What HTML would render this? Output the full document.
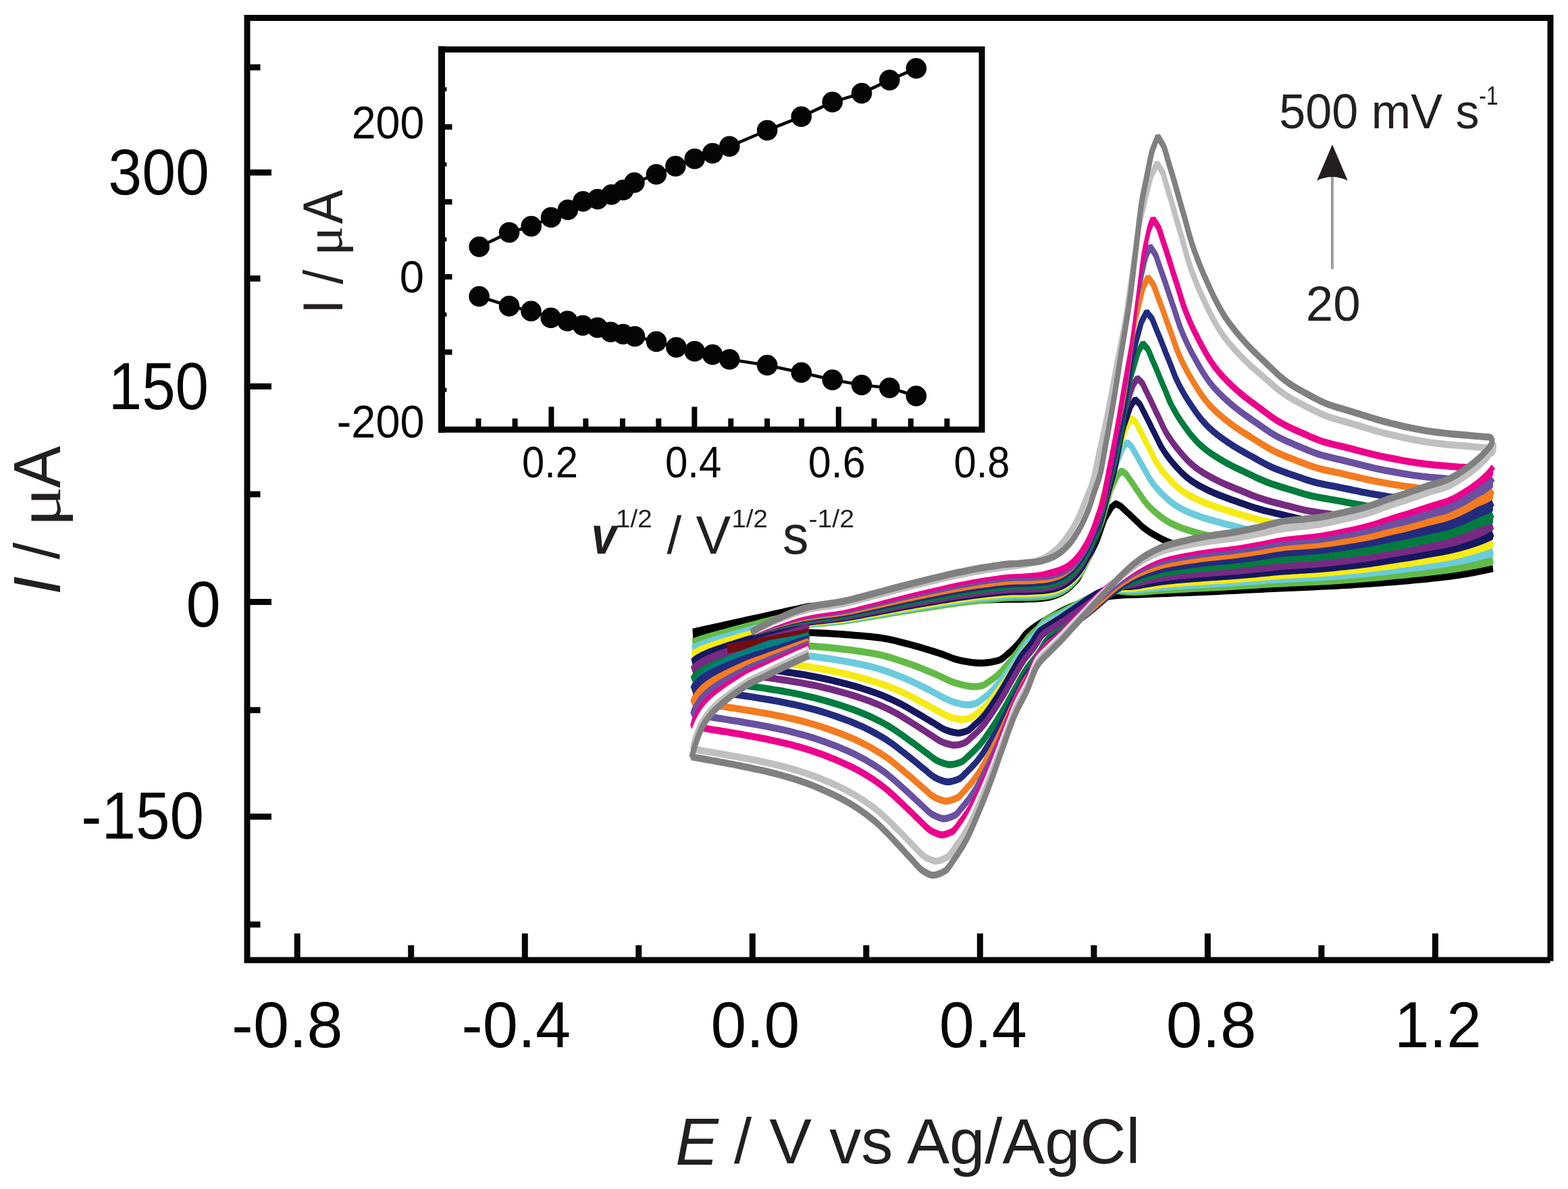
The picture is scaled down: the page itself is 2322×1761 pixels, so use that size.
<!DOCTYPE html>
<html lang="en"><head><meta charset="utf-8"><title>Cyclic voltammograms at different scan rates</title>
<style>html,body{margin:0;padding:0;background:#fff}body{width:2322px;height:1761px;overflow:hidden}svg{display:block}text{font-family:"Liberation Sans", Arial, Helvetica, sans-serif}</style>
</head><body>
<svg xmlns="http://www.w3.org/2000/svg" width="2322" height="1761" viewBox="0 0 2322 1761">
<rect width="2322" height="1761" fill="#fff"/>
<g id="curves" fill="none" stroke-linejoin="bevel">
<g transform="scale(1,1.3)">
<path d="M1026.0 720.0L1032.0 719.0L1038.0 718.0L1044.0 716.9L1050.0 715.9L1056.0 714.9L1062.0 713.9L1068.0 712.9L1074.0 711.8L1080.0 710.8L1086.0 709.8L1092.0 708.8L1098.0 707.8L1104.0 706.7L1110.0 705.7L1116.0 704.7L1122.0 703.7L1128.0 702.7L1134.0 701.6L1140.0 700.6L1146.0 699.6L1152.0 698.6L1158.0 697.6L1164.0 696.5L1170.0 695.5L1176.0 694.5L1182.0 693.5L1188.0 692.5L1198.0 690.8L1198.0 691.8L1188.0 693.7L1182.0 694.9L1176.0 696.1L1170.0 697.3L1164.0 698.5L1158.0 699.7L1152.0 700.9L1146.0 702.0L1140.0 703.2L1134.0 704.4L1128.0 705.6L1122.0 706.8L1116.0 708.0L1110.0 709.2L1104.0 710.4L1098.0 711.6L1092.0 712.8L1086.0 714.1L1080.0 715.3L1074.0 716.6L1068.0 717.8L1062.0 719.1L1056.0 720.4L1050.0 721.7L1044.0 723.0L1038.0 724.5L1032.0 726.1L1026.0 727.8Z" fill="#000000" stroke="none"/>
<path d="M1116.0 718.6L1122.0 715.9L1128.0 713.4L1134.0 710.9L1140.0 708.6L1146.0 706.4L1152.0 704.3L1158.0 702.2L1164.0 700.2L1170.0 698.2L1176.0 696.3L1182.0 694.5L1188.0 692.9L1194.0 691.6L1200.0 690.7L1206.0 690.6L1212.0 690.4L1218.0 690.3L1224.0 690.2L1230.0 690.1L1236.0 690.0L1242.0 689.9L1248.0 689.7L1254.0 689.6L1260.0 689.4L1266.0 689.2L1272.0 689.0L1278.0 688.8L1284.0 688.6L1290.0 688.4L1296.0 688.2L1302.0 688.0L1308.0 687.8L1314.0 687.6L1320.0 687.4L1326.0 687.2L1332.0 687.0L1338.0 686.8L1344.0 686.6L1350.0 686.4L1356.0 686.2L1362.0 686.0L1368.0 685.8L1374.0 685.6L1380.0 685.5L1386.0 685.3L1392.0 685.1L1398.0 684.9L1404.0 684.7L1410.0 684.6L1416.0 684.4L1422.0 684.2L1428.0 684.1L1434.0 683.9L1440.0 683.8L1446.0 683.6L1452.0 683.5L1458.0 683.4L1464.0 683.3L1470.0 683.1L1476.0 683.0L1482.0 682.9L1488.0 682.8L1494.0 682.7L1500.0 682.7L1506.0 682.7L1512.0 682.7L1518.0 682.6L1524.0 682.4L1530.0 682.3L1536.0 682.1L1540.0 681.8L1542.0 681.7L1544.0 681.5L1546.0 681.3L1548.0 681.1L1550.0 680.9L1552.0 680.6L1554.0 680.3L1556.0 680.0L1558.0 679.6L1560.0 679.1L1562.0 678.6L1564.0 678.1L1566.0 677.5L1568.0 676.8L1570.0 676.1L1572.0 675.3L1574.0 674.4L1576.0 673.5L1578.0 672.5L1580.0 671.5L1582.0 670.3L1584.0 669.0L1586.0 667.6L1588.0 666.0L1590.0 664.4L1592.0 662.9L1594.0 661.4L1596.0 659.6L1598.0 657.0L1600.0 654.0L1602.0 651.1L1604.0 648.3L1606.0 645.5L1608.0 642.5L1610.0 639.4L1612.0 636.2L1614.0 632.8L1616.0 629.5L1618.0 626.3L1620.0 623.2L1622.0 620.1L1624.0 616.8L1626.0 612.9L1628.0 608.5L1630.0 604.1L1632.0 599.6L1634.0 595.1L1636.0 591.1L1638.0 588.2L1640.0 585.7L1642.0 583.1L1644.0 580.5L1646.0 577.9L1652.0 573.8L1658.0 576.0L1660.0 577.0L1662.0 578.4L1664.0 579.9L1666.0 581.3L1668.0 582.8L1670.0 584.2L1672.0 585.6L1674.0 587.1L1676.0 588.6L1678.0 590.1L1680.0 591.5L1682.0 593.0L1684.0 594.4L1686.0 595.9L1688.0 597.4L1690.0 598.9L1692.0 600.3L1694.0 601.6L1696.0 602.7L1698.0 603.9L1700.0 604.9L1702.0 606.0L1704.0 607.0L1706.0 607.9L1708.0 608.8L1710.0 609.7L1712.0 610.6L1714.0 611.4L1716.0 612.2L1718.0 613.1L1720.0 613.9L1722.0 614.6L1724.0 615.4L1726.0 616.1L1728.0 616.8L1730.0 617.5L1732.0 618.1L1734.0 618.7L1736.0 619.3L1738.0 619.8L1740.0 620.3M2211.0 647.7L2209.0 648.0L2208.0 648.2L2206.0 648.5L2203.0 649.0L2202.0 649.2L2200.0 649.5L2197.0 650.0L2196.0 650.1L2194.0 650.4L2191.0 650.9L2190.0 651.1L2188.0 651.4L2185.0 651.8L2184.0 652.0L2182.0 652.3L2179.0 652.7L2178.0 652.8L2176.0 653.1L2173.0 653.5L2172.0 653.7L2170.0 653.9L2166.0 654.4L2160.0 655.2L2154.0 655.8L2148.0 656.5L2142.0 657.0L2136.0 657.6L2130.0 658.1L2124.0 658.6L2118.0 659.1L2112.0 659.6L2106.0 660.1L2100.0 660.5L2094.0 660.9L2088.0 661.3L2082.0 661.7L2076.0 662.1L2070.0 662.5L2064.0 662.9L2058.0 663.3L2052.0 663.6L2046.0 664.0L2040.0 664.3L2034.0 664.6L2028.0 665.0L2022.0 665.3L2016.0 665.6L2010.0 665.9L2004.0 666.2L1998.0 666.5L1992.0 666.7L1986.0 667.0L1980.0 667.3L1974.0 667.5L1968.0 667.8L1962.0 668.0L1956.0 668.2L1950.0 668.4L1944.0 668.7L1938.0 668.9L1932.0 669.1L1926.0 669.3L1920.0 669.4L1914.0 669.6L1908.0 669.8L1902.0 670.0L1896.0 670.2L1890.0 670.4L1884.0 670.6L1878.0 670.8L1872.0 671.1L1866.0 671.3L1860.0 671.5L1854.0 671.8L1848.0 672.0L1842.0 672.2L1836.0 672.5L1830.0 672.7L1824.0 673.0L1818.0 673.2L1812.0 673.4L1806.0 673.6L1800.0 673.8L1794.0 674.0L1788.0 674.2L1782.0 674.4L1776.0 674.6L1770.0 674.8L1764.0 675.0L1758.0 675.2L1752.0 675.4L1746.0 675.5L1740.0 675.7L1734.0 675.9L1728.0 676.1L1722.0 676.2L1716.0 676.4L1710.0 676.6L1704.0 676.8L1698.0 677.0L1692.0 677.2L1686.0 677.3L1680.0 677.5L1674.0 677.6L1668.0 677.8L1662.0 678.0L1656.0 678.3L1650.0 678.7L1644.0 679.3L1638.0 680.1L1632.0 681.0L1626.0 682.0L1620.0 683.1L1614.0 684.2L1608.0 685.4L1602.0 686.8L1596.0 688.3L1590.0 690.0L1584.0 691.8L1578.0 693.9L1572.0 696.2L1566.0 698.6L1560.0 701.2L1559.0 701.6L1556.0 703.0L1554.0 703.8L1553.0 704.3L1550.0 705.6L1548.0 706.5L1547.0 706.9L1544.0 708.3L1542.0 709.2L1541.0 709.7L1538.0 711.1L1536.0 712.1L1535.0 712.6L1532.0 714.2L1530.0 715.3L1529.0 715.8L1526.0 717.6L1524.0 718.9L1523.0 719.5L1520.0 721.6L1518.0 723.1L1517.0 723.9L1514.0 727.0L1512.0 729.3L1511.0 730.3L1508.0 733.1L1506.0 734.8L1505.0 735.6L1502.0 738.1L1500.0 739.6L1499.0 740.4L1496.0 742.5L1494.0 743.8L1493.0 744.5L1490.0 746.6L1488.0 747.9L1487.0 748.6L1484.0 750.4L1482.0 751.4L1481.0 751.7L1478.0 752.5L1476.0 752.9L1475.0 753.1L1472.0 753.6L1470.0 753.9L1469.0 754.1L1466.0 754.5L1464.0 754.7L1463.0 754.8L1460.0 755.1L1458.0 755.2L1457.0 755.3L1454.0 755.4L1452.0 755.4L1451.0 755.4L1448.0 755.3L1446.0 755.2L1445.0 755.2L1442.0 754.9L1440.0 754.8L1439.0 754.7L1436.0 754.3L1434.0 754.1L1433.0 753.9L1430.0 753.5L1428.0 753.3L1427.0 753.1L1424.0 752.7L1422.0 752.4L1421.0 752.2L1418.0 751.7L1416.0 751.3L1415.0 751.0L1412.0 750.3L1410.0 749.7L1409.0 749.4L1406.0 748.5L1404.0 747.9L1403.0 747.6L1400.0 746.7L1398.0 746.1L1397.0 745.8L1394.0 745.0L1392.0 744.5L1391.0 744.2L1388.0 743.5L1386.0 743.0L1385.0 742.8L1382.0 742.0L1380.0 741.6L1379.0 741.3L1376.0 740.6L1374.0 740.1L1373.0 739.9L1370.0 739.2L1368.0 738.7L1367.0 738.5L1364.0 737.8L1362.0 737.4L1361.0 737.1L1358.0 736.5L1356.0 736.1L1355.0 735.9L1352.0 735.2L1350.0 734.8L1349.0 734.6L1346.0 734.0L1344.0 733.6L1343.0 733.4L1340.0 732.8L1338.0 732.4L1332.0 731.2L1326.0 730.0L1320.0 728.9L1314.0 728.0L1308.0 727.2L1302.0 726.5L1296.0 726.0L1290.0 725.4L1284.0 725.0L1278.0 724.5L1272.0 724.1L1266.0 723.8L1260.0 723.4L1254.0 723.1L1248.0 722.7L1242.0 722.4L1236.0 722.1L1230.0 721.8L1224.0 721.5L1218.0 721.3L1212.0 721.1L1206.0 720.9L1200.0 720.8L1194.0 720.7L1188.0 720.6L1182.0 720.5L1176.0 720.5L1170.0 720.4L1164.0 720.3L1158.0 720.3L1152.0 720.2L1146.0 720.2L1140.0 720.1L1134.0 720.1L1128.0 720.1L1122.0 720.0L1116.0 720.0L1110.0 720.0L1104.0 720.0L1098.0 720.0L1092.0 720.0L1086.0 720.0L1080.0 720.0L1074.0 720.0L1068.0 720.0L1062.0 720.0L1056.0 720.0L1050.0 720.0L1044.0 720.0L1038.0 720.0L1032.0 720.0L1026.0 720.0L1028.0 719.7L1030.0 719.3L1032.0 719.0L1034.0 718.6L1036.0 718.3L1038.0 718.0L1040.0 717.6L1042.0 717.3L1044.0 716.9L1046.0 716.6L1048.0 716.3L1050.0 715.9L1052.0 715.6L1054.0 715.2L1056.0 714.9L1058.0 714.6L1060.0 714.2L1062.0 713.9L1064.0 713.5L1066.0 713.2L1068.0 712.9L1074.0 711.8L1080.0 710.8L1086.0 709.8L1092.0 708.8L1098.0 707.8L1104.0 706.7L1110.0 705.7L1116.0 704.7L1122.0 703.7L1128.0 702.7L1134.0 701.6L1140.0 700.6L1146.0 699.6L1152.0 698.6L1158.0 697.6L1164.0 696.5L1170.0 695.5L1176.0 694.5L1182.0 693.5L1188.0 692.5L1194.0 691.4L1198.0 690.8" stroke="#000000" stroke-width="8.0"/>
<path d="M1700.0 673.7L1707.0 673.3L1714.0 672.9L1721.0 672.5L1728.0 672.2L1735.0 671.9L1742.0 671.6L1749.0 671.3L1756.0 671.0L1763.0 670.8L1770.0 670.5L1777.0 670.2L1784.0 669.9L1791.0 669.6L1798.0 669.4L1805.0 669.1L1812.0 668.8L1819.0 668.5L1826.0 668.2L1833.0 667.8L1840.0 667.5L1847.0 667.2L1854.0 666.8L1861.0 666.5L1868.0 666.1L1875.0 665.8L1882.0 665.4L1889.0 665.1L1896.0 664.8L1903.0 664.5L1910.0 664.3L1917.0 664.0L1924.0 663.8L1931.0 663.6L1938.0 663.3L1945.0 663.0L1952.0 662.8L1959.0 662.5L1966.0 662.2L1973.0 661.8L1980.0 661.5L1987.0 661.1L1994.0 660.7L2001.0 660.4L2008.0 660.0L2015.0 659.5L2022.0 659.1L2029.0 658.7L2036.0 658.2L2043.0 657.7L2050.0 657.2L2057.0 656.7L2064.0 656.1L2071.0 655.6L2078.0 655.1L2085.0 654.5L2092.0 654.0L2099.0 653.4L2106.0 652.8L2113.0 652.2L2120.0 651.6L2127.0 650.9L2134.0 650.3L2141.0 649.6L2148.0 648.8L2155.0 647.9L2162.0 647.0L2169.0 645.9L2176.0 644.8L2183.0 643.6L2190.0 642.3L2197.0 641.0L2204.0 639.6L2211.0 638.1L2211.0 644.1L2204.0 645.2L2197.0 646.4L2190.0 647.5L2183.0 648.5L2176.0 649.5L2169.0 650.4L2162.0 651.3L2155.0 652.1L2148.0 652.8L2141.0 653.5L2134.0 654.2L2127.0 654.8L2120.0 655.4L2113.0 655.9L2106.0 656.5L2099.0 657.0L2092.0 657.5L2085.0 657.9L2078.0 658.4L2071.0 658.8L2064.0 659.3L2057.0 659.7L2050.0 660.1L2043.0 660.5L2036.0 660.9L2029.0 661.3L2022.0 661.7L2015.0 662.0L2008.0 662.4L2001.0 662.7L1994.0 663.0L1987.0 663.4L1980.0 663.7L1973.0 664.0L1966.0 664.2L1959.0 664.5L1952.0 664.8L1945.0 665.0L1938.0 665.2L1931.0 665.5L1924.0 665.7L1917.0 665.9L1910.0 666.1L1903.0 666.4L1896.0 666.6L1889.0 666.8L1882.0 667.1L1875.0 667.3L1868.0 667.6L1861.0 667.9L1854.0 668.2L1847.0 668.4L1840.0 668.7L1833.0 669.0L1826.0 669.3L1819.0 669.5L1812.0 669.8L1805.0 670.1L1798.0 670.3L1791.0 670.5L1784.0 670.8L1777.0 671.0L1770.0 671.2L1763.0 671.4L1756.0 671.6L1749.0 671.8L1742.0 672.0L1735.0 672.2L1728.0 672.5L1721.0 672.7L1714.0 672.9L1707.0 673.3L1700.0 673.7Z" fill="#62bb46" stroke="none"/>
<path d="M1026.0 731.4L1032.0 729.7L1038.0 728.1L1044.0 726.7L1050.0 725.3L1056.0 724.0L1062.0 722.7L1068.0 721.4L1074.0 720.2L1080.0 718.9L1086.0 717.7L1092.0 716.5L1098.0 715.2L1104.0 714.0L1110.0 712.8L1116.0 711.6L1122.0 710.4L1128.0 709.2L1134.0 708.0L1140.0 706.9L1146.0 705.7L1152.0 704.5L1158.0 703.3L1164.0 702.1L1170.0 700.9L1176.0 699.7L1182.0 698.5L1188.0 697.4L1198.0 695.4L1198.0 696.4L1188.0 698.4L1182.0 699.6L1176.0 700.8L1170.0 702.0L1164.0 703.2L1158.0 704.4L1152.0 705.6L1146.0 706.8L1140.0 708.0L1134.0 709.2L1128.0 710.4L1122.0 711.6L1116.0 712.8L1110.0 714.0L1104.0 715.3L1098.0 716.6L1092.0 717.8L1086.0 719.1L1080.0 720.4L1074.0 721.8L1068.0 723.1L1062.0 724.4L1056.0 725.8L1050.0 727.3L1044.0 728.8L1038.0 730.4L1032.0 732.4L1026.0 734.5Z" fill="#62bb46" stroke="none"/>
<path d="M1116.0 720.1L1122.0 719.9L1128.0 719.3L1134.0 718.5L1140.0 717.7L1146.0 716.9L1152.0 716.2L1158.0 715.4L1164.0 714.6L1170.0 713.8L1176.0 713.1L1182.0 712.4L1188.0 712.0L1194.0 711.6L1200.0 711.3L1206.0 710.7L1212.0 710.2L1218.0 709.8L1224.0 709.4L1230.0 709.0L1236.0 708.5L1242.0 708.1L1248.0 707.5L1254.0 706.9L1260.0 706.2L1266.0 705.5L1272.0 704.8L1278.0 704.0L1284.0 703.2L1290.0 702.5L1296.0 701.7L1302.0 700.9L1308.0 700.2L1314.0 699.4L1320.0 698.6L1326.0 697.8L1332.0 697.1L1338.0 696.3L1344.0 695.6L1350.0 694.9L1356.0 694.1L1362.0 693.4L1368.0 692.7L1374.0 692.0L1380.0 691.3L1386.0 690.6L1392.0 689.9L1398.0 689.2L1404.0 688.5L1410.0 687.9L1416.0 687.2L1422.0 686.6L1428.0 686.0L1434.0 685.5L1440.0 684.9L1446.0 684.4L1452.0 683.8L1458.0 683.3L1464.0 682.9L1470.0 682.5L1476.0 682.1L1482.0 681.6L1488.0 681.2L1494.0 681.0L1500.0 680.8L1506.0 680.7L1512.0 680.7L1518.0 680.7L1524.0 680.6L1530.0 680.4L1536.0 680.2L1540.0 680.1L1542.0 679.9L1544.0 679.8L1546.0 679.6L1548.0 679.4L1550.0 679.2L1552.0 679.0L1554.0 678.7L1556.0 678.4L1558.0 678.0L1560.0 677.6L1562.0 677.2L1564.0 676.7L1566.0 676.1L1568.0 675.5L1570.0 674.8L1572.0 674.1L1574.0 673.2L1576.0 672.3L1578.0 671.2L1580.0 670.2L1582.0 669.0L1584.0 667.8L1586.0 666.4L1588.0 665.0L1590.0 663.4L1592.0 661.6L1594.0 659.7L1596.0 657.6L1598.0 655.5L1600.0 653.7L1602.0 651.7L1604.0 649.0L1606.0 645.4L1608.0 641.5L1610.0 637.8L1612.0 634.3L1614.0 630.6L1616.0 626.8L1618.0 622.7L1620.0 618.5L1622.0 614.2L1624.0 609.9L1626.0 605.8L1628.0 601.8L1630.0 597.8L1632.0 593.6L1634.0 588.6L1636.0 583.0L1638.0 577.3L1640.0 571.6L1642.0 565.6L1644.0 560.3L1646.0 556.2L1648.0 552.9L1650.0 549.6L1652.0 546.2L1654.0 542.9L1661.0 536.2L1668.0 540.5L1670.0 542.8L1672.0 545.1L1674.0 547.3L1676.0 549.5L1678.0 551.7L1680.0 554.1L1682.0 556.4L1684.0 558.7L1686.0 560.9L1688.0 563.1L1690.0 565.4L1692.0 567.7L1694.0 570.0L1696.0 572.0L1698.0 573.9L1700.0 575.6L1702.0 577.2L1704.0 578.8L1706.0 580.3L1708.0 581.7L1710.0 583.0L1712.0 584.3L1714.0 585.6L1716.0 586.9L1718.0 588.1L1720.0 589.2L1722.0 590.4L1724.0 591.5L1726.0 592.5L1728.0 593.5L1730.0 594.4L1732.0 595.3L1734.0 596.2L1736.0 596.9L1738.0 597.7L1740.0 598.4L1742.0 599.1L1744.0 599.7L1746.0 600.3L1748.0 600.9L1750.0 601.5L1752.0 602.1L1754.0 602.6L1756.0 603.1L1758.0 603.6L1760.0 604.1L1762.0 604.6L1764.0 605.1L1766.0 605.6L1768.0 606.0L1770.0 606.5L1772.0 606.9L1774.0 607.3L1776.0 607.7L1778.0 608.1L1780.0 608.5L1782.0 608.9L1784.0 609.2L1786.0 609.6L1788.0 610.0L1790.0 610.3L1792.0 610.7L1794.0 611.0L1796.0 611.4M2211.0 638.1L2209.0 638.6L2208.0 638.8L2206.0 639.2L2203.0 639.8L2202.0 640.1L2200.0 640.5L2197.0 641.0L2196.0 641.2L2194.0 641.6L2191.0 642.1L2190.0 642.3L2188.0 642.7L2185.0 643.2L2184.0 643.4L2182.0 643.8L2179.0 644.3L2178.0 644.5L2176.0 644.8L2173.0 645.3L2172.0 645.4L2170.0 645.8L2166.0 646.4L2160.0 647.2L2154.0 648.1L2148.0 648.8L2142.0 649.5L2136.0 650.1L2130.0 650.7L2124.0 651.2L2118.0 651.8L2112.0 652.3L2106.0 652.8L2100.0 653.3L2094.0 653.8L2088.0 654.3L2082.0 654.8L2076.0 655.2L2070.0 655.7L2064.0 656.1L2058.0 656.6L2052.0 657.0L2046.0 657.5L2040.0 657.9L2034.0 658.3L2028.0 658.7L2022.0 659.1L2016.0 659.5L2010.0 659.8L2004.0 660.2L1998.0 660.5L1992.0 660.8L1986.0 661.2L1980.0 661.5L1974.0 661.8L1968.0 662.1L1962.0 662.3L1956.0 662.6L1950.0 662.9L1944.0 663.1L1938.0 663.3L1932.0 663.5L1926.0 663.7L1920.0 663.9L1914.0 664.1L1908.0 664.3L1902.0 664.6L1896.0 664.8L1890.0 665.1L1884.0 665.3L1878.0 665.6L1872.0 665.9L1866.0 666.2L1860.0 666.5L1854.0 666.8L1848.0 667.1L1842.0 667.4L1836.0 667.7L1830.0 668.0L1824.0 668.3L1818.0 668.5L1812.0 668.8L1806.0 669.0L1800.0 669.3L1794.0 669.5L1788.0 669.8L1782.0 670.0L1776.0 670.2L1770.0 670.5L1764.0 670.7L1758.0 671.0L1752.0 671.2L1746.0 671.4L1740.0 671.7L1734.0 671.9L1728.0 672.2L1722.0 672.5L1716.0 672.8L1710.0 673.1L1704.0 673.5L1698.0 673.8L1692.0 674.2L1686.0 674.5L1680.0 674.6L1674.0 674.5L1668.0 674.2L1662.0 673.7L1656.0 673.1L1650.0 673.0L1644.0 673.3L1638.0 674.0L1632.0 675.2L1626.0 676.7L1620.0 678.5L1614.0 680.7L1608.0 683.0L1602.0 685.4L1596.0 687.8L1590.0 690.2L1584.0 692.6L1578.0 695.0L1572.0 697.4L1566.0 699.6L1560.0 701.7L1559.0 702.1L1556.0 703.2L1554.0 703.9L1553.0 704.3L1550.0 705.5L1548.0 706.4L1547.0 707.0L1544.0 709.2L1542.0 711.1L1541.0 712.1L1538.0 714.9L1536.0 716.5L1535.0 717.3L1532.0 719.4L1530.0 720.7L1529.0 721.4L1526.0 723.7L1524.0 725.3L1523.0 726.2L1520.0 729.1L1518.0 731.1L1517.0 732.2L1514.0 735.2L1512.0 737.3L1511.0 738.3L1508.0 741.4L1506.0 743.5L1505.0 744.5L1502.0 747.5L1500.0 749.5L1499.0 750.4L1496.0 753.3L1494.0 755.1L1493.0 756.0L1490.0 758.7L1488.0 760.4L1487.0 761.3L1484.0 763.8L1482.0 765.5L1481.0 766.3L1478.0 768.6L1476.0 770.0L1475.0 770.7L1472.0 772.5L1470.0 773.7L1469.0 774.2L1466.0 775.8L1464.0 776.9L1463.0 777.4L1460.0 779.0L1458.0 780.0L1457.0 780.4L1454.0 781.1L1452.0 781.5L1451.0 781.6L1448.0 782.0L1446.0 782.2L1445.0 782.3L1442.0 782.2L1440.0 782.1L1439.0 782.1L1436.0 781.8L1434.0 781.6L1433.0 781.4L1430.0 781.0L1428.0 780.7L1427.0 780.6L1424.0 780.0L1422.0 779.6L1421.0 779.4L1418.0 778.8L1416.0 778.3L1415.0 778.1L1412.0 777.3L1410.0 776.8L1409.0 776.5L1406.0 775.5L1404.0 774.9L1403.0 774.5L1400.0 773.4L1398.0 772.7L1397.0 772.3L1394.0 771.2L1392.0 770.4L1391.0 770.1L1388.0 769.0L1386.0 768.3L1385.0 768.0L1382.0 767.0L1380.0 766.4L1379.0 766.0L1376.0 765.1L1374.0 764.5L1373.0 764.1L1370.0 763.2L1368.0 762.6L1367.0 762.2L1364.0 761.3L1362.0 760.7L1361.0 760.4L1358.0 759.5L1356.0 758.9L1355.0 758.6L1352.0 757.8L1350.0 757.2L1349.0 756.9L1346.0 756.1L1344.0 755.6L1343.0 755.3L1340.0 754.5L1338.0 754.0L1332.0 752.5L1326.0 751.0L1320.0 749.5L1314.0 748.2L1308.0 746.9L1302.0 745.9L1296.0 744.9L1290.0 744.1L1284.0 743.3L1278.0 742.6L1272.0 741.9L1266.0 741.3L1260.0 740.7L1254.0 740.1L1248.0 739.6L1242.0 739.0L1236.0 738.5L1230.0 738.0L1224.0 737.5L1218.0 737.1L1212.0 736.7L1206.0 736.3L1200.0 736.0L1194.0 735.7L1188.0 735.5L1182.0 735.2L1176.0 735.0L1170.0 734.8L1164.0 734.6L1158.0 734.4L1152.0 734.2L1146.0 734.0L1140.0 733.8L1134.0 733.7L1128.0 733.5L1122.0 733.4L1116.0 733.2L1110.0 733.1L1104.0 733.0L1098.0 732.8L1092.0 732.7L1086.0 732.6L1080.0 732.5L1074.0 732.4L1068.0 732.3L1062.0 732.2L1056.0 732.1L1050.0 732.0L1044.0 731.9L1038.0 731.8L1032.0 731.6L1026.0 731.5L1028.0 730.8L1030.0 730.2L1032.0 729.7L1034.0 729.1L1036.0 728.6L1038.0 728.1L1040.0 727.6L1042.0 727.1L1044.0 726.7L1046.0 726.2L1048.0 725.7L1050.0 725.3L1052.0 724.9L1054.0 724.4L1056.0 724.0L1058.0 723.5L1060.0 723.1L1062.0 722.7L1064.0 722.3L1066.0 721.8L1068.0 721.4L1074.0 720.2L1080.0 718.9L1086.0 717.7L1092.0 716.5L1098.0 715.2L1104.0 714.0L1110.0 712.8L1116.0 711.6L1122.0 710.4L1128.0 709.2L1134.0 708.0L1140.0 706.9L1146.0 705.7L1152.0 704.5L1158.0 703.3L1164.0 702.1L1170.0 700.9L1176.0 699.7L1182.0 698.5L1188.0 697.4L1194.0 696.2L1198.0 695.4" stroke="#62bb46" stroke-width="8.0"/>
<path d="M1700.0 670.8L1707.0 670.2L1714.0 669.7L1721.0 669.2L1728.0 668.7L1735.0 668.3L1742.0 668.0L1749.0 667.6L1756.0 667.3L1763.0 666.9L1770.0 666.6L1777.0 666.3L1784.0 665.9L1791.0 665.6L1798.0 665.3L1805.0 665.0L1812.0 664.7L1819.0 664.4L1826.0 664.0L1833.0 663.7L1840.0 663.3L1847.0 662.9L1854.0 662.5L1861.0 662.1L1868.0 661.7L1875.0 661.3L1882.0 660.9L1889.0 660.5L1896.0 660.2L1903.0 659.8L1910.0 659.5L1917.0 659.3L1924.0 659.0L1931.0 658.7L1938.0 658.5L1945.0 658.2L1952.0 657.9L1959.0 657.5L1966.0 657.1L1973.0 656.7L1980.0 656.3L1987.0 655.9L1994.0 655.4L2001.0 655.0L2008.0 654.5L2015.0 654.0L2022.0 653.5L2029.0 653.0L2036.0 652.4L2043.0 651.8L2050.0 651.2L2057.0 650.5L2064.0 649.9L2071.0 649.3L2078.0 648.7L2085.0 648.0L2092.0 647.3L2099.0 646.7L2106.0 646.0L2113.0 645.2L2120.0 644.5L2127.0 643.8L2134.0 643.0L2141.0 642.2L2148.0 641.3L2155.0 640.3L2162.0 639.1L2169.0 637.9L2176.0 636.5L2183.0 635.1L2190.0 633.5L2197.0 631.8L2204.0 630.0L2211.0 627.8L2211.0 634.5L2204.0 636.0L2197.0 637.4L2190.0 638.7L2183.0 640.0L2176.0 641.2L2169.0 642.3L2162.0 643.3L2155.0 644.3L2148.0 645.2L2141.0 645.9L2134.0 646.7L2127.0 647.3L2120.0 648.0L2113.0 648.6L2106.0 649.2L2099.0 649.8L2092.0 650.4L2085.0 650.9L2078.0 651.5L2071.0 652.0L2064.0 652.5L2057.0 653.0L2050.0 653.6L2043.0 654.1L2036.0 654.6L2029.0 655.0L2022.0 655.5L2015.0 655.9L2008.0 656.3L2001.0 656.7L1994.0 657.1L1987.0 657.5L1980.0 657.9L1973.0 658.2L1966.0 658.5L1959.0 658.9L1952.0 659.2L1945.0 659.4L1938.0 659.7L1931.0 659.9L1924.0 660.2L1917.0 660.4L1910.0 660.7L1903.0 660.9L1896.0 661.2L1889.0 661.5L1882.0 661.8L1875.0 662.2L1868.0 662.5L1861.0 662.9L1854.0 663.2L1847.0 663.5L1840.0 663.9L1833.0 664.2L1826.0 664.5L1819.0 664.9L1812.0 665.2L1805.0 665.5L1798.0 665.7L1791.0 666.0L1784.0 666.3L1777.0 666.6L1770.0 666.9L1763.0 667.1L1756.0 667.4L1749.0 667.7L1742.0 668.0L1735.0 668.3L1728.0 668.7L1721.0 669.2L1714.0 669.7L1707.0 670.2L1700.0 670.8Z" fill="#6acbdc" stroke="none"/>
<path d="M1026.0 738.1L1032.0 736.0L1038.0 734.1L1044.0 732.4L1050.0 730.9L1056.0 729.4L1062.0 728.0L1068.0 726.7L1074.0 725.4L1080.0 724.1L1086.0 722.8L1092.0 721.5L1098.0 720.2L1104.0 718.9L1110.0 717.7L1116.0 716.4L1122.0 715.2L1128.0 714.0L1134.0 712.8L1140.0 711.6L1146.0 710.4L1152.0 709.2L1158.0 708.0L1164.0 706.8L1170.0 705.6L1176.0 704.4L1182.0 703.2L1188.0 702.0L1198.0 700.0L1198.0 701.0L1188.0 703.0L1182.0 704.2L1176.0 705.4L1170.0 706.7L1164.0 707.9L1158.0 709.1L1152.0 710.3L1146.0 711.5L1140.0 712.8L1134.0 714.0L1128.0 715.2L1122.0 716.4L1116.0 717.7L1110.0 718.9L1104.0 720.2L1098.0 721.5L1092.0 722.8L1086.0 724.2L1080.0 725.5L1074.0 726.9L1068.0 728.3L1062.0 729.8L1056.0 731.3L1050.0 732.8L1044.0 734.5L1038.0 736.4L1032.0 738.7L1026.0 741.3Z" fill="#6acbdc" stroke="none"/>
<path d="M1116.0 720.0L1122.0 719.8L1128.0 719.1L1134.0 718.2L1140.0 717.4L1146.0 716.5L1152.0 715.7L1158.0 714.9L1164.0 714.1L1170.0 713.2L1176.0 712.5L1182.0 711.8L1188.0 711.2L1194.0 710.9L1200.0 710.5L1206.0 709.9L1212.0 709.4L1218.0 708.9L1224.0 708.5L1230.0 708.1L1236.0 707.6L1242.0 707.1L1248.0 706.6L1254.0 705.9L1260.0 705.2L1266.0 704.5L1272.0 703.7L1278.0 702.9L1284.0 702.0L1290.0 701.2L1296.0 700.5L1302.0 699.6L1308.0 698.8L1314.0 698.0L1320.0 697.2L1326.0 696.4L1332.0 695.6L1338.0 694.8L1344.0 694.0L1350.0 693.3L1356.0 692.5L1362.0 691.7L1368.0 691.0L1374.0 690.3L1380.0 689.5L1386.0 688.8L1392.0 688.1L1398.0 687.3L1404.0 686.6L1410.0 685.9L1416.0 685.3L1422.0 684.6L1428.0 684.0L1434.0 683.4L1440.0 682.8L1446.0 682.2L1452.0 681.7L1458.0 681.2L1464.0 680.7L1470.0 680.3L1476.0 679.8L1482.0 679.4L1488.0 679.0L1494.0 678.7L1500.0 678.5L1506.0 678.4L1512.0 678.4L1518.0 678.4L1524.0 678.3L1530.0 678.1L1536.0 677.9L1540.0 677.7L1542.0 677.6L1544.0 677.5L1546.0 677.4L1548.0 677.2L1550.0 676.9L1552.0 676.7L1554.0 676.4L1556.0 676.1L1558.0 675.8L1560.0 675.4L1562.0 675.0L1564.0 674.6L1566.0 674.0L1568.0 673.4L1570.0 672.7L1572.0 672.0L1574.0 671.2L1576.0 670.4L1578.0 669.4L1580.0 668.3L1582.0 667.2L1584.0 665.9L1586.0 664.6L1588.0 663.2L1590.0 661.7L1592.0 660.1L1594.0 658.3L1596.0 656.4L1598.0 654.2L1600.0 651.8L1602.0 649.4L1604.0 647.2L1606.0 645.0L1608.0 642.5L1610.0 639.1L1612.0 634.8L1614.0 630.3L1616.0 626.1L1618.0 622.0L1620.0 617.8L1622.0 613.3L1624.0 608.6L1626.0 603.8L1628.0 598.8L1630.0 593.8L1632.0 589.0L1634.0 584.4L1636.0 579.7L1638.0 575.0L1640.0 569.6L1642.0 563.3L1644.0 556.7L1646.0 550.2L1648.0 543.4L1650.0 536.7L1652.0 531.0L1654.0 526.8L1656.0 523.0L1658.0 519.1L1660.0 515.3L1662.0 511.4L1669.0 503.8L1676.0 509.1L1678.0 511.9L1680.0 514.7L1682.0 517.3L1684.0 520.0L1686.0 522.7L1688.0 525.5L1690.0 528.3L1692.0 531.0L1694.0 533.7L1696.0 536.4L1698.0 539.1L1700.0 542.0L1702.0 544.7L1704.0 547.2L1706.0 549.4L1708.0 551.5L1710.0 553.4L1712.0 555.3L1714.0 557.1L1716.0 558.8L1718.0 560.5L1720.0 562.0L1722.0 563.6L1724.0 565.1L1726.0 566.5L1728.0 567.9L1730.0 569.3L1732.0 570.6L1734.0 571.9L1736.0 573.1L1738.0 574.2L1740.0 575.3L1742.0 576.3L1744.0 577.2L1746.0 578.1L1748.0 579.0L1750.0 579.8L1752.0 580.6L1754.0 581.4L1756.0 582.1L1758.0 582.8L1760.0 583.5L1762.0 584.1L1764.0 584.7L1766.0 585.4L1768.0 586.0L1770.0 586.5L1772.0 587.1L1774.0 587.7L1776.0 588.2L1778.0 588.8L1780.0 589.3L1782.0 589.8L1784.0 590.3L1786.0 590.8L1788.0 591.2L1790.0 591.7L1792.0 592.2L1794.0 592.6L1796.0 593.0L1798.0 593.5L1800.0 593.9L1806.0 595.1L1812.0 596.4L1818.0 597.6L1824.0 598.8L1830.0 600.0L1836.0 601.2L1842.0 602.3L1848.0 603.4M2211.0 627.8L2209.0 628.4L2208.0 628.7L2206.0 629.4L2203.0 630.2L2202.0 630.5L2200.0 631.1L2197.0 631.8L2196.0 632.1L2194.0 632.6L2191.0 633.3L2190.0 633.5L2188.0 634.0L2185.0 634.6L2184.0 634.9L2182.0 635.3L2179.0 635.9L2178.0 636.1L2176.0 636.5L2173.0 637.1L2172.0 637.3L2170.0 637.7L2166.0 638.4L2160.0 639.5L2154.0 640.4L2148.0 641.3L2142.0 642.1L2136.0 642.8L2130.0 643.5L2124.0 644.1L2118.0 644.7L2112.0 645.3L2106.0 646.0L2100.0 646.6L2094.0 647.2L2088.0 647.7L2082.0 648.3L2076.0 648.8L2070.0 649.4L2064.0 649.9L2058.0 650.4L2052.0 651.0L2046.0 651.5L2040.0 652.0L2034.0 652.6L2028.0 653.1L2022.0 653.5L2016.0 654.0L2010.0 654.4L2004.0 654.8L1998.0 655.2L1992.0 655.6L1986.0 655.9L1980.0 656.3L1974.0 656.7L1968.0 657.0L1962.0 657.4L1956.0 657.7L1950.0 657.9L1944.0 658.2L1938.0 658.5L1932.0 658.7L1926.0 658.9L1920.0 659.2L1914.0 659.4L1908.0 659.6L1902.0 659.9L1896.0 660.2L1890.0 660.5L1884.0 660.8L1878.0 661.1L1872.0 661.5L1866.0 661.8L1860.0 662.2L1854.0 662.5L1848.0 662.8L1842.0 663.2L1836.0 663.5L1830.0 663.8L1824.0 664.1L1818.0 664.4L1812.0 664.7L1806.0 665.0L1800.0 665.2L1794.0 665.5L1788.0 665.8L1782.0 666.0L1776.0 666.3L1770.0 666.6L1764.0 666.9L1758.0 667.2L1752.0 667.5L1746.0 667.8L1740.0 668.1L1734.0 668.4L1728.0 668.7L1722.0 669.1L1716.0 669.5L1710.0 670.0L1704.0 670.4L1698.0 670.9L1692.0 671.5L1686.0 672.0L1680.0 672.3L1674.0 672.3L1668.0 672.1L1662.0 671.7L1656.0 671.6L1650.0 671.8L1644.0 672.3L1638.0 673.4L1632.0 674.8L1626.0 676.6L1620.0 678.7L1614.0 681.2L1608.0 683.9L1602.0 686.6L1596.0 689.3L1590.0 691.9L1584.0 694.6L1578.0 697.3L1572.0 700.0L1566.0 702.5L1560.0 704.9L1559.0 705.3L1556.0 706.6L1554.0 707.4L1553.0 707.8L1550.0 709.0L1548.0 709.9L1547.0 710.4L1544.0 712.0L1542.0 713.5L1541.0 714.4L1538.0 717.6L1536.0 719.8L1535.0 720.9L1532.0 723.7L1530.0 725.3L1529.0 726.1L1526.0 728.4L1524.0 730.0L1523.0 730.8L1520.0 733.5L1518.0 735.4L1517.0 736.5L1514.0 739.8L1512.0 742.1L1511.0 743.2L1508.0 746.7L1506.0 749.0L1505.0 750.1L1502.0 753.6L1500.0 755.9L1499.0 757.1L1496.0 760.5L1494.0 762.7L1493.0 763.8L1490.0 767.0L1488.0 769.1L1487.0 770.1L1484.0 773.2L1482.0 775.1L1481.0 776.1L1478.0 779.0L1476.0 780.9L1475.0 781.8L1472.0 784.6L1470.0 786.3L1469.0 787.1L1466.0 789.3L1464.0 790.7L1463.0 791.4L1460.0 793.3L1458.0 794.5L1457.0 795.1L1454.0 796.9L1452.0 798.1L1451.0 798.7L1448.0 800.4L1446.0 801.1L1445.0 801.4L1442.0 802.0L1440.0 802.4L1439.0 802.5L1436.0 802.9L1434.0 803.0L1433.0 803.1L1430.0 802.9L1428.0 802.7L1427.0 802.6L1424.0 802.2L1422.0 801.9L1421.0 801.7L1418.0 801.1L1416.0 800.7L1415.0 800.5L1412.0 799.8L1410.0 799.2L1409.0 798.9L1406.0 797.9L1404.0 797.3L1403.0 796.9L1400.0 795.8L1398.0 795.1L1397.0 794.7L1394.0 793.5L1392.0 792.7L1391.0 792.3L1388.0 791.1L1386.0 790.2L1385.0 789.8L1382.0 788.5L1380.0 787.7L1379.0 787.3L1376.0 786.1L1374.0 785.3L1373.0 784.9L1370.0 783.8L1368.0 783.0L1367.0 782.6L1364.0 781.5L1362.0 780.7L1361.0 780.4L1358.0 779.2L1356.0 778.5L1355.0 778.1L1352.0 777.0L1350.0 776.3L1349.0 775.9L1346.0 774.9L1344.0 774.2L1343.0 773.9L1340.0 772.9L1338.0 772.2L1332.0 770.4L1326.0 768.6L1320.0 766.8L1314.0 765.2L1308.0 763.6L1302.0 762.1L1296.0 760.8L1290.0 759.6L1284.0 758.5L1278.0 757.4L1272.0 756.5L1266.0 755.5L1260.0 754.7L1254.0 753.8L1248.0 753.0L1242.0 752.2L1236.0 751.5L1230.0 750.7L1224.0 750.0L1218.0 749.3L1212.0 748.7L1206.0 748.1L1200.0 747.6L1194.0 747.1L1188.0 746.6L1182.0 746.2L1176.0 745.7L1170.0 745.3L1164.0 744.9L1158.0 744.6L1152.0 744.2L1146.0 743.9L1140.0 743.5L1134.0 743.2L1128.0 742.9L1122.0 742.6L1116.0 742.3L1110.0 742.0L1104.0 741.7L1098.0 741.4L1092.0 741.2L1086.0 740.9L1080.0 740.7L1074.0 740.4L1068.0 740.2L1062.0 739.9L1056.0 739.7L1050.0 739.4L1044.0 739.2L1038.0 738.9L1032.0 738.7L1026.0 738.5L1028.0 737.4L1030.0 736.7L1032.0 736.0L1034.0 735.3L1036.0 734.7L1038.0 734.1L1040.0 733.5L1042.0 732.9L1044.0 732.4L1046.0 731.9L1048.0 731.4L1050.0 730.9L1052.0 730.4L1054.0 729.9L1056.0 729.4L1058.0 729.0L1060.0 728.5L1062.0 728.0L1064.0 727.6L1066.0 727.1L1068.0 726.7L1074.0 725.4L1080.0 724.1L1086.0 722.8L1092.0 721.5L1098.0 720.2L1104.0 718.9L1110.0 717.7L1116.0 716.4L1122.0 715.2L1128.0 714.0L1134.0 712.8L1140.0 711.6L1146.0 710.4L1152.0 709.2L1158.0 708.0L1164.0 706.8L1170.0 705.6L1176.0 704.4L1182.0 703.2L1188.0 702.0L1194.0 700.8L1198.0 700.0" stroke="#6acbdc" stroke-width="8.0"/>
<path d="M1700.0 668.1L1707.0 667.3L1714.0 666.7L1721.0 666.0L1728.0 665.5L1735.0 665.0L1742.0 664.6L1749.0 664.2L1756.0 663.8L1763.0 663.4L1770.0 663.0L1777.0 662.7L1784.0 662.3L1791.0 662.0L1798.0 661.6L1805.0 661.3L1812.0 661.0L1819.0 660.6L1826.0 660.2L1833.0 659.8L1840.0 659.4L1847.0 659.0L1854.0 658.6L1861.0 658.1L1868.0 657.7L1875.0 657.2L1882.0 656.8L1889.0 656.3L1896.0 655.9L1903.0 655.6L1910.0 655.2L1917.0 654.9L1924.0 654.6L1931.0 654.3L1938.0 654.0L1945.0 653.7L1952.0 653.4L1959.0 653.0L1966.0 652.5L1973.0 652.1L1980.0 651.6L1987.0 651.1L1994.0 650.6L2001.0 650.1L2008.0 649.5L2015.0 649.0L2022.0 648.4L2029.0 647.8L2036.0 647.1L2043.0 646.4L2050.0 645.6L2057.0 644.9L2064.0 644.2L2071.0 643.4L2078.0 642.7L2085.0 642.0L2092.0 641.2L2099.0 640.4L2106.0 639.6L2113.0 638.8L2120.0 637.9L2127.0 637.1L2134.0 636.3L2141.0 635.4L2148.0 634.3L2155.0 633.1L2162.0 631.8L2169.0 630.3L2176.0 628.8L2183.0 627.1L2190.0 625.2L2197.0 623.2L2204.0 620.9L2211.0 618.2L2211.0 624.2L2204.0 626.3L2197.0 628.2L2190.0 629.9L2183.0 631.5L2176.0 632.9L2169.0 634.3L2162.0 635.5L2155.0 636.7L2148.0 637.7L2141.0 638.6L2134.0 639.4L2127.0 640.2L2120.0 640.9L2113.0 641.6L2106.0 642.3L2099.0 643.0L2092.0 643.7L2085.0 644.4L2078.0 645.0L2071.0 645.7L2064.0 646.3L2057.0 646.9L2050.0 647.5L2043.0 648.2L2036.0 648.8L2029.0 649.4L2022.0 649.9L2015.0 650.4L2008.0 650.9L2001.0 651.4L1994.0 651.8L1987.0 652.3L1980.0 652.7L1973.0 653.1L1966.0 653.5L1959.0 653.9L1952.0 654.2L1945.0 654.6L1938.0 654.8L1931.0 655.1L1924.0 655.4L1917.0 655.7L1910.0 655.9L1903.0 656.2L1896.0 656.5L1889.0 656.9L1882.0 657.3L1875.0 657.7L1868.0 658.1L1861.0 658.5L1854.0 658.9L1847.0 659.3L1840.0 659.7L1833.0 660.0L1826.0 660.4L1819.0 660.8L1812.0 661.1L1805.0 661.4L1798.0 661.7L1791.0 662.0L1784.0 662.3L1777.0 662.7L1770.0 663.0L1763.0 663.4L1756.0 663.8L1749.0 664.2L1742.0 664.6L1735.0 665.0L1728.0 665.5L1721.0 666.0L1714.0 666.7L1707.0 667.3L1700.0 668.1Z" fill="#f6eb14" stroke="none"/>
<path d="M1026.0 744.9L1032.0 742.3L1038.0 740.0L1044.0 738.1L1050.0 736.4L1056.0 734.9L1062.0 733.4L1068.0 731.9L1074.0 730.5L1080.0 729.2L1086.0 727.8L1092.0 726.5L1098.0 725.1L1104.0 723.8L1110.0 722.5L1116.0 721.3L1122.0 720.1L1128.0 718.8L1134.0 717.6L1140.0 716.4L1146.0 715.2L1152.0 713.9L1158.0 712.7L1164.0 711.5L1170.0 710.3L1176.0 709.1L1182.0 707.8L1188.0 706.6L1198.0 704.6L1198.0 705.6L1188.0 707.7L1182.0 709.0L1176.0 710.3L1170.0 711.5L1164.0 712.8L1158.0 714.1L1152.0 715.4L1146.0 716.7L1140.0 717.9L1134.0 719.2L1128.0 720.5L1122.0 721.8L1116.0 723.1L1110.0 724.4L1104.0 725.7L1098.0 727.2L1092.0 728.6L1086.0 730.0L1080.0 731.5L1074.0 733.0L1068.0 734.5L1062.0 736.1L1056.0 737.8L1050.0 739.5L1044.0 741.5L1038.0 743.7L1032.0 746.4L1026.0 749.6Z" fill="#f6eb14" stroke="none"/>
<path d="M1116.0 720.0L1122.0 719.6L1128.0 718.9L1134.0 718.0L1140.0 717.0L1146.0 716.2L1152.0 715.3L1158.0 714.4L1164.0 713.5L1170.0 712.7L1176.0 711.8L1182.0 711.1L1188.0 710.5L1194.0 710.1L1200.0 709.8L1206.0 709.1L1212.0 708.6L1218.0 708.1L1224.0 707.6L1230.0 707.2L1236.0 706.7L1242.0 706.2L1248.0 705.6L1254.0 704.9L1260.0 704.2L1266.0 703.4L1272.0 702.6L1278.0 701.7L1284.0 700.9L1290.0 700.0L1296.0 699.2L1302.0 698.4L1308.0 697.5L1314.0 696.6L1320.0 695.8L1326.0 694.9L1332.0 694.1L1338.0 693.3L1344.0 692.5L1350.0 691.6L1356.0 690.9L1362.0 690.1L1368.0 689.3L1374.0 688.5L1380.0 687.7L1386.0 687.0L1392.0 686.2L1398.0 685.4L1404.0 684.7L1410.0 684.0L1416.0 683.3L1422.0 682.6L1428.0 682.0L1434.0 681.3L1440.0 680.7L1446.0 680.1L1452.0 679.5L1458.0 679.0L1464.0 678.5L1470.0 678.0L1476.0 677.6L1482.0 677.1L1488.0 676.7L1494.0 676.4L1500.0 676.2L1506.0 676.1L1512.0 676.1L1518.0 676.1L1524.0 676.0L1530.0 675.8L1536.0 675.5L1540.0 675.4L1542.0 675.3L1544.0 675.2L1546.0 675.1L1548.0 674.9L1550.0 674.7L1552.0 674.4L1554.0 674.1L1556.0 673.9L1558.0 673.5L1560.0 673.2L1562.0 672.8L1564.0 672.3L1566.0 671.8L1568.0 671.3L1570.0 670.6L1572.0 669.9L1574.0 669.2L1576.0 668.3L1578.0 667.4L1580.0 666.4L1582.0 665.3L1584.0 664.1L1586.0 662.8L1588.0 661.4L1590.0 659.9L1592.0 658.4L1594.0 656.7L1596.0 654.9L1598.0 652.9L1600.0 650.8L1602.0 648.5L1604.0 645.8L1606.0 643.2L1608.0 640.7L1610.0 638.3L1612.0 635.7L1614.0 632.2L1616.0 627.7L1618.0 622.8L1620.0 618.1L1622.0 613.6L1624.0 609.0L1626.0 604.2L1628.0 599.2L1630.0 593.9L1632.0 588.6L1634.0 583.1L1636.0 577.6L1638.0 572.5L1640.0 567.4L1642.0 562.3L1644.0 557.1L1646.0 551.0L1648.0 544.1L1650.0 536.9L1652.0 529.7L1654.0 522.3L1656.0 514.9L1658.0 508.4L1660.0 503.6L1662.0 499.5L1664.0 495.2L1666.0 491.0L1668.0 486.8L1670.0 483.2L1676.0 476.6L1682.0 481.2L1684.0 483.8L1686.0 487.0L1688.0 490.0L1690.0 492.9L1692.0 495.9L1694.0 498.9L1696.0 502.0L1698.0 505.1L1700.0 508.2L1702.0 511.1L1704.0 514.1L1706.0 517.2L1708.0 520.3L1710.0 523.4L1712.0 526.1L1714.0 528.6L1716.0 530.9L1718.0 533.1L1720.0 535.3L1722.0 537.3L1724.0 539.2L1726.0 541.0L1728.0 542.8L1730.0 544.5L1732.0 546.2L1734.0 547.8L1736.0 549.4L1738.0 551.0L1740.0 552.5L1742.0 553.9L1744.0 555.3L1746.0 556.6L1748.0 557.8L1750.0 559.0L1752.0 560.1L1754.0 561.1L1756.0 562.1L1758.0 563.0L1760.0 563.9L1762.0 564.8L1764.0 565.7L1766.0 566.5L1768.0 567.2L1770.0 568.0L1772.0 568.7L1774.0 569.4L1776.0 570.1L1778.0 570.8L1780.0 571.5L1782.0 572.1L1784.0 572.8L1786.0 573.4L1788.0 574.0L1790.0 574.6L1792.0 575.2L1794.0 575.7L1796.0 576.3L1798.0 576.8L1800.0 577.3L1806.0 578.9L1812.0 580.4L1818.0 581.8L1824.0 583.2L1830.0 584.6L1836.0 586.1L1842.0 587.5L1848.0 588.8L1854.0 590.1L1860.0 591.2L1866.0 592.3L1872.0 593.4L1878.0 594.3L1884.0 595.3L1890.0 596.3M2211.0 618.2L2209.0 619.0L2208.0 619.4L2206.0 620.2L2203.0 621.3L2202.0 621.6L2200.0 622.3L2197.0 623.2L2196.0 623.5L2194.0 624.1L2191.0 625.0L2190.0 625.2L2188.0 625.8L2185.0 626.6L2184.0 626.8L2182.0 627.3L2179.0 628.1L2178.0 628.3L2176.0 628.8L2173.0 629.5L2172.0 629.7L2170.0 630.1L2166.0 631.0L2160.0 632.2L2154.0 633.3L2148.0 634.3L2142.0 635.2L2136.0 636.0L2130.0 636.8L2124.0 637.5L2118.0 638.2L2112.0 638.9L2106.0 639.6L2100.0 640.3L2094.0 641.0L2088.0 641.7L2082.0 642.3L2076.0 642.9L2070.0 643.6L2064.0 644.2L2058.0 644.8L2052.0 645.4L2046.0 646.0L2040.0 646.7L2034.0 647.3L2028.0 647.8L2022.0 648.4L2016.0 648.9L2010.0 649.4L2004.0 649.8L1998.0 650.3L1992.0 650.7L1986.0 651.2L1980.0 651.6L1974.0 652.0L1968.0 652.4L1962.0 652.8L1956.0 653.1L1950.0 653.5L1944.0 653.8L1938.0 654.0L1932.0 654.3L1926.0 654.5L1920.0 654.8L1914.0 655.1L1908.0 655.3L1902.0 655.6L1896.0 655.9L1890.0 656.3L1884.0 656.6L1878.0 657.0L1872.0 657.4L1866.0 657.8L1860.0 658.2L1854.0 658.6L1848.0 658.9L1842.0 659.3L1836.0 659.7L1830.0 660.0L1824.0 660.3L1818.0 660.7L1812.0 661.0L1806.0 661.2L1800.0 661.5L1794.0 661.8L1788.0 662.1L1782.0 662.4L1776.0 662.7L1770.0 663.0L1764.0 663.4L1758.0 663.7L1752.0 664.0L1746.0 664.4L1740.0 664.7L1734.0 665.1L1728.0 665.5L1722.0 666.0L1716.0 666.5L1710.0 667.0L1704.0 667.7L1698.0 668.3L1692.0 669.0L1686.0 669.7L1680.0 670.1L1674.0 670.4L1668.0 670.5L1662.0 670.7L1656.0 671.1L1650.0 671.9L1644.0 673.0L1638.0 674.5L1632.0 676.4L1626.0 678.6L1620.0 681.2L1614.0 683.9L1608.0 686.7L1602.0 689.5L1596.0 692.4L1590.0 695.2L1584.0 698.0L1578.0 700.8L1572.0 703.6L1566.0 706.2L1560.0 708.7L1559.0 709.2L1556.0 710.5L1554.0 711.3L1553.0 711.7L1550.0 713.0L1548.0 714.0L1547.0 714.5L1544.0 716.3L1542.0 717.9L1541.0 718.9L1538.0 722.2L1536.0 724.5L1535.0 725.6L1532.0 728.7L1530.0 730.5L1529.0 731.3L1526.0 733.8L1524.0 735.4L1523.0 736.2L1520.0 738.9L1518.0 740.8L1517.0 741.8L1514.0 745.1L1512.0 747.4L1511.0 748.6L1508.0 752.3L1506.0 754.7L1505.0 755.9L1502.0 759.5L1500.0 761.9L1499.0 763.2L1496.0 766.8L1494.0 769.3L1493.0 770.5L1490.0 774.0L1488.0 776.2L1487.0 777.3L1484.0 780.7L1482.0 782.8L1481.0 783.9L1478.0 787.1L1476.0 789.1L1475.0 790.1L1472.0 793.1L1470.0 795.1L1469.0 796.1L1466.0 799.0L1464.0 800.7L1463.0 801.6L1460.0 804.0L1458.0 805.4L1457.0 806.1L1454.0 808.2L1452.0 809.5L1451.0 810.1L1448.0 812.0L1446.0 813.2L1445.0 813.8L1442.0 815.7L1440.0 816.8L1439.0 817.2L1436.0 818.1L1434.0 818.5L1433.0 818.7L1430.0 819.2L1428.0 819.5L1427.0 819.6L1424.0 819.8L1422.0 819.6L1421.0 819.5L1418.0 819.2L1416.0 818.8L1415.0 818.7L1412.0 818.1L1410.0 817.7L1409.0 817.4L1406.0 816.7L1404.0 816.1L1403.0 815.8L1400.0 814.7L1398.0 813.9L1397.0 813.5L1394.0 812.2L1392.0 811.3L1391.0 810.9L1388.0 809.6L1386.0 808.8L1385.0 808.4L1382.0 807.2L1380.0 806.3L1379.0 805.9L1376.0 804.6L1374.0 803.8L1373.0 803.4L1370.0 802.1L1368.0 801.3L1367.0 800.9L1364.0 799.7L1362.0 798.9L1361.0 798.5L1358.0 797.3L1356.0 796.5L1355.0 796.0L1352.0 794.8L1350.0 794.0L1349.0 793.6L1346.0 792.4L1344.0 791.7L1343.0 791.3L1340.0 790.1L1338.0 789.4L1332.0 787.3L1326.0 785.3L1320.0 783.5L1314.0 781.7L1308.0 780.0L1302.0 778.4L1296.0 776.9L1290.0 775.5L1284.0 774.1L1278.0 772.8L1272.0 771.6L1266.0 770.4L1260.0 769.3L1254.0 768.2L1248.0 767.1L1242.0 766.1L1236.0 765.1L1230.0 764.1L1224.0 763.2L1218.0 762.3L1212.0 761.5L1206.0 760.7L1200.0 759.9L1194.0 759.2L1188.0 758.5L1182.0 757.8L1176.0 757.2L1170.0 756.5L1164.0 755.9L1158.0 755.4L1152.0 754.8L1146.0 754.3L1140.0 753.7L1134.0 753.2L1128.0 752.7L1122.0 752.3L1116.0 751.8L1110.0 751.3L1104.0 750.9L1098.0 750.4L1092.0 750.0L1086.0 749.5L1080.0 749.1L1074.0 748.7L1068.0 748.3L1062.0 747.9L1056.0 747.4L1050.0 747.0L1044.0 746.6L1038.0 746.2L1032.0 745.8L1026.0 745.4L1028.0 744.0L1030.0 743.1L1032.0 742.3L1034.0 741.5L1036.0 740.7L1038.0 740.0L1040.0 739.4L1042.0 738.7L1044.0 738.1L1046.0 737.6L1048.0 737.0L1050.0 736.4L1052.0 735.9L1054.0 735.4L1056.0 734.9L1058.0 734.4L1060.0 733.9L1062.0 733.4L1064.0 732.9L1066.0 732.4L1068.0 731.9L1074.0 730.5L1080.0 729.2L1086.0 727.8L1092.0 726.5L1098.0 725.1L1104.0 723.8L1110.0 722.5L1116.0 721.3L1122.0 720.1L1128.0 718.8L1134.0 717.6L1140.0 716.4L1146.0 715.2L1152.0 713.9L1158.0 712.7L1164.0 711.5L1170.0 710.3L1176.0 709.1L1182.0 707.8L1188.0 706.6L1194.0 705.4L1198.0 704.6" stroke="#f6eb14" stroke-width="8.0"/>
<path d="M1700.0 665.1L1707.0 664.2L1714.0 663.4L1721.0 662.7L1728.0 662.0L1735.0 661.5L1742.0 661.0L1749.0 660.5L1756.0 660.0L1763.0 659.6L1770.0 659.1L1777.0 658.7L1784.0 658.3L1791.0 657.9L1798.0 657.6L1805.0 657.2L1812.0 656.8L1819.0 656.5L1826.0 656.1L1833.0 655.6L1840.0 655.2L1847.0 654.7L1854.0 654.2L1861.0 653.7L1868.0 653.2L1875.0 652.7L1882.0 652.2L1889.0 651.7L1896.0 651.2L1903.0 650.8L1910.0 650.5L1917.0 650.1L1924.0 649.8L1931.0 649.5L1938.0 649.1L1945.0 648.8L1952.0 648.4L1959.0 648.0L1966.0 647.5L1973.0 647.0L1980.0 646.4L1987.0 645.8L1994.0 645.3L2001.0 644.7L2008.0 644.1L2015.0 643.4L2022.0 642.8L2029.0 642.1L2036.0 641.3L2043.0 640.4L2050.0 639.6L2057.0 638.7L2064.0 637.9L2071.0 637.1L2078.0 636.3L2085.0 635.4L2092.0 634.5L2099.0 633.6L2106.0 632.7L2113.0 631.7L2120.0 630.8L2127.0 629.9L2134.0 629.0L2141.0 627.9L2148.0 626.7L2155.0 625.3L2162.0 623.8L2169.0 622.1L2176.0 620.3L2183.0 618.3L2190.0 616.2L2197.0 613.8L2204.0 611.0L2211.0 607.7L2211.0 614.6L2204.0 617.3L2197.0 619.6L2190.0 621.6L2183.0 623.5L2176.0 625.2L2169.0 626.7L2162.0 628.2L2155.0 629.5L2148.0 630.7L2141.0 631.8L2134.0 632.7L2127.0 633.5L2120.0 634.3L2113.0 635.1L2106.0 636.0L2099.0 636.8L2092.0 637.6L2085.0 638.4L2078.0 639.1L2071.0 639.8L2064.0 640.5L2057.0 641.3L2050.0 642.0L2043.0 642.7L2036.0 643.5L2029.0 644.1L2022.0 644.8L2015.0 645.4L2008.0 645.9L2001.0 646.5L1994.0 647.0L1987.0 647.5L1980.0 648.0L1973.0 648.5L1966.0 648.9L1959.0 649.3L1952.0 649.7L1945.0 650.1L1938.0 650.4L1931.0 650.7L1924.0 651.0L1917.0 651.3L1910.0 651.6L1903.0 652.0L1896.0 652.3L1889.0 652.7L1882.0 653.1L1875.0 653.6L1868.0 654.1L1861.0 654.5L1854.0 655.0L1847.0 655.4L1840.0 655.8L1833.0 656.2L1826.0 656.6L1819.0 657.0L1812.0 657.3L1805.0 657.7L1798.0 658.0L1791.0 658.3L1784.0 658.7L1777.0 659.1L1770.0 659.4L1763.0 659.8L1756.0 660.2L1749.0 660.6L1742.0 661.0L1735.0 661.5L1728.0 662.0L1721.0 662.7L1714.0 663.4L1707.0 664.2L1700.0 665.1Z" fill="#15175f" stroke="none"/>
<path d="M1026.0 753.2L1032.0 750.0L1038.0 747.3L1044.0 745.1L1050.0 743.1L1056.0 741.4L1062.0 739.7L1068.0 738.2L1074.0 736.6L1080.0 735.1L1086.0 733.7L1092.0 732.2L1098.0 730.8L1104.0 729.3L1110.0 728.0L1116.0 726.7L1122.0 725.4L1128.0 724.1L1134.0 722.9L1140.0 721.6L1146.0 720.3L1152.0 719.0L1158.0 717.7L1164.0 716.4L1170.0 715.1L1176.0 713.9L1182.0 712.6L1188.0 711.3L1198.0 709.2L1198.0 711.0L1188.0 713.1L1182.0 714.4L1176.0 715.7L1170.0 717.0L1164.0 718.3L1158.0 719.7L1152.0 721.0L1146.0 722.3L1140.0 723.6L1134.0 724.9L1128.0 726.3L1122.0 727.5L1116.0 728.8L1110.0 730.2L1104.0 731.6L1098.0 733.1L1092.0 734.6L1086.0 736.1L1080.0 737.7L1074.0 739.3L1068.0 740.9L1062.0 742.6L1056.0 744.4L1050.0 746.3L1044.0 748.4L1038.0 750.9L1032.0 754.1L1026.0 757.9Z" fill="#15175f" stroke="none"/>
<path d="M1116.0 719.9L1122.0 719.4L1128.0 718.5L1134.0 717.5L1140.0 716.5L1146.0 715.6L1152.0 714.6L1158.0 713.7L1164.0 712.7L1170.0 711.8L1176.0 710.9L1182.0 710.1L1188.0 709.5L1194.0 709.0L1200.0 708.6L1206.0 707.9L1212.0 707.4L1218.0 706.9L1224.0 706.4L1230.0 705.9L1236.0 705.4L1242.0 704.9L1248.0 704.3L1254.0 703.6L1260.0 702.8L1266.0 702.0L1272.0 701.2L1278.0 700.3L1284.0 699.4L1290.0 698.5L1296.0 697.7L1302.0 696.8L1308.0 695.9L1314.0 695.0L1320.0 694.1L1326.0 693.3L1332.0 692.4L1338.0 691.5L1344.0 690.7L1350.0 689.9L1356.0 689.0L1362.0 688.2L1368.0 687.4L1374.0 686.6L1380.0 685.8L1386.0 685.0L1392.0 684.2L1398.0 683.5L1404.0 682.7L1410.0 681.9L1416.0 681.2L1422.0 680.5L1428.0 679.8L1434.0 679.2L1440.0 678.5L1446.0 677.9L1452.0 677.3L1458.0 676.8L1464.0 676.3L1470.0 675.8L1476.0 675.3L1482.0 674.8L1488.0 674.4L1494.0 674.1L1500.0 673.8L1506.0 673.8L1512.0 673.7L1518.0 673.8L1524.0 673.7L1530.0 673.5L1536.0 673.2L1540.0 673.1L1542.0 673.0L1544.0 672.9L1546.0 672.8L1548.0 672.6L1550.0 672.4L1552.0 672.1L1554.0 671.9L1556.0 671.6L1558.0 671.3L1560.0 671.0L1562.0 670.6L1564.0 670.1L1566.0 669.7L1568.0 669.1L1570.0 668.5L1572.0 667.8L1574.0 667.1L1576.0 666.3L1578.0 665.4L1580.0 664.5L1582.0 663.4L1584.0 662.3L1586.0 661.0L1588.0 659.6L1590.0 658.1L1592.0 656.6L1594.0 655.0L1596.0 653.3L1598.0 651.4L1600.0 649.3L1602.0 647.1L1604.0 644.8L1606.0 642.1L1608.0 639.3L1610.0 636.4L1612.0 633.9L1614.0 631.3L1616.0 628.3L1618.0 624.1L1620.0 619.1L1622.0 613.8L1624.0 608.9L1626.0 604.1L1628.0 599.2L1630.0 594.0L1632.0 588.6L1634.0 583.0L1636.0 577.3L1638.0 571.3L1640.0 565.6L1642.0 560.1L1644.0 554.7L1646.0 549.2L1648.0 543.6L1650.0 537.2L1652.0 529.9L1654.0 522.2L1656.0 514.6L1658.0 506.7L1660.0 498.7L1662.0 491.5L1664.0 485.9L1666.0 481.4L1668.0 477.0L1670.0 472.4L1672.0 467.9L1674.0 463.4L1681.0 455.0L1688.0 460.5L1690.0 463.4L1692.0 466.6L1694.0 469.6L1696.0 472.6L1698.0 475.6L1700.0 478.6L1702.0 481.8L1704.0 484.9L1706.0 488.1L1708.0 491.1L1710.0 494.1L1712.0 497.2L1714.0 500.3L1716.0 503.6L1718.0 506.6L1720.0 509.4L1722.0 511.9L1724.0 514.3L1726.0 516.6L1728.0 518.8L1730.0 520.9L1732.0 522.9L1734.0 524.8L1736.0 526.7L1738.0 528.5L1740.0 530.2L1742.0 532.0L1744.0 533.7L1746.0 535.3L1748.0 536.9L1750.0 538.5L1752.0 540.0L1754.0 541.4L1756.0 542.8L1758.0 544.1L1760.0 545.3L1762.0 546.5L1764.0 547.6L1766.0 548.7L1768.0 549.7L1770.0 550.6L1772.0 551.6L1774.0 552.5L1776.0 553.4L1778.0 554.2L1780.0 555.0L1782.0 555.8L1784.0 556.6L1786.0 557.4L1788.0 558.1L1790.0 558.9L1792.0 559.6L1794.0 560.3L1796.0 561.0L1798.0 561.7L1800.0 562.3L1806.0 564.2L1812.0 566.0L1818.0 567.7L1824.0 569.4L1830.0 571.0L1836.0 572.7L1842.0 574.3L1848.0 575.9L1854.0 577.5L1860.0 579.0L1866.0 580.3L1872.0 581.6L1878.0 582.7L1884.0 583.8L1890.0 584.9L1896.0 585.9L1902.0 587.0L1908.0 588.1L1914.0 589.2L1920.0 590.3L1926.0 591.3L1932.0 592.1M2211.0 607.7L2209.0 608.7L2208.0 609.2L2206.0 610.2L2203.0 611.5L2202.0 611.9L2200.0 612.7L2197.0 613.8L2196.0 614.2L2194.0 614.9L2191.0 615.9L2190.0 616.2L2188.0 616.8L2185.0 617.7L2184.0 618.0L2182.0 618.6L2179.0 619.5L2178.0 619.7L2176.0 620.3L2173.0 621.1L2172.0 621.3L2170.0 621.8L2166.0 622.8L2160.0 624.2L2154.0 625.6L2148.0 626.7L2142.0 627.8L2136.0 628.7L2130.0 629.5L2124.0 630.3L2118.0 631.1L2112.0 631.9L2106.0 632.7L2100.0 633.5L2094.0 634.3L2088.0 635.1L2082.0 635.8L2076.0 636.5L2070.0 637.2L2064.0 637.9L2058.0 638.6L2052.0 639.3L2046.0 640.1L2040.0 640.8L2034.0 641.5L2028.0 642.2L2022.0 642.8L2016.0 643.4L2010.0 643.9L2004.0 644.4L1998.0 644.9L1992.0 645.4L1986.0 645.9L1980.0 646.4L1974.0 646.9L1968.0 647.3L1962.0 647.8L1956.0 648.2L1950.0 648.5L1944.0 648.8L1938.0 649.1L1932.0 649.4L1926.0 649.7L1920.0 650.0L1914.0 650.3L1908.0 650.6L1902.0 650.9L1896.0 651.2L1890.0 651.6L1884.0 652.0L1878.0 652.5L1872.0 652.9L1866.0 653.4L1860.0 653.8L1854.0 654.2L1848.0 654.6L1842.0 655.0L1836.0 655.4L1830.0 655.8L1824.0 656.2L1818.0 656.5L1812.0 656.8L1806.0 657.2L1800.0 657.5L1794.0 657.8L1788.0 658.1L1782.0 658.4L1776.0 658.8L1770.0 659.1L1764.0 659.5L1758.0 659.9L1752.0 660.3L1746.0 660.7L1740.0 661.1L1734.0 661.5L1728.0 662.0L1722.0 662.6L1716.0 663.2L1710.0 663.9L1704.0 664.6L1698.0 665.4L1692.0 666.3L1686.0 667.2L1680.0 667.8L1674.0 668.3L1668.0 668.4L1662.0 668.5L1656.0 668.8L1650.0 669.4L1644.0 670.4L1638.0 671.7L1632.0 673.5L1626.0 675.7L1620.0 678.2L1614.0 681.1L1608.0 684.2L1602.0 687.4L1596.0 690.5L1590.0 693.7L1584.0 696.8L1578.0 699.9L1572.0 703.1L1566.0 706.2L1560.0 709.0L1559.0 709.5L1556.0 710.9L1554.0 711.8L1553.0 712.3L1550.0 713.8L1548.0 714.7L1547.0 715.1L1544.0 716.6L1542.0 717.7L1541.0 718.3L1538.0 720.5L1536.0 722.4L1535.0 723.6L1532.0 727.3L1530.0 729.9L1529.0 731.1L1526.0 734.4L1524.0 736.3L1523.0 737.3L1520.0 740.0L1518.0 741.8L1517.0 742.7L1514.0 745.7L1512.0 747.9L1511.0 749.1L1508.0 752.8L1506.0 755.4L1505.0 756.8L1502.0 760.8L1500.0 763.5L1499.0 764.8L1496.0 768.8L1494.0 771.6L1493.0 772.9L1490.0 777.0L1488.0 779.7L1487.0 781.0L1484.0 784.9L1482.0 787.4L1481.0 788.6L1478.0 792.3L1476.0 794.7L1475.0 795.9L1472.0 799.4L1470.0 801.6L1469.0 802.8L1466.0 806.1L1464.0 808.3L1463.0 809.4L1460.0 812.5L1458.0 814.5L1457.0 815.4L1454.0 818.0L1452.0 819.6L1451.0 820.4L1448.0 822.6L1446.0 824.0L1445.0 824.7L1442.0 826.8L1440.0 828.2L1439.0 828.9L1436.0 831.0L1434.0 832.1L1433.0 832.5L1430.0 833.3L1428.0 833.8L1427.0 834.0L1424.0 834.6L1422.0 834.9L1421.0 835.0L1418.0 835.1L1416.0 834.9L1415.0 834.7L1412.0 834.3L1410.0 833.9L1409.0 833.7L1406.0 833.1L1404.0 832.6L1403.0 832.3L1400.0 831.5L1398.0 830.8L1397.0 830.4L1394.0 829.2L1392.0 828.3L1391.0 827.8L1388.0 826.3L1386.0 825.4L1385.0 824.9L1382.0 823.5L1380.0 822.6L1379.0 822.2L1376.0 820.8L1374.0 819.9L1373.0 819.4L1370.0 818.0L1368.0 817.0L1367.0 816.6L1364.0 815.2L1362.0 814.3L1361.0 813.9L1358.0 812.5L1356.0 811.6L1355.0 811.2L1352.0 809.8L1350.0 808.9L1349.0 808.5L1346.0 807.1L1344.0 806.3L1343.0 805.8L1340.0 804.5L1338.0 803.7L1332.0 801.2L1326.0 798.9L1320.0 796.8L1314.0 794.8L1308.0 792.8L1302.0 791.0L1296.0 789.3L1290.0 787.6L1284.0 786.1L1278.0 784.6L1272.0 783.2L1266.0 781.8L1260.0 780.6L1254.0 779.3L1248.0 778.2L1242.0 777.0L1236.0 775.9L1230.0 774.8L1224.0 773.8L1218.0 772.8L1212.0 771.8L1206.0 770.9L1200.0 770.1L1194.0 769.2L1188.0 768.4L1182.0 767.7L1176.0 767.0L1170.0 766.3L1164.0 765.6L1158.0 764.9L1152.0 764.3L1146.0 763.7L1140.0 763.1L1134.0 762.6L1128.0 762.0L1122.0 761.5L1116.0 760.9L1110.0 760.4L1104.0 759.9L1098.0 759.4L1092.0 758.9L1086.0 758.5L1080.0 758.0L1074.0 757.5L1068.0 757.1L1062.0 756.6L1056.0 756.1L1050.0 755.7L1044.0 755.2L1038.0 754.7L1032.0 754.3L1026.0 753.8L1028.0 752.1L1030.0 751.0L1032.0 750.0L1034.0 749.0L1036.0 748.1L1038.0 747.3L1040.0 746.5L1042.0 745.8L1044.0 745.1L1046.0 744.4L1048.0 743.8L1050.0 743.1L1052.0 742.5L1054.0 741.9L1056.0 741.4L1058.0 740.8L1060.0 740.3L1062.0 739.7L1064.0 739.2L1066.0 738.7L1068.0 738.2L1074.0 736.6L1080.0 735.1L1086.0 733.7L1092.0 732.2L1098.0 730.8L1104.0 729.3L1110.0 728.0L1116.0 726.7L1122.0 725.4L1128.0 724.1L1134.0 722.9L1140.0 721.6L1146.0 720.3L1152.0 719.0L1158.0 717.7L1164.0 716.4L1170.0 715.1L1176.0 713.9L1182.0 712.6L1188.0 711.3L1194.0 710.1L1198.0 709.2" stroke="#15175f" stroke-width="8.0"/>
<path d="M1700.0 661.5L1707.0 660.4L1714.0 659.4L1721.0 658.5L1728.0 657.7L1735.0 657.0L1742.0 656.5L1749.0 655.9L1756.0 655.4L1763.0 654.9L1770.0 654.4L1777.0 653.9L1784.0 653.4L1791.0 653.0L1798.0 652.6L1805.0 652.2L1812.0 651.8L1819.0 651.4L1826.0 650.9L1833.0 650.4L1840.0 649.9L1847.0 649.4L1854.0 648.9L1861.0 648.3L1868.0 647.8L1875.0 647.2L1882.0 646.5L1889.0 646.0L1896.0 645.4L1903.0 645.0L1910.0 644.6L1917.0 644.2L1924.0 643.9L1931.0 643.6L1938.0 643.2L1945.0 642.8L1952.0 642.4L1959.0 641.9L1966.0 641.4L1973.0 640.8L1980.0 640.2L1987.0 639.6L1994.0 638.9L2001.0 638.3L2008.0 637.6L2015.0 636.9L2022.0 636.2L2029.0 635.4L2036.0 634.5L2043.0 633.5L2050.0 632.6L2057.0 631.6L2064.0 630.7L2071.0 629.8L2078.0 628.9L2085.0 627.8L2092.0 626.7L2099.0 625.5L2106.0 624.3L2113.0 623.2L2120.0 622.0L2127.0 620.9L2134.0 619.7L2141.0 618.4L2148.0 617.0L2155.0 615.2L2162.0 613.3L2169.0 611.2L2176.0 609.0L2183.0 606.5L2190.0 604.3L2197.0 603.1L2204.0 601.5L2211.0 599.4L2211.0 604.1L2204.0 607.4L2197.0 610.2L2190.0 612.6L2183.0 614.7L2176.0 616.7L2169.0 618.5L2162.0 620.2L2155.0 621.7L2148.0 623.1L2141.0 624.3L2134.0 625.3L2127.0 626.3L2120.0 627.2L2113.0 628.1L2106.0 629.1L2099.0 630.0L2092.0 630.9L2085.0 631.8L2078.0 632.7L2071.0 633.5L2064.0 634.3L2057.0 635.1L2050.0 636.0L2043.0 636.8L2036.0 637.7L2029.0 638.4L2022.0 639.2L2015.0 639.8L2008.0 640.5L2001.0 641.1L1994.0 641.7L1987.0 642.2L1980.0 642.8L1973.0 643.3L1966.0 643.9L1959.0 644.3L1952.0 644.8L1945.0 645.2L1938.0 645.5L1931.0 645.9L1924.0 646.2L1917.0 646.5L1910.0 646.9L1903.0 647.2L1896.0 647.6L1889.0 648.1L1882.0 648.6L1875.0 649.1L1868.0 649.6L1861.0 650.1L1854.0 650.6L1847.0 651.1L1840.0 651.6L1833.0 652.0L1826.0 652.4L1819.0 652.8L1812.0 653.2L1805.0 653.6L1798.0 653.9L1791.0 654.3L1784.0 654.7L1777.0 655.1L1770.0 655.5L1763.0 656.0L1756.0 656.4L1749.0 656.9L1742.0 657.3L1735.0 657.8L1728.0 658.4L1721.0 659.0L1714.0 659.8L1707.0 660.6L1700.0 661.5Z" fill="#762a82" stroke="none"/>
<path d="M1026.0 761.5L1032.0 757.7L1038.0 754.6L1044.0 752.1L1050.0 749.9L1056.0 748.0L1062.0 746.2L1068.0 744.5L1074.0 742.9L1080.0 741.3L1086.0 739.8L1092.0 738.2L1098.0 736.7L1104.0 735.2L1110.0 733.8L1116.0 732.5L1122.0 731.2L1128.0 729.9L1134.0 728.6L1140.0 727.2L1146.0 725.9L1152.0 724.6L1158.0 723.3L1164.0 722.0L1170.0 720.7L1176.0 719.4L1182.0 718.1L1188.0 716.8L1198.0 714.6L1198.0 720.2L1188.0 722.4L1182.0 723.6L1176.0 724.9L1170.0 726.2L1164.0 727.5L1158.0 728.8L1152.0 730.1L1146.0 731.5L1140.0 732.8L1134.0 734.1L1128.0 735.4L1122.0 736.7L1116.0 738.0L1110.0 739.3L1104.0 740.8L1098.0 742.3L1092.0 743.9L1086.0 745.4L1080.0 747.0L1074.0 748.7L1068.0 750.4L1062.0 752.1L1056.0 754.0L1050.0 756.0L1044.0 758.3L1038.0 761.1L1032.0 764.6L1026.0 768.9Z" fill="#762a82" stroke="none"/>
<path d="M1116.0 719.8L1122.0 719.2L1128.0 718.2L1134.0 717.1L1140.0 716.0L1146.0 715.0L1152.0 714.0L1158.0 713.0L1164.0 711.9L1170.0 710.9L1176.0 710.0L1182.0 709.1L1188.0 708.4L1194.0 707.9L1200.0 707.4L1206.0 706.8L1212.0 706.2L1218.0 705.6L1224.0 705.2L1230.0 704.7L1236.0 704.2L1242.0 703.6L1248.0 703.0L1254.0 702.3L1260.0 701.5L1266.0 700.6L1272.0 699.7L1278.0 698.8L1284.0 697.9L1290.0 697.0L1296.0 696.2L1302.0 695.2L1308.0 694.3L1314.0 693.4L1320.0 692.5L1326.0 691.6L1332.0 690.7L1338.0 689.8L1344.0 688.9L1350.0 688.1L1356.0 687.2L1362.0 686.4L1368.0 685.6L1374.0 684.7L1380.0 683.9L1386.0 683.1L1392.0 682.3L1398.0 681.5L1404.0 680.7L1410.0 679.9L1416.0 679.1L1422.0 678.4L1428.0 677.7L1434.0 677.1L1440.0 676.4L1446.0 675.8L1452.0 675.1L1458.0 674.6L1464.0 674.0L1470.0 673.6L1476.0 673.0L1482.0 672.5L1488.0 672.1L1494.0 671.8L1500.0 671.5L1506.0 671.4L1512.0 671.4L1518.0 671.4L1524.0 671.3L1530.0 671.0L1536.0 670.8L1540.0 670.6L1542.0 670.5L1544.0 670.4L1546.0 670.2L1548.0 670.0L1550.0 669.7L1552.0 669.4L1554.0 669.1L1556.0 668.8L1558.0 668.5L1560.0 668.1L1562.0 667.6L1564.0 667.2L1566.0 666.6L1568.0 666.0L1570.0 665.3L1572.0 664.6L1574.0 663.8L1576.0 662.9L1578.0 661.9L1580.0 660.9L1582.0 659.8L1584.0 658.5L1586.0 657.1L1588.0 655.7L1590.0 654.1L1592.0 652.5L1594.0 650.8L1596.0 648.9L1598.0 646.9L1600.0 644.8L1602.0 642.5L1604.0 640.0L1606.0 637.3L1608.0 634.3L1610.0 631.3L1612.0 628.5L1614.0 625.8L1616.0 622.8L1618.0 619.0L1620.0 614.0L1622.0 608.4L1624.0 603.0L1626.0 597.9L1628.0 592.8L1630.0 587.5L1632.0 582.0L1634.0 576.2L1636.0 570.2L1638.0 564.1L1640.0 557.8L1642.0 551.8L1644.0 546.0L1646.0 540.3L1648.0 534.4L1650.0 528.6L1652.0 521.9L1654.0 514.2L1656.0 506.1L1658.0 498.0L1660.0 489.8L1662.0 481.2L1664.0 473.3L1666.0 466.7L1668.0 461.7L1670.0 457.1L1672.0 452.2L1674.0 447.4L1676.0 442.7L1678.0 438.8L1684.4 430.8L1690.0 435.3L1692.0 437.1L1694.0 440.2L1696.0 443.6L1698.0 446.7L1700.0 449.8L1702.0 453.0L1704.0 456.1L1706.0 459.4L1708.0 462.7L1710.0 466.0L1712.0 469.3L1714.0 472.4L1716.0 475.6L1718.0 478.9L1720.0 482.2L1722.0 485.6L1724.0 488.7L1726.0 491.6L1728.0 494.2L1730.0 496.7L1732.0 499.0L1734.0 501.3L1736.0 503.6L1738.0 505.7L1740.0 507.7L1742.0 509.7L1744.0 511.6L1746.0 513.5L1748.0 515.3L1750.0 517.2L1752.0 518.9L1754.0 520.7L1756.0 522.3L1758.0 524.0L1760.0 525.5L1762.0 527.0L1764.0 528.4L1766.0 529.8L1768.0 531.1L1770.0 532.3L1772.0 533.5L1774.0 534.6L1776.0 535.7L1778.0 536.7L1780.0 537.7L1782.0 538.7L1784.0 539.6L1786.0 540.5L1788.0 541.4L1790.0 542.3L1792.0 543.1L1794.0 544.0L1796.0 544.8L1798.0 545.6L1800.0 546.4L1806.0 548.7L1812.0 550.8L1818.0 552.9L1824.0 554.8L1830.0 556.7L1836.0 558.5L1842.0 560.4L1848.0 562.3L1854.0 564.2L1860.0 565.9L1866.0 567.6L1872.0 569.1L1878.0 570.5L1884.0 571.8L1890.0 573.0L1896.0 574.2L1902.0 575.4L1908.0 576.5L1914.0 577.8L1920.0 579.0L1926.0 580.1L1932.0 581.2L1938.0 582.1L1944.0 582.9L1950.0 583.6L1956.0 584.3L1962.0 584.9L1968.0 585.6L1974.0 586.3M2211.0 599.4L2209.0 600.1L2208.0 600.4L2206.0 601.0L2203.0 601.8L2202.0 602.0L2200.0 602.5L2197.0 603.1L2196.0 603.3L2194.0 603.6L2191.0 604.1L2190.0 604.3L2188.0 604.7L2185.0 605.8L2184.0 606.2L2182.0 606.9L2179.0 608.0L2178.0 608.3L2176.0 609.0L2173.0 609.9L2172.0 610.3L2170.0 610.9L2166.0 612.1L2160.0 613.9L2154.0 615.5L2148.0 617.0L2142.0 618.3L2136.0 619.4L2130.0 620.4L2124.0 621.4L2118.0 622.3L2112.0 623.3L2106.0 624.3L2100.0 625.4L2094.0 626.4L2088.0 627.4L2082.0 628.3L2076.0 629.1L2070.0 629.9L2064.0 630.7L2058.0 631.5L2052.0 632.3L2046.0 633.1L2040.0 633.9L2034.0 634.7L2028.0 635.5L2022.0 636.2L2016.0 636.8L2010.0 637.4L2004.0 638.0L1998.0 638.6L1992.0 639.1L1986.0 639.7L1980.0 640.2L1974.0 640.7L1968.0 641.2L1962.0 641.7L1956.0 642.1L1950.0 642.5L1944.0 642.9L1938.0 643.2L1932.0 643.5L1926.0 643.8L1920.0 644.1L1914.0 644.4L1908.0 644.7L1902.0 645.1L1896.0 645.4L1890.0 645.9L1884.0 646.4L1878.0 646.9L1872.0 647.4L1866.0 647.9L1860.0 648.4L1854.0 648.9L1848.0 649.3L1842.0 649.8L1836.0 650.2L1830.0 650.6L1824.0 651.0L1818.0 651.4L1812.0 651.8L1806.0 652.1L1800.0 652.4L1794.0 652.8L1788.0 653.2L1782.0 653.5L1776.0 653.9L1770.0 654.4L1764.0 654.8L1758.0 655.2L1752.0 655.7L1746.0 656.1L1740.0 656.6L1734.0 657.1L1728.0 657.7L1722.0 658.4L1716.0 659.1L1710.0 660.0L1704.0 660.9L1698.0 661.9L1692.0 662.9L1686.0 664.1L1680.0 665.1L1674.0 666.0L1668.0 667.0L1662.0 668.1L1656.0 669.5L1650.0 671.1L1644.0 673.1L1638.0 675.4L1632.0 678.0L1626.0 680.8L1620.0 683.9L1614.0 687.0L1608.0 690.1L1602.0 693.3L1596.0 696.4L1590.0 699.6L1584.0 702.7L1578.0 705.9L1572.0 708.9L1566.0 711.7L1560.0 714.6L1559.0 715.1L1556.0 716.5L1554.0 717.4L1553.0 717.9L1550.0 719.4L1548.0 720.5L1547.0 721.1L1544.0 723.1L1542.0 724.8L1541.0 725.9L1538.0 729.5L1536.0 732.1L1535.0 733.4L1532.0 737.0L1530.0 739.1L1529.0 740.1L1526.0 742.9L1524.0 744.7L1523.0 745.6L1520.0 748.4L1518.0 750.3L1517.0 751.4L1514.0 754.8L1512.0 757.2L1511.0 758.5L1508.0 762.4L1506.0 765.1L1505.0 766.5L1502.0 770.5L1500.0 773.2L1499.0 774.5L1496.0 778.6L1494.0 781.3L1493.0 782.7L1490.0 786.8L1488.0 789.5L1487.0 790.8L1484.0 794.6L1482.0 797.1L1481.0 798.4L1478.0 802.1L1476.0 804.5L1475.0 805.7L1472.0 809.2L1470.0 811.5L1469.0 812.6L1466.0 816.0L1464.0 818.2L1463.0 819.3L1460.0 822.6L1458.0 824.6L1457.0 825.6L1454.0 828.4L1452.0 830.1L1451.0 830.9L1448.0 833.3L1446.0 834.8L1445.0 835.5L1442.0 837.6L1440.0 839.0L1439.0 839.7L1436.0 841.8L1434.0 843.3L1433.0 843.9L1430.0 845.7L1428.0 846.4L1427.0 846.7L1424.0 847.5L1422.0 847.9L1421.0 848.1L1418.0 848.6L1416.0 848.8L1415.0 848.9L1412.0 848.9L1410.0 848.7L1409.0 848.6L1406.0 848.0L1404.0 847.6L1403.0 847.4L1400.0 846.7L1398.0 846.2L1397.0 845.9L1394.0 844.9L1392.0 844.1L1391.0 843.7L1388.0 842.3L1386.0 841.3L1385.0 840.8L1382.0 839.2L1380.0 838.2L1379.0 837.7L1376.0 836.2L1374.0 835.2L1373.0 834.7L1370.0 833.2L1368.0 832.2L1367.0 831.7L1364.0 830.2L1362.0 829.2L1361.0 828.7L1358.0 827.2L1356.0 826.2L1355.0 825.7L1352.0 824.3L1350.0 823.3L1349.0 822.8L1346.0 821.4L1344.0 820.4L1343.0 819.9L1340.0 818.5L1338.0 817.5L1332.0 814.7L1326.0 812.1L1320.0 809.7L1314.0 807.4L1308.0 805.3L1302.0 803.2L1296.0 801.3L1290.0 799.5L1284.0 797.7L1278.0 796.1L1272.0 794.5L1266.0 793.0L1260.0 791.6L1254.0 790.2L1248.0 788.9L1242.0 787.7L1236.0 786.4L1230.0 785.2L1224.0 784.1L1218.0 783.0L1212.0 781.9L1206.0 780.9L1200.0 780.0L1194.0 779.1L1188.0 778.2L1182.0 777.4L1176.0 776.6L1170.0 775.8L1164.0 775.1L1158.0 774.4L1152.0 773.7L1146.0 773.0L1140.0 772.4L1134.0 771.8L1128.0 771.2L1122.0 770.6L1116.0 770.0L1110.0 769.4L1104.0 768.9L1098.0 768.3L1092.0 767.8L1086.0 767.3L1080.0 766.8L1074.0 766.3L1068.0 765.8L1062.0 765.3L1056.0 764.8L1050.0 764.3L1044.0 763.8L1038.0 763.3L1032.0 762.8L1026.0 762.3L1028.0 760.1L1030.0 758.9L1032.0 757.7L1034.0 756.6L1036.0 755.5L1038.0 754.6L1040.0 753.7L1042.0 752.8L1044.0 752.1L1046.0 751.3L1048.0 750.6L1050.0 749.9L1052.0 749.3L1054.0 748.6L1056.0 748.0L1058.0 747.4L1060.0 746.8L1062.0 746.2L1064.0 745.6L1066.0 745.1L1068.0 744.5L1074.0 742.9L1080.0 741.3L1086.0 739.8L1092.0 738.2L1098.0 736.7L1104.0 735.2L1110.0 733.8L1116.0 732.5L1122.0 731.2L1128.0 729.9L1134.0 728.6L1140.0 727.2L1146.0 725.9L1152.0 724.6L1158.0 723.3L1164.0 722.0L1170.0 720.7L1176.0 719.4L1182.0 718.1L1188.0 716.8L1194.0 715.5L1198.0 714.6" stroke="#762a82" stroke-width="8.0"/>
<path d="M1077.0 739.2L1198.0 721.2" stroke="#730d10" stroke-width="10.5"/>
<path d="M1700.0 657.1L1707.0 655.7L1714.0 654.5L1721.0 653.3L1728.0 652.4L1735.0 651.6L1742.0 650.9L1749.0 650.2L1756.0 649.5L1763.0 648.9L1770.0 648.3L1777.0 647.7L1784.0 647.2L1791.0 646.6L1798.0 646.2L1805.0 645.7L1812.0 645.3L1819.0 644.8L1826.0 644.3L1833.0 643.7L1840.0 643.1L1847.0 642.5L1854.0 641.9L1861.0 641.2L1868.0 640.5L1875.0 639.8L1882.0 639.0L1889.0 638.3L1896.0 637.7L1903.0 637.2L1910.0 636.8L1917.0 636.4L1924.0 636.0L1931.0 635.6L1938.0 635.3L1945.0 634.9L1952.0 634.4L1959.0 633.9L1966.0 633.3L1973.0 632.6L1980.0 631.9L1987.0 631.2L1994.0 630.5L2001.0 629.8L2008.0 629.0L2015.0 628.2L2022.0 627.3L2029.0 626.4L2036.0 625.4L2043.0 624.3L2050.0 623.2L2057.0 622.1L2064.0 621.0L2071.0 620.0L2078.0 619.0L2085.0 617.9L2092.0 616.7L2099.0 615.5L2106.0 614.3L2113.0 613.1L2120.0 611.9L2127.0 610.8L2134.0 609.7L2141.0 608.4L2148.0 606.9L2155.0 605.0L2162.0 603.0L2169.0 600.7L2176.0 598.4L2183.0 595.8L2190.0 593.2L2197.0 591.4L2204.0 589.0L2211.0 585.9L2211.0 595.8L2204.0 597.9L2197.0 599.5L2190.0 600.7L2183.0 602.9L2176.0 605.4L2169.0 607.6L2162.0 609.7L2155.0 611.6L2148.0 613.4L2141.0 614.8L2134.0 616.1L2127.0 617.3L2120.0 618.4L2113.0 619.5L2106.0 620.7L2099.0 621.9L2092.0 623.1L2085.0 624.2L2078.0 625.3L2071.0 626.2L2064.0 627.1L2057.0 628.0L2050.0 628.9L2043.0 629.9L2036.0 630.9L2029.0 631.7L2022.0 632.6L2015.0 633.3L2008.0 634.0L2001.0 634.7L1994.0 635.3L1987.0 636.0L1980.0 636.6L1973.0 637.2L1966.0 637.8L1959.0 638.3L1952.0 638.8L1945.0 639.2L1938.0 639.6L1931.0 639.9L1924.0 640.3L1917.0 640.6L1910.0 641.0L1903.0 641.4L1896.0 641.8L1889.0 642.3L1882.0 642.9L1875.0 643.5L1868.0 644.1L1861.0 644.7L1854.0 645.3L1847.0 645.8L1840.0 646.3L1833.0 646.8L1826.0 647.3L1819.0 647.7L1812.0 648.2L1805.0 648.5L1798.0 648.9L1791.0 649.4L1784.0 649.8L1777.0 650.3L1770.0 650.7L1763.0 651.2L1756.0 651.8L1749.0 652.3L1742.0 652.8L1735.0 653.4L1728.0 654.1L1721.0 654.9L1714.0 655.8L1707.0 656.8L1700.0 657.9Z" fill="#007c3e" stroke="none"/>
<path d="M1026.0 772.5L1032.0 768.2L1038.0 764.7L1044.0 761.9L1050.0 759.6L1056.0 757.6L1062.0 755.7L1068.0 754.0L1074.0 752.3L1080.0 750.6L1086.0 749.0L1092.0 747.5L1098.0 745.9L1104.0 744.4L1110.0 743.0L1116.0 741.6L1122.0 740.3L1128.0 739.0L1134.0 737.7L1140.0 736.4L1146.0 735.1L1152.0 733.8L1158.0 732.4L1164.0 731.1L1170.0 729.8L1176.0 728.5L1182.0 727.3L1188.0 726.0L1198.0 723.8L1198.0 724.1L1188.0 726.4L1182.0 727.8L1176.0 729.2L1170.0 730.6L1164.0 732.1L1158.0 733.5L1152.0 734.9L1146.0 736.4L1140.0 737.9L1134.0 739.3L1128.0 740.8L1122.0 742.2L1116.0 743.6L1110.0 745.0L1104.0 746.7L1098.0 748.4L1092.0 750.1L1086.0 751.9L1080.0 753.7L1074.0 755.6L1068.0 757.5L1062.0 759.5L1056.0 761.7L1050.0 764.1L1044.0 766.8L1038.0 770.1L1032.0 774.5L1026.0 779.7Z" fill="#007c3e" stroke="none"/>
<path d="M1116.0 719.7L1122.0 718.9L1128.0 717.8L1134.0 716.6L1140.0 715.3L1146.0 714.2L1152.0 713.1L1158.0 712.0L1164.0 710.9L1170.0 709.8L1176.0 708.7L1182.0 707.8L1188.0 707.0L1194.0 706.4L1200.0 705.9L1206.0 705.2L1212.0 704.5L1218.0 704.0L1224.0 703.5L1230.0 703.0L1236.0 702.5L1242.0 701.9L1248.0 701.2L1254.0 700.4L1260.0 699.6L1266.0 698.7L1272.0 697.8L1278.0 696.8L1284.0 695.9L1290.0 694.9L1296.0 694.0L1302.0 693.0L1308.0 692.1L1314.0 691.1L1320.0 690.1L1326.0 689.2L1332.0 688.2L1338.0 687.3L1344.0 686.4L1350.0 685.5L1356.0 684.6L1362.0 683.7L1368.0 682.8L1374.0 682.0L1380.0 681.1L1386.0 680.3L1392.0 679.4L1398.0 678.5L1404.0 677.7L1410.0 676.9L1416.0 676.1L1422.0 675.3L1428.0 674.6L1434.0 673.9L1440.0 673.2L1446.0 672.5L1452.0 671.9L1458.0 671.3L1464.0 670.7L1470.0 670.2L1476.0 669.7L1482.0 669.1L1488.0 668.7L1494.0 668.3L1500.0 668.1L1506.0 668.0L1512.0 668.0L1518.0 668.0L1524.0 667.9L1530.0 667.6L1536.0 667.3L1540.0 667.1L1542.0 667.0L1544.0 666.9L1546.0 666.8L1548.0 666.6L1550.0 666.4L1552.0 666.1L1554.0 665.8L1556.0 665.5L1558.0 665.2L1560.0 664.8L1562.0 664.4L1564.0 664.0L1566.0 663.5L1568.0 662.9L1570.0 662.3L1572.0 661.6L1574.0 660.8L1576.0 660.0L1578.0 659.1L1580.0 658.1L1582.0 657.1L1584.0 655.9L1586.0 654.7L1588.0 653.3L1590.0 651.8L1592.0 650.2L1594.0 648.5L1596.0 646.7L1598.0 644.8L1600.0 642.9L1602.0 640.7L1604.0 638.4L1606.0 635.9L1608.0 633.3L1610.0 630.4L1612.0 627.2L1614.0 623.9L1616.0 620.6L1618.0 617.6L1620.0 614.6L1622.0 611.1L1624.0 606.6L1626.0 600.9L1628.0 594.7L1630.0 588.7L1632.0 583.1L1634.0 577.4L1636.0 571.6L1638.0 565.4L1640.0 559.0L1642.0 552.4L1644.0 545.7L1646.0 538.7L1648.0 531.9L1650.0 525.5L1652.0 519.1L1654.0 512.7L1656.0 506.3L1658.0 499.3L1660.0 491.3L1662.0 482.4L1664.0 473.4L1666.0 464.4L1668.0 455.1L1670.0 445.7L1672.0 437.4L1674.0 430.7L1676.0 425.3L1678.0 420.2L1680.0 414.9L1682.0 409.5L1684.0 404.3L1686.0 400.2L1692.5 391.2L1698.0 396.2L1700.0 398.1L1702.0 401.6L1704.0 405.4L1706.0 409.1L1708.0 412.6L1710.0 416.1L1712.0 419.7L1714.0 423.4L1716.0 427.2L1718.0 431.0L1720.0 434.7L1722.0 438.3L1724.0 441.8L1726.0 445.5L1728.0 449.3L1730.0 453.2L1732.0 456.9L1734.0 460.2L1736.0 463.2L1738.0 466.1L1740.0 468.8L1742.0 471.5L1744.0 474.1L1746.0 476.5L1748.0 478.9L1750.0 481.1L1752.0 483.3L1754.0 485.5L1756.0 487.6L1758.0 489.7L1760.0 491.8L1762.0 493.8L1764.0 495.7L1766.0 497.6L1768.0 499.4L1770.0 501.1L1772.0 502.8L1774.0 504.4L1776.0 505.9L1778.0 507.3L1780.0 508.7L1782.0 510.0L1784.0 511.3L1786.0 512.5L1788.0 513.7L1790.0 514.8L1792.0 515.9L1794.0 517.0L1796.0 518.0L1798.0 519.0L1800.0 520.0L1806.0 522.9L1812.0 525.6L1818.0 528.2L1824.0 530.6L1830.0 532.9L1836.0 535.1L1842.0 537.3L1848.0 539.5L1854.0 541.7L1860.0 543.9L1866.0 546.0L1872.0 548.0L1878.0 549.8L1884.0 551.5L1890.0 553.0L1896.0 554.5L1902.0 555.9L1908.0 557.3L1914.0 558.7L1920.0 560.1L1926.0 561.5L1932.0 562.9L1938.0 564.1L1944.0 565.3L1950.0 566.2L1956.0 567.1L1962.0 567.9L1968.0 568.7L1974.0 569.5L1980.0 570.3L1986.0 571.1L1992.0 572.0L1998.0 572.9L2004.0 573.7L2010.0 574.6L2016.0 575.4L2022.0 576.2L2028.0 577.0M2211.0 585.9L2209.0 586.9L2208.0 587.3L2206.0 588.2L2203.0 589.4L2202.0 589.8L2200.0 590.4L2197.0 591.4L2196.0 591.6L2194.0 592.2L2191.0 593.0L2190.0 593.2L2188.0 593.8L2185.0 595.0L2184.0 595.4L2182.0 596.2L2179.0 597.3L2178.0 597.7L2176.0 598.4L2173.0 599.4L2172.0 599.7L2170.0 600.4L2166.0 601.7L2160.0 603.6L2154.0 605.3L2148.0 606.9L2142.0 608.2L2136.0 609.3L2130.0 610.3L2124.0 611.3L2118.0 612.2L2112.0 613.2L2106.0 614.3L2100.0 615.3L2094.0 616.4L2088.0 617.4L2082.0 618.4L2076.0 619.3L2070.0 620.2L2064.0 621.0L2058.0 621.9L2052.0 622.9L2046.0 623.8L2040.0 624.8L2034.0 625.7L2028.0 626.6L2022.0 627.3L2016.0 628.1L2010.0 628.8L2004.0 629.4L1998.0 630.1L1992.0 630.7L1986.0 631.3L1980.0 631.9L1974.0 632.5L1968.0 633.1L1962.0 633.6L1956.0 634.1L1950.0 634.5L1944.0 634.9L1938.0 635.3L1932.0 635.6L1926.0 635.9L1920.0 636.2L1914.0 636.5L1908.0 636.9L1902.0 637.3L1896.0 637.7L1890.0 638.2L1884.0 638.8L1878.0 639.5L1872.0 640.1L1866.0 640.7L1860.0 641.3L1854.0 641.9L1848.0 642.4L1842.0 642.9L1836.0 643.5L1830.0 643.9L1824.0 644.4L1818.0 644.8L1812.0 645.3L1806.0 645.6L1800.0 646.0L1794.0 646.4L1788.0 646.9L1782.0 647.3L1776.0 647.8L1770.0 648.3L1764.0 648.8L1758.0 649.4L1752.0 649.9L1746.0 650.5L1740.0 651.0L1734.0 651.7L1728.0 652.4L1722.0 653.2L1716.0 654.1L1710.0 655.2L1704.0 656.3L1698.0 657.5L1692.0 658.9L1686.0 660.4L1680.0 662.0L1674.0 663.8L1668.0 665.9L1662.0 668.3L1656.0 671.0L1650.0 674.0L1644.0 677.3L1638.0 680.9L1632.0 684.6L1626.0 688.2L1620.0 691.8L1614.0 695.3L1608.0 698.5L1602.0 701.8L1596.0 705.0L1590.0 708.3L1584.0 711.4L1578.0 714.3L1572.0 717.2L1566.0 720.2L1560.0 723.1L1559.0 723.6L1556.0 725.2L1554.0 726.4L1553.0 727.1L1550.0 729.4L1548.0 731.5L1547.0 732.6L1544.0 736.4L1542.0 739.1L1541.0 740.4L1538.0 744.1L1536.0 746.3L1535.0 747.3L1532.0 750.2L1530.0 752.0L1529.0 753.0L1526.0 755.8L1524.0 757.7L1523.0 758.7L1520.0 762.0L1518.0 764.3L1517.0 765.6L1514.0 769.4L1512.0 772.1L1511.0 773.5L1508.0 777.7L1506.0 780.5L1505.0 781.9L1502.0 785.9L1500.0 788.7L1499.0 790.1L1496.0 794.3L1494.0 797.1L1493.0 798.5L1490.0 802.7L1488.0 805.4L1487.0 806.7L1484.0 810.6L1482.0 813.2L1481.0 814.4L1478.0 818.2L1476.0 820.7L1475.0 821.9L1472.0 825.5L1470.0 827.9L1469.0 829.0L1466.0 832.5L1464.0 834.8L1463.0 836.0L1460.0 839.3L1458.0 841.5L1457.0 842.6L1454.0 845.6L1452.0 847.5L1451.0 848.4L1448.0 850.9L1446.0 852.6L1445.0 853.4L1442.0 855.6L1440.0 857.1L1439.0 857.8L1436.0 860.0L1434.0 861.4L1433.0 862.1L1430.0 864.3L1428.0 865.7L1427.0 866.4L1424.0 867.9L1422.0 868.5L1421.0 868.8L1418.0 869.5L1416.0 870.0L1415.0 870.2L1412.0 870.7L1410.0 870.9L1409.0 871.0L1406.0 871.2L1404.0 870.9L1403.0 870.8L1400.0 870.2L1398.0 869.8L1397.0 869.5L1394.0 868.7L1392.0 868.1L1391.0 867.8L1388.0 866.7L1386.0 865.8L1385.0 865.3L1382.0 863.7L1380.0 862.6L1379.0 862.0L1376.0 860.2L1374.0 859.0L1373.0 858.4L1370.0 856.8L1368.0 855.6L1367.0 855.1L1364.0 853.3L1362.0 852.2L1361.0 851.6L1358.0 849.8L1356.0 848.7L1355.0 848.1L1352.0 846.4L1350.0 845.3L1349.0 844.8L1346.0 843.1L1344.0 842.0L1343.0 841.4L1340.0 839.8L1338.0 838.6L1332.0 835.4L1326.0 832.2L1320.0 829.2L1314.0 826.4L1308.0 823.9L1302.0 821.4L1296.0 819.1L1290.0 816.9L1284.0 814.8L1278.0 812.9L1272.0 811.0L1266.0 809.2L1260.0 807.5L1254.0 805.9L1248.0 804.4L1242.0 802.9L1236.0 801.5L1230.0 800.1L1224.0 798.8L1218.0 797.5L1212.0 796.2L1206.0 795.0L1200.0 793.9L1194.0 792.9L1188.0 791.8L1182.0 790.9L1176.0 789.9L1170.0 789.0L1164.0 788.2L1158.0 787.3L1152.0 786.5L1146.0 785.8L1140.0 785.0L1134.0 784.3L1128.0 783.6L1122.0 783.0L1116.0 782.3L1110.0 781.7L1104.0 781.0L1098.0 780.4L1092.0 779.8L1086.0 779.2L1080.0 778.6L1074.0 778.0L1068.0 777.4L1062.0 776.9L1056.0 776.3L1050.0 775.7L1044.0 775.1L1038.0 774.6L1032.0 774.0L1026.0 773.5L1028.0 770.9L1030.0 769.5L1032.0 768.2L1034.0 767.0L1036.0 765.8L1038.0 764.7L1040.0 763.7L1042.0 762.8L1044.0 761.9L1046.0 761.1L1048.0 760.4L1050.0 759.6L1052.0 758.9L1054.0 758.3L1056.0 757.6L1058.0 756.9L1060.0 756.3L1062.0 755.7L1064.0 755.1L1066.0 754.5L1068.0 754.0L1074.0 752.3L1080.0 750.6L1086.0 749.0L1092.0 747.5L1098.0 745.9L1104.0 744.4L1110.0 743.0L1116.0 741.6L1122.0 740.3L1128.0 739.0L1134.0 737.7L1140.0 736.4L1146.0 735.1L1152.0 733.8L1158.0 732.4L1164.0 731.1L1170.0 729.8L1176.0 728.5L1182.0 727.3L1188.0 726.0L1194.0 724.7L1198.0 723.8" stroke="#007c3e" stroke-width="8.0"/>
<path d="M1030.0 776.9L1050.0 763.1L1090.0 747.7L1140.0 733.1L1198.0 725.4" stroke="#008080" stroke-width="8.0"/>
<path d="M1700.0 653.0L1707.0 651.3L1714.0 649.9L1721.0 648.5L1728.0 647.4L1735.0 646.5L1742.0 645.7L1749.0 644.9L1756.0 644.1L1763.0 643.4L1770.0 642.7L1777.0 642.1L1784.0 641.4L1791.0 640.8L1798.0 640.3L1805.0 639.8L1812.0 639.3L1819.0 638.8L1826.0 638.2L1833.0 637.6L1840.0 636.9L1847.0 636.2L1854.0 635.5L1861.0 634.8L1868.0 634.0L1875.0 633.1L1882.0 632.3L1889.0 631.5L1896.0 630.7L1903.0 630.2L1910.0 629.7L1917.0 629.3L1924.0 628.9L1931.0 628.5L1938.0 628.1L1945.0 627.7L1952.0 627.2L1959.0 626.6L1966.0 625.9L1973.0 625.2L1980.0 624.5L1987.0 623.7L1994.0 622.9L2001.0 622.1L2008.0 621.2L2015.0 620.3L2022.0 619.4L2029.0 618.4L2036.0 617.2L2043.0 616.0L2050.0 614.7L2057.0 613.5L2064.0 612.3L2071.0 611.2L2078.0 610.1L2085.0 608.8L2092.0 607.4L2099.0 606.0L2106.0 604.6L2113.0 603.2L2120.0 601.9L2127.0 600.6L2134.0 599.3L2141.0 597.9L2148.0 596.1L2155.0 594.0L2162.0 591.6L2169.0 589.0L2176.0 586.3L2183.0 583.3L2190.0 580.4L2197.0 578.5L2204.0 576.0L2211.0 572.6L2211.0 582.3L2204.0 585.4L2197.0 587.7L2190.0 589.6L2183.0 592.2L2176.0 594.8L2169.0 597.1L2162.0 599.3L2155.0 601.4L2148.0 603.2L2141.0 604.8L2134.0 606.0L2127.0 607.2L2120.0 608.3L2113.0 609.5L2106.0 610.7L2099.0 611.9L2092.0 613.1L2085.0 614.3L2078.0 615.4L2071.0 616.4L2064.0 617.4L2057.0 618.5L2050.0 619.6L2043.0 620.7L2036.0 621.8L2029.0 622.8L2022.0 623.7L2015.0 624.6L2008.0 625.4L2001.0 626.1L1994.0 626.9L1987.0 627.6L1980.0 628.3L1973.0 629.0L1966.0 629.6L1959.0 630.2L1952.0 630.8L1945.0 631.2L1938.0 631.6L1931.0 632.0L1924.0 632.4L1917.0 632.7L1910.0 633.1L1903.0 633.6L1896.0 634.1L1889.0 634.7L1882.0 635.4L1875.0 636.2L1868.0 636.9L1861.0 637.6L1854.0 638.2L1847.0 638.9L1840.0 639.5L1833.0 640.1L1826.0 640.6L1819.0 641.2L1812.0 641.6L1805.0 642.1L1798.0 642.6L1791.0 643.0L1784.0 643.6L1777.0 644.1L1770.0 644.7L1763.0 645.3L1756.0 645.9L1749.0 646.6L1742.0 647.2L1735.0 648.0L1728.0 648.8L1721.0 649.7L1714.0 650.8L1707.0 652.1L1700.0 653.5Z" fill="#222b7e" stroke="none"/>
<path d="M1026.0 783.3L1032.0 778.1L1038.0 773.7L1044.0 770.5L1050.0 767.7L1056.0 765.3L1062.0 763.2L1068.0 761.1L1074.0 759.2L1080.0 757.3L1086.0 755.5L1092.0 753.7L1098.0 752.0L1104.0 750.3L1110.0 748.7L1116.0 747.2L1122.0 745.8L1128.0 744.4L1134.0 742.9L1140.0 741.5L1146.0 740.0L1152.0 738.6L1158.0 737.1L1164.0 735.7L1170.0 734.3L1176.0 732.8L1182.0 731.4L1188.0 730.0L1198.0 727.7L1198.0 727.7L1188.0 730.0L1182.0 731.5L1176.0 733.1L1170.0 734.8L1164.0 736.4L1158.0 738.1L1152.0 739.8L1146.0 741.5L1140.0 743.2L1134.0 744.9L1128.0 746.5L1122.0 748.2L1116.0 749.8L1110.0 751.5L1104.0 753.5L1098.0 755.5L1092.0 757.6L1086.0 759.7L1080.0 761.9L1074.0 764.2L1068.0 766.5L1062.0 769.0L1056.0 771.6L1050.0 774.6L1044.0 778.0L1038.0 782.2L1032.0 787.8L1026.0 794.6Z" fill="#222b7e" stroke="none"/>
<path d="M1116.0 719.6L1122.0 718.6L1128.0 717.3L1134.0 716.0L1140.0 714.7L1146.0 713.4L1152.0 712.2L1158.0 711.0L1164.0 709.8L1170.0 708.6L1176.0 707.5L1182.0 706.5L1188.0 705.6L1194.0 704.9L1200.0 704.3L1206.0 703.6L1212.0 702.9L1218.0 702.4L1224.0 701.8L1230.0 701.3L1236.0 700.8L1242.0 700.2L1248.0 699.5L1254.0 698.7L1260.0 697.8L1266.0 696.9L1272.0 695.9L1278.0 694.9L1284.0 693.9L1290.0 692.9L1296.0 692.0L1302.0 691.0L1308.0 690.0L1314.0 689.0L1320.0 688.0L1326.0 687.0L1332.0 686.0L1338.0 685.0L1344.0 684.1L1350.0 683.1L1356.0 682.2L1362.0 681.3L1368.0 680.4L1374.0 679.5L1380.0 678.6L1386.0 677.7L1392.0 676.8L1398.0 675.9L1404.0 675.0L1410.0 674.2L1416.0 673.3L1422.0 672.5L1428.0 671.8L1434.0 671.0L1440.0 670.3L1446.0 669.6L1452.0 668.9L1458.0 668.3L1464.0 667.7L1470.0 667.2L1476.0 666.6L1482.0 666.1L1488.0 665.6L1494.0 665.2L1500.0 665.0L1506.0 664.9L1512.0 664.9L1518.0 664.8L1524.0 664.6L1530.0 664.3L1536.0 664.0L1540.0 663.8L1542.0 663.7L1544.0 663.6L1546.0 663.4L1548.0 663.2L1550.0 662.9L1552.0 662.6L1554.0 662.3L1556.0 661.9L1558.0 661.5L1560.0 661.1L1562.0 660.7L1564.0 660.2L1566.0 659.6L1568.0 659.0L1570.0 658.4L1572.0 657.6L1574.0 656.8L1576.0 655.9L1578.0 654.9L1580.0 653.8L1582.0 652.7L1584.0 651.6L1586.0 650.2L1588.0 648.8L1590.0 647.2L1592.0 645.5L1594.0 643.7L1596.0 641.9L1598.0 639.9L1600.0 637.9L1602.0 635.7L1604.0 633.3L1606.0 630.7L1608.0 628.0L1610.0 625.2L1612.0 622.0L1614.0 618.5L1616.0 615.0L1618.0 611.5L1620.0 608.3L1622.0 605.2L1624.0 601.5L1626.0 596.7L1628.0 590.7L1630.0 584.1L1632.0 577.6L1634.0 571.6L1636.0 565.6L1638.0 559.4L1640.0 553.0L1642.0 546.3L1644.0 539.3L1646.0 532.3L1648.0 524.9L1650.0 517.6L1652.0 510.4L1654.0 503.6L1656.0 496.9L1658.0 490.0L1660.0 483.1L1662.0 475.6L1664.0 466.9L1666.0 457.5L1668.0 447.8L1670.0 438.3L1672.0 428.4L1674.0 418.4L1676.0 409.1L1678.0 401.5L1680.0 395.5L1682.0 390.1L1684.0 384.4L1686.0 378.7L1688.0 373.1L1690.0 367.5L1692.0 364.2L1698.0 355.4L1704.0 361.1L1706.0 363.1L1708.0 366.7L1710.0 370.7L1712.0 374.5L1714.0 378.2L1716.0 381.9L1718.0 385.6L1720.0 389.4L1722.0 393.3L1724.0 397.3L1726.0 401.2L1728.0 405.0L1730.0 408.8L1732.0 412.6L1734.0 416.5L1736.0 420.5L1738.0 424.6L1740.0 428.4L1742.0 432.0L1744.0 435.2L1746.0 438.3L1748.0 441.3L1750.0 444.1L1752.0 446.9L1754.0 449.6L1756.0 452.2L1758.0 454.6L1760.0 457.0L1762.0 459.3L1764.0 461.7L1766.0 464.0L1768.0 466.2L1770.0 468.4L1772.0 470.6L1774.0 472.7L1776.0 474.7L1778.0 476.7L1780.0 478.6L1782.0 480.4L1784.0 482.1L1786.0 483.8L1788.0 485.3L1790.0 486.9L1792.0 488.3L1794.0 489.7L1796.0 491.1L1798.0 492.4L1800.0 493.6L1806.0 497.2L1812.0 500.6L1818.0 503.8L1824.0 506.9L1830.0 509.7L1836.0 512.5L1842.0 515.1L1848.0 517.7L1854.0 520.2L1860.0 522.8L1866.0 525.4L1872.0 527.9L1878.0 530.3L1884.0 532.5L1890.0 534.4L1896.0 536.2L1902.0 537.9L1908.0 539.6L1914.0 541.1L1920.0 542.7L1926.0 544.3L1932.0 545.9L1938.0 547.4L1944.0 548.8L1950.0 550.1L1956.0 551.1L1962.0 552.1L1968.0 553.0L1974.0 553.8L1980.0 554.7L1986.0 555.6L1992.0 556.6L1998.0 557.5L2004.0 558.5L2010.0 559.4L2016.0 560.4L2022.0 561.3L2028.0 562.2L2034.0 563.0L2040.0 563.8L2046.0 564.6L2052.0 565.3L2058.0 566.0L2064.0 566.7M2211.0 572.6L2209.0 573.7L2208.0 574.2L2206.0 575.1L2203.0 576.4L2202.0 576.8L2200.0 577.5L2197.0 578.5L2196.0 578.8L2194.0 579.4L2191.0 580.1L2190.0 580.4L2188.0 581.0L2185.0 582.4L2184.0 582.9L2182.0 583.8L2179.0 585.1L2178.0 585.5L2176.0 586.3L2173.0 587.5L2172.0 587.9L2170.0 588.6L2166.0 590.1L2160.0 592.3L2154.0 594.3L2148.0 596.1L2142.0 597.6L2136.0 598.9L2130.0 600.1L2124.0 601.2L2118.0 602.3L2112.0 603.4L2106.0 604.6L2100.0 605.8L2094.0 607.0L2088.0 608.2L2082.0 609.4L2076.0 610.4L2070.0 611.4L2064.0 612.3L2058.0 613.3L2052.0 614.4L2046.0 615.5L2040.0 616.5L2034.0 617.6L2028.0 618.5L2022.0 619.4L2016.0 620.2L2010.0 621.0L2004.0 621.7L1998.0 622.4L1992.0 623.1L1986.0 623.8L1980.0 624.5L1974.0 625.1L1968.0 625.7L1962.0 626.3L1956.0 626.9L1950.0 627.3L1944.0 627.8L1938.0 628.1L1932.0 628.5L1926.0 628.8L1920.0 629.1L1914.0 629.5L1908.0 629.8L1902.0 630.3L1896.0 630.7L1890.0 631.3L1884.0 632.0L1878.0 632.8L1872.0 633.5L1866.0 634.2L1860.0 634.9L1854.0 635.5L1848.0 636.1L1842.0 636.7L1836.0 637.3L1830.0 637.8L1824.0 638.4L1818.0 638.9L1812.0 639.3L1806.0 639.7L1800.0 640.2L1794.0 640.6L1788.0 641.1L1782.0 641.6L1776.0 642.2L1770.0 642.7L1764.0 643.3L1758.0 643.9L1752.0 644.6L1746.0 645.2L1740.0 645.9L1734.0 646.6L1728.0 647.4L1722.0 648.4L1716.0 649.5L1710.0 650.7L1704.0 652.0L1698.0 653.5L1692.0 655.1L1686.0 656.9L1680.0 658.8L1674.0 661.1L1668.0 663.8L1662.0 666.7L1656.0 669.9L1650.0 673.4L1644.0 677.2L1638.0 681.2L1632.0 685.3L1626.0 689.3L1620.0 693.2L1614.0 697.0L1608.0 700.5L1602.0 704.0L1596.0 707.5L1590.0 711.1L1584.0 714.4L1578.0 717.6L1572.0 720.7L1566.0 724.0L1560.0 727.0L1559.0 727.6L1556.0 729.3L1554.0 730.6L1553.0 731.3L1550.0 733.7L1548.0 735.9L1547.0 737.1L1544.0 741.1L1542.0 744.0L1541.0 745.4L1538.0 749.5L1536.0 751.9L1535.0 753.1L1532.0 756.3L1530.0 758.3L1529.0 759.3L1526.0 762.3L1524.0 764.4L1523.0 765.5L1520.0 768.8L1518.0 771.3L1517.0 772.6L1514.0 776.7L1512.0 779.6L1511.0 781.0L1508.0 785.5L1506.0 788.5L1505.0 790.0L1502.0 794.5L1500.0 797.4L1499.0 798.9L1496.0 803.5L1494.0 806.5L1493.0 808.0L1490.0 812.6L1488.0 815.5L1487.0 817.0L1484.0 821.3L1482.0 824.1L1481.0 825.5L1478.0 829.6L1476.0 832.3L1475.0 833.7L1472.0 837.6L1470.0 840.2L1469.0 841.5L1466.0 845.3L1464.0 847.8L1463.0 849.0L1460.0 852.8L1458.0 855.2L1457.0 856.4L1454.0 859.8L1452.0 862.0L1451.0 863.1L1448.0 866.0L1446.0 867.9L1445.0 868.8L1442.0 871.4L1440.0 873.0L1439.0 873.9L1436.0 876.2L1434.0 877.8L1433.0 878.5L1430.0 880.8L1428.0 882.4L1427.0 883.2L1424.0 885.4L1422.0 886.6L1421.0 887.1L1418.0 888.1L1416.0 888.7L1415.0 888.9L1412.0 889.6L1410.0 890.0L1409.0 890.2L1406.0 890.6L1404.0 890.7L1403.0 890.8L1400.0 890.4L1398.0 890.1L1397.0 889.8L1394.0 889.1L1392.0 888.5L1391.0 888.2L1388.0 887.2L1386.0 886.5L1385.0 886.1L1382.0 884.6L1380.0 883.5L1379.0 882.9L1376.0 881.0L1374.0 879.7L1373.0 879.0L1370.0 877.1L1368.0 875.8L1367.0 875.2L1364.0 873.4L1362.0 872.1L1361.0 871.5L1358.0 869.6L1356.0 868.3L1355.0 867.6L1352.0 865.8L1350.0 864.5L1349.0 863.9L1346.0 862.1L1344.0 860.9L1343.0 860.3L1340.0 858.4L1338.0 857.2L1332.0 853.6L1326.0 850.0L1320.0 846.6L1314.0 843.5L1308.0 840.6L1302.0 837.9L1296.0 835.3L1290.0 832.8L1284.0 830.5L1278.0 828.2L1272.0 826.2L1266.0 824.2L1260.0 822.3L1254.0 820.5L1248.0 818.8L1242.0 817.2L1236.0 815.6L1230.0 814.0L1224.0 812.5L1218.0 811.1L1212.0 809.7L1206.0 808.4L1200.0 807.2L1194.0 806.0L1188.0 804.9L1182.0 803.8L1176.0 802.7L1170.0 801.8L1164.0 800.8L1158.0 799.9L1152.0 799.0L1146.0 798.2L1140.0 797.3L1134.0 796.6L1128.0 795.8L1122.0 795.1L1116.0 794.3L1110.0 793.6L1104.0 792.9L1098.0 792.2L1092.0 791.6L1086.0 790.9L1080.0 790.3L1074.0 789.6L1068.0 789.0L1062.0 788.4L1056.0 787.7L1050.0 787.1L1044.0 786.5L1038.0 785.8L1032.0 785.2L1026.0 784.6L1028.0 781.4L1030.0 779.7L1032.0 778.1L1034.0 776.5L1036.0 775.1L1038.0 773.7L1040.0 772.5L1042.0 771.5L1044.0 770.5L1046.0 769.5L1048.0 768.6L1050.0 767.7L1052.0 766.9L1054.0 766.1L1056.0 765.3L1058.0 764.6L1060.0 763.9L1062.0 763.2L1064.0 762.5L1066.0 761.8L1068.0 761.1L1074.0 759.2L1080.0 757.3L1086.0 755.5L1092.0 753.7L1098.0 752.0L1104.0 750.3L1110.0 748.7L1116.0 747.2L1122.0 745.8L1128.0 744.4L1134.0 742.9L1140.0 741.5L1146.0 740.0L1152.0 738.6L1158.0 737.1L1164.0 735.7L1170.0 734.3L1176.0 732.8L1182.0 731.4L1188.0 730.0L1194.0 728.6L1198.0 727.7" stroke="#222b7e" stroke-width="8.0"/>
<path d="M1700.0 649.1L1707.0 647.2L1714.0 645.5L1721.0 644.0L1728.0 642.7L1735.0 641.7L1742.0 640.7L1749.0 639.9L1756.0 639.0L1763.0 638.2L1770.0 637.5L1777.0 636.7L1784.0 636.0L1791.0 635.4L1798.0 634.8L1805.0 634.2L1812.0 633.7L1819.0 633.1L1826.0 632.5L1833.0 631.8L1840.0 631.0L1847.0 630.3L1854.0 629.5L1861.0 628.7L1868.0 627.8L1875.0 626.9L1882.0 625.9L1889.0 625.0L1896.0 624.2L1903.0 623.6L1910.0 623.1L1917.0 622.7L1924.0 622.3L1931.0 621.9L1938.0 621.5L1945.0 621.1L1952.0 620.6L1959.0 620.0L1966.0 619.3L1973.0 618.6L1980.0 617.8L1987.0 617.0L1994.0 616.1L2001.0 615.3L2008.0 614.4L2015.0 613.5L2022.0 612.5L2029.0 611.4L2036.0 610.2L2043.0 608.9L2050.0 607.6L2057.0 606.2L2064.0 605.0L2071.0 603.8L2078.0 602.7L2085.0 601.3L2092.0 599.7L2099.0 598.2L2106.0 596.6L2113.0 595.1L2120.0 593.6L2127.0 592.2L2134.0 590.7L2141.0 589.1L2148.0 587.2L2155.0 584.8L2162.0 582.2L2169.0 579.3L2176.0 576.3L2183.0 573.0L2190.0 569.6L2197.0 566.8L2204.0 563.3L2211.0 558.7L2211.0 569.0L2204.0 572.4L2197.0 574.9L2190.0 576.8L2183.0 579.7L2176.0 582.7L2169.0 585.4L2162.0 588.0L2155.0 590.4L2148.0 592.5L2141.0 594.3L2134.0 595.7L2127.0 597.0L2120.0 598.3L2113.0 599.6L2106.0 601.0L2099.0 602.4L2092.0 603.8L2085.0 605.2L2078.0 606.5L2071.0 607.6L2064.0 608.7L2057.0 609.9L2050.0 611.1L2043.0 612.4L2036.0 613.6L2029.0 614.8L2022.0 615.8L2015.0 616.7L2008.0 617.6L2001.0 618.5L1994.0 619.3L1987.0 620.1L1980.0 620.8L1973.0 621.6L1966.0 622.3L1959.0 623.0L1952.0 623.6L1945.0 624.1L1938.0 624.5L1931.0 624.9L1924.0 625.3L1917.0 625.7L1910.0 626.1L1903.0 626.6L1896.0 627.1L1889.0 627.8L1882.0 628.7L1875.0 629.5L1868.0 630.4L1861.0 631.1L1854.0 631.9L1847.0 632.6L1840.0 633.3L1833.0 634.0L1826.0 634.6L1819.0 635.2L1812.0 635.7L1805.0 636.2L1798.0 636.7L1791.0 637.2L1784.0 637.8L1777.0 638.5L1770.0 639.1L1763.0 639.8L1756.0 640.5L1749.0 641.3L1742.0 642.0L1735.0 642.9L1728.0 643.8L1721.0 644.9L1714.0 646.2L1707.0 647.7L1700.0 649.4Z" fill="#f47b20" stroke="none"/>
<path d="M1026.0 798.3L1032.0 791.4L1038.0 785.8L1044.0 781.7L1050.0 778.2L1056.0 775.2L1062.0 772.6L1068.0 770.1L1074.0 767.8L1080.0 765.5L1086.0 763.3L1092.0 761.2L1098.0 759.1L1104.0 757.1L1110.0 755.2L1116.0 753.4L1122.0 751.8L1128.0 750.2L1134.0 748.5L1140.0 746.8L1146.0 745.1L1152.0 743.4L1158.0 741.7L1164.0 740.0L1170.0 738.4L1176.0 736.7L1182.0 735.1L1188.0 733.5L1198.0 730.8L1198.0 730.8L1188.0 733.5L1182.0 735.1L1176.0 736.8L1170.0 738.6L1164.0 740.4L1158.0 742.3L1152.0 744.1L1146.0 746.0L1140.0 747.9L1134.0 749.8L1128.0 751.6L1122.0 753.4L1116.0 755.2L1110.0 757.2L1104.0 759.3L1098.0 761.6L1092.0 764.0L1086.0 766.4L1080.0 768.9L1074.0 771.6L1068.0 774.3L1062.0 777.1L1056.0 780.2L1050.0 783.7L1044.0 787.8L1038.0 792.8L1032.0 799.6L1026.0 808.0Z" fill="#f47b20" stroke="none"/>
<path d="M1116.0 719.5L1122.0 718.3L1128.0 716.9L1134.0 715.4L1140.0 714.0L1146.0 712.6L1152.0 711.3L1158.0 710.0L1164.0 708.7L1170.0 707.4L1176.0 706.2L1182.0 705.2L1188.0 704.2L1194.0 703.5L1200.0 702.8L1206.0 702.0L1212.0 701.3L1218.0 700.7L1224.0 700.2L1230.0 699.6L1236.0 699.1L1242.0 698.4L1248.0 697.7L1254.0 696.9L1260.0 696.0L1266.0 695.0L1272.0 694.0L1278.0 693.0L1284.0 692.0L1290.0 690.9L1296.0 689.9L1302.0 688.9L1308.0 687.9L1314.0 686.8L1320.0 685.8L1326.0 684.7L1332.0 683.7L1338.0 682.7L1344.0 681.7L1350.0 680.8L1356.0 679.8L1362.0 678.8L1368.0 677.9L1374.0 676.9L1380.0 676.0L1386.0 675.1L1392.0 674.1L1398.0 673.2L1404.0 672.3L1410.0 671.4L1416.0 670.6L1422.0 669.8L1428.0 669.0L1434.0 668.2L1440.0 667.4L1446.0 666.7L1452.0 666.0L1458.0 665.4L1464.0 664.8L1470.0 664.2L1476.0 663.6L1482.0 663.1L1488.0 662.5L1494.0 662.2L1500.0 661.9L1506.0 661.8L1512.0 661.8L1518.0 661.8L1524.0 661.6L1530.0 661.3L1536.0 660.9L1540.0 660.7L1542.0 660.6L1544.0 660.5L1546.0 660.3L1548.0 660.1L1550.0 659.9L1552.0 659.6L1554.0 659.2L1556.0 658.9L1558.0 658.5L1560.0 658.1L1562.0 657.6L1564.0 657.1L1566.0 656.5L1568.0 655.9L1570.0 655.3L1572.0 654.5L1574.0 653.7L1576.0 652.7L1578.0 651.7L1580.0 650.6L1582.0 649.5L1584.0 648.2L1586.0 646.9L1588.0 645.4L1590.0 643.8L1592.0 642.0L1594.0 640.1L1596.0 638.1L1598.0 636.0L1600.0 633.9L1602.0 631.6L1604.0 629.1L1606.0 626.5L1608.0 623.6L1610.0 620.6L1612.0 617.4L1614.0 613.9L1616.0 610.0L1618.0 606.0L1620.0 602.1L1622.0 598.6L1624.0 595.0L1626.0 590.9L1628.0 585.5L1630.0 578.8L1632.0 571.5L1634.0 564.3L1636.0 557.5L1638.0 550.8L1640.0 543.9L1642.0 536.7L1644.0 529.2L1646.0 521.4L1648.0 513.5L1650.0 505.3L1652.0 497.1L1654.0 489.1L1656.0 481.5L1658.0 473.9L1660.0 466.3L1662.0 458.6L1664.0 450.2L1666.0 440.5L1668.0 429.9L1670.0 419.1L1672.0 408.5L1674.0 397.4L1676.0 386.2L1678.0 375.8L1680.0 367.4L1682.0 360.6L1684.0 354.6L1686.0 348.3L1688.0 341.9L1690.0 335.6L1692.0 329.3L1694.0 325.7L1700.0 315.8L1706.0 322.1L1708.0 324.3L1710.0 328.1L1712.0 332.6L1714.0 336.8L1716.0 340.9L1718.0 344.9L1720.0 349.1L1722.0 353.3L1724.0 357.6L1726.0 362.0L1728.0 366.3L1730.0 370.6L1732.0 374.8L1734.0 378.9L1736.0 383.2L1738.0 387.7L1740.0 392.2L1742.0 396.5L1744.0 400.5L1746.0 404.2L1748.0 407.7L1750.0 411.0L1752.0 414.2L1754.0 417.3L1756.0 420.3L1758.0 423.2L1760.0 425.9L1762.0 428.6L1764.0 431.2L1766.0 433.8L1768.0 436.4L1770.0 438.9L1772.0 441.4L1774.0 443.8L1776.0 446.1L1778.0 448.4L1780.0 450.6L1782.0 452.8L1784.0 454.8L1786.0 456.8L1788.0 458.7L1790.0 460.5L1792.0 462.2L1794.0 463.8L1796.0 465.4L1798.0 466.9L1800.0 468.4L1806.0 472.6L1812.0 476.5L1818.0 480.1L1824.0 483.7L1830.0 487.0L1836.0 490.1L1842.0 493.1L1848.0 496.0L1854.0 498.9L1860.0 501.8L1866.0 504.7L1872.0 507.6L1878.0 510.4L1884.0 512.9L1890.0 515.2L1896.0 517.3L1902.0 519.3L1908.0 521.1L1914.0 522.9L1920.0 524.7L1926.0 526.5L1932.0 528.3L1938.0 530.0L1944.0 531.6L1950.0 533.1L1956.0 534.3L1962.0 535.5L1968.0 536.5L1974.0 537.4L1980.0 538.4L1986.0 539.4L1992.0 540.5L1998.0 541.6L2004.0 542.6L2010.0 543.7L2016.0 544.8L2022.0 545.8L2028.0 546.8L2034.0 547.8L2040.0 548.7L2046.0 549.5L2052.0 550.4L2058.0 551.2L2064.0 552.0L2070.0 552.7L2076.0 553.5L2082.0 554.2L2088.0 554.8L2094.0 555.4L2100.0 556.0L2106.0 556.5M2211.0 558.7L2209.0 560.2L2208.0 560.9L2206.0 562.2L2203.0 563.9L2202.0 564.4L2200.0 565.5L2197.0 566.8L2196.0 567.2L2194.0 568.1L2191.0 569.2L2190.0 569.6L2188.0 570.4L2185.0 571.9L2184.0 572.5L2182.0 573.5L2179.0 574.9L2178.0 575.4L2176.0 576.3L2173.0 577.6L2172.0 578.0L2170.0 578.9L2166.0 580.5L2160.0 583.0L2154.0 585.2L2148.0 587.2L2142.0 588.9L2136.0 590.3L2130.0 591.6L2124.0 592.8L2118.0 594.0L2112.0 595.3L2106.0 596.6L2100.0 598.0L2094.0 599.3L2088.0 600.6L2082.0 601.9L2076.0 603.0L2070.0 604.0L2064.0 605.0L2058.0 606.1L2052.0 607.2L2046.0 608.3L2040.0 609.5L2034.0 610.6L2028.0 611.6L2022.0 612.5L2016.0 613.4L2010.0 614.2L2004.0 614.9L1998.0 615.7L1992.0 616.4L1986.0 617.1L1980.0 617.8L1974.0 618.5L1968.0 619.1L1962.0 619.7L1956.0 620.3L1950.0 620.8L1944.0 621.2L1938.0 621.5L1932.0 621.9L1926.0 622.2L1920.0 622.5L1914.0 622.8L1908.0 623.2L1902.0 623.6L1896.0 624.2L1890.0 624.8L1884.0 625.6L1878.0 626.4L1872.0 627.3L1866.0 628.1L1860.0 628.8L1854.0 629.5L1848.0 630.2L1842.0 630.8L1836.0 631.5L1830.0 632.1L1824.0 632.7L1818.0 633.2L1812.0 633.7L1806.0 634.1L1800.0 634.6L1794.0 635.1L1788.0 635.6L1782.0 636.2L1776.0 636.8L1770.0 637.5L1764.0 638.1L1758.0 638.8L1752.0 639.5L1746.0 640.2L1740.0 641.0L1734.0 641.8L1728.0 642.7L1722.0 643.8L1716.0 645.1L1710.0 646.5L1704.0 648.0L1698.0 649.6L1692.0 651.5L1686.0 653.5L1680.0 655.7L1674.0 658.2L1668.0 660.9L1662.0 663.9L1656.0 667.2L1650.0 670.8L1644.0 674.7L1638.0 678.8L1632.0 683.0L1626.0 687.2L1620.0 691.4L1614.0 695.5L1608.0 699.4L1602.0 703.3L1596.0 707.2L1590.0 711.2L1584.0 715.1L1578.0 718.8L1572.0 722.3L1566.0 725.8L1560.0 729.4L1559.0 729.9L1556.0 731.7L1554.0 732.9L1553.0 733.5L1550.0 735.6L1548.0 737.2L1547.0 738.1L1544.0 741.5L1542.0 744.3L1541.0 745.8L1538.0 750.5L1536.0 753.7L1535.0 755.2L1532.0 759.4L1530.0 761.9L1529.0 763.1L1526.0 766.5L1524.0 768.7L1523.0 769.9L1520.0 773.3L1518.0 775.7L1517.0 777.0L1514.0 781.1L1512.0 784.0L1511.0 785.6L1508.0 790.4L1506.0 793.7L1505.0 795.3L1502.0 800.4L1500.0 803.7L1499.0 805.4L1496.0 810.4L1494.0 813.7L1493.0 815.4L1490.0 820.5L1488.0 823.9L1487.0 825.6L1484.0 830.5L1482.0 833.8L1481.0 835.4L1478.0 840.1L1476.0 843.1L1475.0 844.7L1472.0 849.2L1470.0 852.2L1469.0 853.6L1466.0 858.0L1464.0 860.8L1463.0 862.2L1460.0 866.4L1458.0 869.2L1457.0 870.6L1454.0 874.6L1452.0 877.2L1451.0 878.5L1448.0 882.1L1446.0 884.3L1445.0 885.4L1442.0 888.4L1440.0 890.4L1439.0 891.4L1436.0 894.1L1434.0 895.9L1433.0 896.7L1430.0 899.3L1428.0 901.0L1427.0 901.9L1424.0 904.6L1422.0 906.2L1421.0 907.0L1418.0 908.8L1416.0 909.5L1415.0 909.8L1412.0 910.8L1410.0 911.3L1409.0 911.5L1406.0 912.2L1404.0 912.4L1403.0 912.5L1400.0 912.7L1398.0 912.4L1397.0 912.2L1394.0 911.6L1392.0 911.0L1391.0 910.7L1388.0 909.8L1386.0 909.1L1385.0 908.7L1382.0 907.4L1380.0 906.4L1379.0 905.8L1376.0 903.9L1374.0 902.5L1373.0 901.8L1370.0 899.7L1368.0 898.4L1367.0 897.7L1364.0 895.7L1362.0 894.4L1361.0 893.7L1358.0 891.7L1356.0 890.3L1355.0 889.6L1352.0 887.6L1350.0 886.2L1349.0 885.6L1346.0 883.6L1344.0 882.3L1343.0 881.7L1340.0 879.7L1338.0 878.4L1332.0 874.5L1326.0 870.7L1320.0 867.0L1314.0 863.5L1308.0 860.4L1302.0 857.4L1296.0 854.6L1290.0 851.9L1284.0 849.4L1278.0 847.0L1272.0 844.7L1266.0 842.5L1260.0 840.5L1254.0 838.6L1248.0 836.7L1242.0 835.0L1236.0 833.3L1230.0 831.6L1224.0 830.0L1218.0 828.4L1212.0 827.0L1206.0 825.5L1200.0 824.2L1194.0 822.9L1188.0 821.7L1182.0 820.5L1176.0 819.4L1170.0 818.4L1164.0 817.3L1158.0 816.3L1152.0 815.4L1146.0 814.5L1140.0 813.6L1134.0 812.8L1128.0 812.0L1122.0 811.2L1116.0 810.4L1110.0 809.6L1104.0 808.9L1098.0 808.1L1092.0 807.4L1086.0 806.7L1080.0 806.0L1074.0 805.3L1068.0 804.7L1062.0 804.0L1056.0 803.3L1050.0 802.6L1044.0 802.0L1038.0 801.3L1032.0 800.7L1026.0 800.0L1028.0 795.8L1030.0 793.5L1032.0 791.4L1034.0 789.4L1036.0 787.5L1038.0 785.8L1040.0 784.3L1042.0 782.9L1044.0 781.7L1046.0 780.4L1048.0 779.3L1050.0 778.2L1052.0 777.2L1054.0 776.2L1056.0 775.2L1058.0 774.3L1060.0 773.4L1062.0 772.6L1064.0 771.8L1066.0 770.9L1068.0 770.1L1074.0 767.8L1080.0 765.5L1086.0 763.3L1092.0 761.2L1098.0 759.1L1104.0 757.1L1110.0 755.2L1116.0 753.4L1122.0 751.8L1128.0 750.2L1134.0 748.5L1140.0 746.8L1146.0 745.1L1152.0 743.4L1158.0 741.7L1164.0 740.0L1170.0 738.4L1176.0 736.7L1182.0 735.1L1188.0 733.5L1194.0 731.8L1198.0 730.8" stroke="#f47b20" stroke-width="8.0"/>
<path d="M1700.0 645.1L1707.0 643.1L1714.0 641.2L1721.0 639.5L1728.0 638.1L1735.0 637.0L1742.0 636.0L1749.0 635.1L1756.0 634.2L1763.0 633.3L1770.0 632.5L1777.0 631.7L1784.0 631.0L1791.0 630.3L1798.0 629.7L1805.0 629.1L1812.0 628.6L1819.0 628.0L1826.0 627.3L1833.0 626.6L1840.0 625.9L1847.0 625.1L1854.0 624.3L1861.0 623.4L1868.0 622.5L1875.0 621.5L1882.0 620.5L1889.0 619.5L1896.0 618.7L1903.0 618.1L1910.0 617.5L1917.0 617.0L1924.0 616.6L1931.0 616.1L1938.0 615.7L1945.0 615.2L1952.0 614.6L1959.0 613.9L1966.0 613.1L1973.0 612.2L1980.0 611.3L1987.0 610.4L1994.0 609.5L2001.0 608.5L2008.0 607.5L2015.0 606.4L2022.0 605.3L2029.0 604.1L2036.0 602.7L2043.0 601.2L2050.0 599.7L2057.0 598.2L2064.0 596.8L2071.0 595.4L2078.0 594.1L2085.0 592.5L2092.0 590.8L2099.0 589.1L2106.0 587.4L2113.0 585.7L2120.0 584.1L2127.0 582.5L2134.0 581.0L2141.0 579.3L2148.0 577.1L2155.0 574.5L2162.0 571.6L2169.0 568.4L2176.0 565.1L2183.0 561.5L2190.0 557.7L2197.0 554.4L2204.0 550.3L2211.0 544.9L2211.0 555.1L2204.0 559.7L2197.0 563.2L2190.0 566.0L2183.0 569.3L2176.0 572.7L2169.0 575.7L2162.0 578.6L2155.0 581.2L2148.0 583.6L2141.0 585.5L2134.0 587.1L2127.0 588.5L2120.0 589.9L2113.0 591.4L2106.0 593.0L2099.0 594.6L2092.0 596.1L2085.0 597.6L2078.0 599.1L2071.0 600.2L2064.0 601.4L2057.0 602.6L2050.0 603.9L2043.0 605.3L2036.0 606.6L2029.0 607.8L2022.0 608.9L2015.0 609.9L2008.0 610.8L2001.0 611.7L1994.0 612.5L1987.0 613.3L1980.0 614.2L1973.0 615.0L1966.0 615.7L1959.0 616.4L1952.0 617.0L1945.0 617.5L1938.0 617.9L1931.0 618.3L1924.0 618.7L1917.0 619.0L1910.0 619.5L1903.0 619.9L1896.0 620.6L1889.0 621.4L1882.0 622.3L1875.0 623.2L1868.0 624.2L1861.0 625.1L1854.0 625.9L1847.0 626.7L1840.0 627.4L1833.0 628.2L1826.0 628.9L1819.0 629.5L1812.0 630.1L1805.0 630.6L1798.0 631.2L1791.0 631.8L1784.0 632.4L1777.0 633.1L1770.0 633.8L1763.0 634.6L1756.0 635.4L1749.0 636.3L1742.0 637.1L1735.0 638.1L1728.0 639.1L1721.0 640.4L1714.0 641.9L1707.0 643.6L1700.0 645.5Z" fill="#6950a1" stroke="none"/>
<path d="M1026.0 811.6L1032.0 803.2L1038.0 796.4L1044.0 791.4L1050.0 787.3L1056.0 783.8L1062.0 780.7L1068.0 777.9L1074.0 775.2L1080.0 772.6L1086.0 770.1L1092.0 767.6L1098.0 765.3L1104.0 762.9L1110.0 760.8L1116.0 758.8L1122.0 757.0L1128.0 755.2L1134.0 753.4L1140.0 751.5L1146.0 749.6L1152.0 747.8L1158.0 745.9L1164.0 744.1L1170.0 742.2L1176.0 740.4L1182.0 738.6L1188.0 736.8L1198.0 733.8L1198.0 733.8L1188.0 736.8L1182.0 738.6L1176.0 740.4L1170.0 742.2L1164.0 744.1L1158.0 746.0L1152.0 748.0L1146.0 750.1L1140.0 752.1L1134.0 754.2L1128.0 756.2L1122.0 758.1L1116.0 760.1L1110.0 762.2L1104.0 764.6L1098.0 767.2L1092.0 769.9L1086.0 772.6L1080.0 775.4L1074.0 778.4L1068.0 781.4L1062.0 784.7L1056.0 788.2L1050.0 792.3L1044.0 797.1L1038.0 803.0L1032.0 811.2L1026.0 821.3Z" fill="#6950a1" stroke="none"/>
<path d="M1116.0 719.4L1122.0 718.0L1128.0 716.4L1134.0 714.9L1140.0 713.3L1146.0 711.8L1152.0 710.5L1158.0 709.1L1164.0 707.7L1170.0 706.3L1176.0 705.0L1182.0 703.8L1188.0 702.8L1194.0 702.0L1200.0 701.2L1206.0 700.4L1212.0 699.7L1218.0 699.1L1224.0 698.5L1230.0 697.9L1236.0 697.3L1242.0 696.6L1248.0 695.9L1254.0 695.0L1260.0 694.1L1266.0 693.0L1272.0 692.0L1278.0 690.9L1284.0 689.8L1290.0 688.7L1296.0 687.7L1302.0 686.6L1308.0 685.5L1314.0 684.4L1320.0 683.3L1326.0 682.2L1332.0 681.1L1338.0 680.0L1344.0 679.0L1350.0 678.0L1356.0 677.0L1362.0 675.9L1368.0 674.9L1374.0 673.9L1380.0 673.0L1386.0 672.0L1392.0 671.0L1398.0 670.0L1404.0 669.1L1410.0 668.1L1416.0 667.2L1422.0 666.4L1428.0 665.5L1434.0 664.7L1440.0 663.9L1446.0 663.1L1452.0 662.4L1458.0 661.7L1464.0 661.1L1470.0 660.5L1476.0 659.9L1482.0 659.3L1488.0 658.7L1494.0 658.3L1500.0 658.1L1506.0 658.0L1512.0 657.9L1518.0 658.0L1524.0 658.0L1530.0 657.8L1536.0 657.4L1540.0 657.2L1542.0 657.0L1544.0 656.9L1546.0 656.8L1548.0 656.7L1550.0 656.6L1552.0 656.4L1554.0 656.2L1556.0 655.9L1558.0 655.6L1560.0 655.2L1562.0 654.8L1564.0 654.4L1566.0 653.9L1568.0 653.4L1570.0 652.9L1572.0 652.3L1574.0 651.6L1576.0 650.8L1578.0 650.0L1580.0 649.0L1582.0 648.0L1584.0 646.9L1586.0 645.6L1588.0 644.3L1590.0 642.9L1592.0 641.4L1594.0 639.7L1596.0 637.9L1598.0 635.9L1600.0 633.8L1602.0 631.5L1604.0 629.1L1606.0 626.6L1608.0 624.0L1610.0 621.2L1612.0 618.2L1614.0 614.9L1616.0 611.4L1618.0 607.7L1620.0 603.6L1622.0 599.1L1624.0 594.7L1626.0 590.6L1628.0 586.7L1630.0 582.4L1632.0 577.0L1634.0 570.0L1636.0 561.9L1638.0 553.7L1640.0 546.1L1642.0 538.6L1644.0 531.0L1646.0 523.0L1648.0 514.7L1650.0 506.1L1652.0 497.3L1654.0 488.2L1656.0 479.0L1658.0 470.0L1660.0 461.5L1662.0 453.1L1664.0 444.5L1666.0 435.9L1668.0 426.4L1670.0 415.5L1672.0 403.7L1674.0 391.6L1676.0 379.7L1678.0 367.3L1680.0 354.9L1682.0 343.7L1684.0 334.9L1686.0 327.7L1688.0 320.9L1690.0 313.8L1692.0 306.7L1694.0 299.7L1696.0 293.7L1703.0 280.8L1710.0 288.6L1712.0 291.6L1714.0 296.1L1716.0 300.8L1718.0 305.2L1720.0 309.5L1722.0 313.9L1724.0 318.3L1726.0 322.8L1728.0 327.4L1730.0 332.1L1732.0 336.8L1734.0 341.3L1736.0 345.8L1738.0 350.2L1740.0 354.8L1742.0 359.6L1744.0 364.4L1746.0 369.1L1748.0 373.4L1750.0 377.3L1752.0 381.0L1754.0 384.5L1756.0 387.9L1758.0 391.3L1760.0 394.5L1762.0 397.6L1764.0 400.6L1766.0 403.5L1768.0 406.3L1770.0 409.1L1772.0 411.9L1774.0 414.6L1776.0 417.3L1778.0 419.9L1780.0 422.5L1782.0 425.0L1784.0 427.4L1786.0 429.7L1788.0 432.0L1790.0 434.1L1792.0 436.2L1794.0 438.1L1796.0 440.0L1798.0 441.8L1800.0 443.5L1806.0 448.4L1812.0 452.9L1818.0 457.1L1824.0 461.0L1830.0 464.9L1836.0 468.4L1842.0 471.8L1848.0 475.1L1854.0 478.3L1860.0 481.5L1866.0 484.7L1872.0 488.0L1878.0 491.1L1884.0 494.1L1890.0 496.8L1896.0 499.2L1902.0 501.4L1908.0 503.5L1914.0 505.5L1920.0 507.5L1926.0 509.4L1932.0 511.4L1938.0 513.3L1944.0 515.1L1950.0 516.8L1956.0 518.3L1962.0 519.6L1968.0 520.7L1974.0 521.8L1980.0 522.9L1986.0 523.9L1992.0 525.1L1998.0 526.2L2004.0 527.4L2010.0 528.6L2016.0 529.7L2022.0 530.9L2028.0 532.0L2034.0 533.1L2040.0 534.1L2046.0 535.1L2052.0 536.0L2058.0 536.8L2064.0 537.7L2070.0 538.5L2076.0 539.4L2082.0 540.1L2088.0 540.9L2094.0 541.6L2100.0 542.2L2106.0 542.8L2112.0 543.3L2118.0 543.8L2124.0 544.2L2130.0 544.6L2136.0 545.0L2142.0 545.4L2148.0 545.7M2211.0 544.9L2209.0 546.6L2208.0 547.4L2206.0 548.9L2203.0 551.0L2202.0 551.6L2200.0 552.8L2197.0 554.4L2196.0 554.9L2194.0 555.9L2191.0 557.3L2190.0 557.7L2188.0 558.6L2185.0 560.3L2184.0 560.9L2182.0 562.0L2179.0 563.6L2178.0 564.1L2176.0 565.1L2173.0 566.6L2172.0 567.1L2170.0 568.0L2166.0 569.8L2160.0 572.5L2154.0 574.9L2148.0 577.1L2142.0 579.0L2136.0 580.5L2130.0 581.9L2124.0 583.2L2118.0 584.5L2112.0 585.9L2106.0 587.4L2100.0 588.9L2094.0 590.3L2088.0 591.8L2082.0 593.2L2076.0 594.5L2070.0 595.6L2064.0 596.8L2058.0 598.0L2052.0 599.2L2046.0 600.5L2040.0 601.8L2034.0 603.1L2028.0 604.3L2022.0 605.3L2016.0 606.3L2010.0 607.2L2004.0 608.1L1998.0 608.9L1992.0 609.7L1986.0 610.5L1980.0 611.3L1974.0 612.1L1968.0 612.9L1962.0 613.6L1956.0 614.2L1950.0 614.8L1944.0 615.3L1938.0 615.7L1932.0 616.1L1926.0 616.4L1920.0 616.8L1914.0 617.2L1908.0 617.6L1902.0 618.1L1896.0 618.7L1890.0 619.4L1884.0 620.2L1878.0 621.1L1872.0 621.9L1866.0 622.8L1860.0 623.5L1854.0 624.3L1848.0 625.0L1842.0 625.7L1836.0 626.3L1830.0 626.9L1824.0 627.5L1818.0 628.1L1812.0 628.6L1806.0 629.0L1800.0 629.5L1794.0 630.0L1788.0 630.6L1782.0 631.2L1776.0 631.8L1770.0 632.5L1764.0 633.2L1758.0 633.9L1752.0 634.7L1746.0 635.4L1740.0 636.3L1734.0 637.1L1728.0 638.1L1722.0 639.3L1716.0 640.7L1710.0 642.2L1704.0 643.9L1698.0 645.8L1692.0 647.8L1686.0 650.1L1680.0 652.5L1674.0 655.1L1668.0 657.9L1662.0 660.9L1656.0 664.2L1650.0 667.7L1644.0 671.5L1638.0 675.5L1632.0 679.7L1626.0 684.1L1620.0 688.4L1614.0 692.8L1608.0 697.1L1602.0 701.4L1596.0 705.6L1590.0 709.9L1584.0 714.3L1578.0 718.5L1572.0 722.5L1566.0 726.4L1560.0 730.3L1559.0 731.0L1556.0 732.9L1554.0 734.2L1553.0 734.8L1550.0 736.7L1548.0 738.1L1547.0 738.9L1544.0 741.4L1542.0 743.3L1541.0 744.5L1538.0 748.7L1536.0 752.0L1535.0 753.8L1532.0 759.0L1530.0 762.4L1529.0 764.0L1526.0 768.2L1524.0 770.8L1523.0 772.1L1520.0 775.8L1518.0 778.2L1517.0 779.5L1514.0 783.4L1512.0 786.2L1511.0 787.7L1508.0 792.5L1506.0 795.9L1505.0 797.6L1502.0 803.1L1500.0 806.7L1499.0 808.6L1496.0 814.1L1494.0 817.7L1493.0 819.6L1490.0 825.1L1488.0 828.8L1487.0 830.7L1484.0 836.3L1482.0 839.9L1481.0 841.8L1478.0 847.1L1476.0 850.6L1475.0 852.3L1472.0 857.4L1470.0 860.7L1469.0 862.4L1466.0 867.3L1464.0 870.5L1463.0 872.1L1460.0 876.8L1458.0 879.8L1457.0 881.4L1454.0 886.0L1452.0 889.0L1451.0 890.4L1448.0 894.7L1446.0 897.4L1445.0 898.7L1442.0 902.4L1440.0 904.7L1439.0 905.8L1436.0 909.1L1434.0 911.1L1433.0 912.1L1430.0 915.0L1428.0 916.9L1427.0 917.8L1424.0 920.6L1422.0 922.6L1421.0 923.6L1418.0 926.3L1416.0 927.8L1415.0 928.4L1412.0 929.5L1410.0 930.2L1409.0 930.5L1406.0 931.4L1404.0 931.9L1403.0 932.1L1400.0 932.5L1398.0 932.7L1397.0 932.7L1394.0 932.2L1392.0 931.8L1391.0 931.5L1388.0 930.6L1386.0 929.9L1385.0 929.6L1382.0 928.4L1380.0 927.6L1379.0 927.1L1376.0 925.3L1374.0 924.0L1373.0 923.3L1370.0 921.1L1368.0 919.6L1367.0 918.8L1364.0 916.7L1362.0 915.3L1361.0 914.6L1358.0 912.5L1356.0 911.0L1355.0 910.3L1352.0 908.1L1350.0 906.7L1349.0 905.9L1346.0 903.8L1344.0 902.4L1343.0 901.7L1340.0 899.7L1338.0 898.3L1332.0 894.1L1326.0 890.0L1320.0 886.0L1314.0 882.2L1308.0 878.7L1302.0 875.5L1296.0 872.5L1290.0 869.6L1284.0 866.8L1278.0 864.2L1272.0 861.8L1266.0 859.4L1260.0 857.2L1254.0 855.1L1248.0 853.2L1242.0 851.2L1236.0 849.4L1230.0 847.6L1224.0 845.9L1218.0 844.3L1212.0 842.7L1206.0 841.1L1200.0 839.7L1194.0 838.3L1188.0 837.0L1182.0 835.8L1176.0 834.6L1170.0 833.4L1164.0 832.3L1158.0 831.3L1152.0 830.3L1146.0 829.3L1140.0 828.3L1134.0 827.4L1128.0 826.6L1122.0 825.7L1116.0 824.9L1110.0 824.1L1104.0 823.3L1098.0 822.5L1092.0 821.7L1086.0 821.0L1080.0 820.3L1074.0 819.5L1068.0 818.8L1062.0 818.1L1056.0 817.4L1050.0 816.7L1044.0 815.9L1038.0 815.2L1032.0 814.5L1026.0 813.8L1028.0 808.6L1030.0 805.8L1032.0 803.2L1034.0 800.8L1036.0 798.5L1038.0 796.4L1040.0 794.6L1042.0 792.9L1044.0 791.4L1046.0 789.9L1048.0 788.6L1050.0 787.3L1052.0 786.1L1054.0 784.9L1056.0 783.8L1058.0 782.7L1060.0 781.7L1062.0 780.7L1064.0 779.7L1066.0 778.8L1068.0 777.9L1074.0 775.2L1080.0 772.6L1086.0 770.1L1092.0 767.6L1098.0 765.3L1104.0 762.9L1110.0 760.8L1116.0 758.8L1122.0 757.0L1128.0 755.2L1134.0 753.4L1140.0 751.5L1146.0 749.6L1152.0 747.8L1158.0 745.9L1164.0 744.1L1170.0 742.2L1176.0 740.4L1182.0 738.6L1188.0 736.8L1194.0 735.0L1198.0 733.8" stroke="#6950a1" stroke-width="8.0"/>
<path d="M1700.0 641.9L1707.0 639.7L1714.0 637.6L1721.0 635.8L1728.0 634.3L1735.0 633.0L1742.0 632.0L1749.0 630.9L1756.0 630.0L1763.0 629.0L1770.0 628.2L1777.0 627.3L1784.0 626.5L1791.0 625.8L1798.0 625.1L1805.0 624.5L1812.0 624.0L1819.0 623.3L1826.0 622.7L1833.0 621.9L1840.0 621.1L1847.0 620.2L1854.0 619.3L1861.0 618.4L1868.0 617.5L1875.0 616.4L1882.0 615.3L1889.0 614.2L1896.0 613.3L1903.0 612.6L1910.0 612.0L1917.0 611.5L1924.0 611.0L1931.0 610.5L1938.0 610.0L1945.0 609.5L1952.0 608.8L1959.0 608.1L1966.0 607.2L1973.0 606.2L1980.0 605.2L1987.0 604.2L1994.0 603.2L2001.0 602.1L2008.0 601.0L2015.0 599.9L2022.0 598.6L2029.0 597.3L2036.0 595.7L2043.0 594.1L2050.0 592.4L2057.0 590.8L2064.0 589.2L2071.0 587.7L2078.0 586.3L2085.0 584.6L2092.0 582.9L2099.0 581.2L2106.0 579.4L2113.0 577.7L2120.0 576.0L2127.0 574.5L2134.0 572.9L2141.0 571.2L2148.0 569.0L2155.0 566.3L2162.0 563.3L2169.0 560.0L2176.0 556.6L2183.0 552.7L2190.0 548.6L2197.0 543.9L2204.0 538.3L2211.0 531.1L2211.0 541.3L2204.0 546.7L2197.0 550.8L2190.0 554.1L2183.0 557.8L2176.0 561.5L2169.0 564.8L2162.0 568.0L2155.0 570.9L2148.0 573.5L2141.0 575.6L2134.0 577.4L2127.0 578.9L2120.0 580.5L2113.0 582.1L2106.0 583.8L2099.0 585.5L2092.0 587.2L2085.0 588.9L2078.0 590.5L2071.0 591.8L2064.0 593.1L2057.0 594.5L2050.0 596.0L2043.0 597.6L2036.0 599.1L2029.0 600.5L2022.0 601.7L2015.0 602.8L2008.0 603.9L2001.0 604.9L1994.0 605.8L1987.0 606.8L1980.0 607.7L1973.0 608.6L1966.0 609.5L1959.0 610.3L1952.0 611.0L1945.0 611.6L1938.0 612.1L1931.0 612.5L1924.0 612.9L1917.0 613.4L1910.0 613.9L1903.0 614.4L1896.0 615.1L1889.0 615.9L1882.0 616.9L1875.0 617.9L1868.0 618.9L1861.0 619.8L1854.0 620.6L1847.0 621.5L1840.0 622.3L1833.0 623.0L1826.0 623.7L1819.0 624.4L1812.0 625.0L1805.0 625.5L1798.0 626.1L1791.0 626.7L1784.0 627.4L1777.0 628.1L1770.0 628.9L1763.0 629.7L1756.0 630.5L1749.0 631.4L1742.0 632.4L1735.0 633.4L1728.0 634.5L1721.0 635.9L1714.0 637.6L1707.0 639.7L1700.0 641.9Z" fill="#ec008c" stroke="none"/>
<path d="M1026.0 824.9L1032.0 814.8L1038.0 806.6L1044.0 800.7L1050.0 795.9L1056.0 791.8L1062.0 788.3L1068.0 785.1L1074.0 782.0L1080.0 779.0L1086.0 776.2L1092.0 773.5L1098.0 770.8L1104.0 768.2L1110.0 765.8L1116.0 763.7L1122.0 761.8L1128.0 759.8L1134.0 757.8L1140.0 755.7L1146.0 753.7L1152.0 751.6L1158.0 749.6L1164.0 747.6L1170.0 745.6L1176.0 743.7L1182.0 741.7L1188.0 739.8L1198.0 736.5L1198.0 736.5L1188.0 739.8L1182.0 741.7L1176.0 743.7L1170.0 745.6L1164.0 747.6L1158.0 749.7L1152.0 751.8L1146.0 754.0L1140.0 756.1L1134.0 758.3L1128.0 760.4L1122.0 762.5L1116.0 764.5L1110.0 766.7L1104.0 769.3L1098.0 772.1L1092.0 775.0L1086.0 778.0L1080.0 781.0L1074.0 784.3L1068.0 787.6L1062.0 791.2L1056.0 795.2L1050.0 799.7L1044.0 805.1L1038.0 811.9L1032.0 821.3L1026.0 833.1Z" fill="#ec008c" stroke="none"/>
<path d="M1116.0 719.3L1122.0 717.7L1128.0 716.0L1134.0 714.3L1140.0 712.6L1146.0 711.1L1152.0 709.6L1158.0 708.1L1164.0 706.6L1170.0 705.1L1176.0 703.8L1182.0 702.5L1188.0 701.4L1194.0 700.5L1200.0 699.7L1206.0 698.8L1212.0 698.1L1218.0 697.4L1224.0 696.8L1230.0 696.2L1236.0 695.6L1242.0 694.9L1248.0 694.1L1254.0 693.2L1260.0 692.2L1266.0 691.1L1272.0 690.0L1278.0 688.9L1284.0 687.7L1290.0 686.6L1296.0 685.5L1302.0 684.4L1308.0 683.2L1314.0 682.1L1320.0 680.9L1326.0 679.8L1332.0 678.7L1338.0 677.6L1344.0 676.5L1350.0 675.4L1356.0 674.3L1362.0 673.3L1368.0 672.2L1374.0 671.2L1380.0 670.2L1386.0 669.1L1392.0 668.1L1398.0 667.1L1404.0 666.1L1410.0 665.1L1416.0 664.2L1422.0 663.3L1428.0 662.4L1434.0 661.5L1440.0 660.7L1446.0 659.9L1452.0 659.1L1458.0 658.4L1464.0 657.8L1470.0 657.1L1476.0 656.5L1482.0 655.9L1488.0 655.3L1494.0 654.9L1500.0 654.6L1506.0 654.5L1512.0 654.5L1518.0 654.5L1524.0 654.6L1530.0 654.4L1536.0 654.0L1540.0 653.7L1542.0 653.5L1544.0 653.4L1546.0 653.3L1548.0 653.2L1550.0 653.0L1552.0 652.9L1554.0 652.7L1556.0 652.5L1558.0 652.1L1560.0 651.8L1562.0 651.4L1564.0 650.9L1566.0 650.5L1568.0 650.0L1570.0 649.4L1572.0 648.8L1574.0 648.1L1576.0 647.4L1578.0 646.6L1580.0 645.7L1582.0 644.7L1584.0 643.6L1586.0 642.4L1588.0 641.1L1590.0 639.7L1592.0 638.2L1594.0 636.6L1596.0 634.8L1598.0 632.9L1600.0 630.8L1602.0 628.5L1604.0 626.2L1606.0 623.7L1608.0 621.1L1610.0 618.4L1612.0 615.4L1614.0 612.3L1616.0 608.9L1618.0 605.3L1620.0 601.5L1622.0 597.2L1624.0 592.6L1626.0 588.0L1628.0 583.5L1630.0 579.4L1632.0 575.1L1634.0 570.0L1636.0 563.3L1638.0 555.2L1640.0 546.5L1642.0 538.2L1644.0 530.4L1646.0 522.5L1648.0 514.3L1650.0 505.8L1652.0 496.9L1654.0 487.8L1656.0 478.5L1658.0 468.8L1660.0 459.2L1662.0 450.0L1664.0 441.1L1666.0 432.2L1668.0 423.2L1670.0 414.1L1672.0 403.9L1674.0 392.3L1676.0 379.8L1678.0 367.1L1680.0 354.7L1682.0 341.5L1684.0 328.5L1686.0 316.9L1688.0 307.6L1690.0 300.0L1692.0 292.9L1694.0 285.4L1696.0 277.9L1698.0 270.7L1700.0 263.7L1702.0 259.9L1707.5 249.2L1714.0 257.0L1716.0 259.6L1718.0 264.1L1720.0 269.1L1722.0 273.9L1724.0 278.5L1726.0 283.2L1728.0 287.8L1730.0 292.6L1732.0 297.5L1734.0 302.4L1736.0 307.4L1738.0 312.3L1740.0 317.1L1742.0 321.8L1744.0 326.6L1746.0 331.6L1748.0 336.7L1750.0 341.8L1752.0 346.6L1754.0 350.9L1756.0 355.0L1758.0 358.8L1760.0 362.5L1762.0 366.2L1764.0 369.7L1766.0 373.1L1768.0 376.3L1770.0 379.4L1772.0 382.5L1774.0 385.5L1776.0 388.5L1778.0 391.4L1780.0 394.3L1782.0 397.1L1784.0 399.9L1786.0 402.6L1788.0 405.3L1790.0 407.8L1792.0 410.3L1794.0 412.6L1796.0 414.9L1798.0 417.1L1800.0 419.1L1806.0 424.8L1812.0 430.0L1818.0 434.7L1824.0 439.2L1830.0 443.4L1836.0 447.5L1842.0 451.3L1848.0 454.9L1854.0 458.4L1860.0 461.8L1866.0 465.2L1872.0 468.7L1878.0 472.1L1884.0 475.5L1890.0 478.6L1896.0 481.4L1902.0 483.9L1908.0 486.3L1914.0 488.5L1920.0 490.6L1926.0 492.6L1932.0 494.6L1938.0 496.7L1944.0 498.7L1950.0 500.6L1956.0 502.3L1962.0 503.8L1968.0 505.1L1974.0 506.2L1980.0 507.3L1986.0 508.4L1992.0 509.5L1998.0 510.7L2004.0 511.9L2010.0 513.1L2016.0 514.3L2022.0 515.5L2028.0 516.7L2034.0 517.8L2040.0 518.9L2046.0 520.0L2052.0 520.9L2058.0 521.8L2064.0 522.7L2070.0 523.6L2076.0 524.5L2082.0 525.3L2088.0 526.1L2094.0 526.8L2100.0 527.5L2106.0 528.1L2112.0 528.7L2118.0 529.2L2124.0 529.7L2130.0 530.1L2136.0 530.5L2142.0 530.9L2148.0 531.3L2154.0 531.6L2160.0 532.0L2166.0 532.3L2172.0 532.6M2211.0 531.1L2209.0 533.3L2208.0 534.4L2206.0 536.4L2203.0 539.2L2202.0 540.1L2200.0 541.7L2197.0 543.9L2196.0 544.6L2194.0 546.0L2191.0 547.9L2190.0 548.6L2188.0 549.8L2185.0 551.6L2184.0 552.2L2182.0 553.3L2179.0 555.0L2178.0 555.5L2176.0 556.6L2173.0 558.1L2172.0 558.6L2170.0 559.5L2166.0 561.4L2160.0 564.2L2154.0 566.7L2148.0 569.0L2142.0 570.9L2136.0 572.5L2130.0 573.8L2124.0 575.1L2118.0 576.5L2112.0 577.9L2106.0 579.4L2100.0 580.9L2094.0 582.4L2088.0 583.9L2082.0 585.4L2076.0 586.7L2070.0 588.0L2064.0 589.2L2058.0 590.5L2052.0 591.9L2046.0 593.4L2040.0 594.8L2034.0 596.2L2028.0 597.5L2022.0 598.6L2016.0 599.7L2010.0 600.7L2004.0 601.7L1998.0 602.6L1992.0 603.5L1986.0 604.4L1980.0 605.2L1974.0 606.1L1968.0 606.9L1962.0 607.7L1956.0 608.4L1950.0 609.0L1944.0 609.6L1938.0 610.0L1932.0 610.4L1926.0 610.9L1920.0 611.3L1914.0 611.7L1908.0 612.2L1902.0 612.7L1896.0 613.3L1890.0 614.1L1884.0 615.0L1878.0 615.9L1872.0 616.8L1866.0 617.8L1860.0 618.6L1854.0 619.3L1848.0 620.1L1842.0 620.8L1836.0 621.6L1830.0 622.2L1824.0 622.9L1818.0 623.4L1812.0 624.0L1806.0 624.5L1800.0 625.0L1794.0 625.5L1788.0 626.1L1782.0 626.8L1776.0 627.4L1770.0 628.2L1764.0 628.9L1758.0 629.7L1752.0 630.5L1746.0 631.4L1740.0 632.3L1734.0 633.2L1728.0 634.3L1722.0 635.6L1716.0 637.1L1710.0 638.8L1704.0 640.6L1698.0 642.6L1692.0 644.9L1686.0 647.4L1680.0 649.8L1674.0 652.3L1668.0 655.0L1662.0 657.7L1656.0 660.6L1650.0 663.7L1644.0 667.1L1638.0 670.7L1632.0 674.7L1626.0 678.9L1620.0 683.3L1614.0 687.8L1608.0 692.6L1602.0 697.3L1596.0 702.0L1590.0 706.6L1584.0 711.3L1578.0 716.1L1572.0 720.8L1566.0 725.2L1560.0 729.4L1559.0 730.1L1556.0 732.2L1554.0 733.7L1553.0 734.4L1550.0 736.6L1548.0 738.0L1547.0 738.7L1544.0 740.8L1542.0 742.3L1541.0 743.2L1538.0 745.9L1536.0 748.1L1535.0 749.4L1532.0 754.2L1530.0 757.9L1529.0 759.8L1526.0 765.5L1524.0 769.1L1523.0 770.8L1520.0 775.4L1518.0 778.2L1517.0 779.5L1514.0 783.6L1512.0 786.3L1511.0 787.7L1508.0 792.1L1506.0 795.3L1505.0 797.0L1502.0 802.3L1500.0 806.2L1499.0 808.1L1496.0 814.1L1494.0 818.2L1493.0 820.2L1490.0 826.2L1488.0 830.2L1487.0 832.2L1484.0 838.3L1482.0 842.4L1481.0 844.5L1478.0 850.5L1476.0 854.5L1475.0 856.5L1472.0 862.3L1470.0 866.0L1469.0 867.9L1466.0 873.4L1464.0 877.1L1463.0 878.9L1460.0 884.2L1458.0 887.6L1457.0 889.4L1454.0 894.4L1452.0 897.8L1451.0 899.5L1448.0 904.4L1446.0 907.6L1445.0 909.2L1442.0 913.7L1440.0 916.5L1439.0 917.8L1436.0 921.6L1434.0 924.0L1433.0 925.2L1430.0 928.5L1428.0 930.7L1427.0 931.8L1424.0 934.9L1422.0 936.9L1421.0 937.9L1418.0 941.2L1416.0 943.2L1415.0 944.2L1412.0 946.5L1410.0 947.4L1409.0 947.8L1406.0 948.9L1404.0 949.5L1403.0 949.8L1400.0 950.5L1398.0 950.9L1397.0 951.0L1394.0 951.1L1392.0 950.8L1391.0 950.6L1388.0 949.8L1386.0 949.2L1385.0 948.9L1382.0 947.8L1380.0 947.0L1379.0 946.6L1376.0 945.1L1374.0 943.8L1373.0 943.2L1370.0 941.0L1368.0 939.5L1367.0 938.7L1364.0 936.4L1362.0 934.9L1361.0 934.1L1358.0 931.9L1356.0 930.5L1355.0 929.7L1352.0 927.4L1350.0 925.9L1349.0 925.1L1346.0 922.9L1344.0 921.4L1343.0 920.7L1340.0 918.5L1338.0 917.0L1332.0 912.7L1326.0 908.3L1320.0 904.1L1314.0 900.1L1308.0 896.3L1302.0 892.9L1296.0 889.6L1290.0 886.5L1284.0 883.6L1278.0 880.8L1272.0 878.2L1266.0 875.7L1260.0 873.4L1254.0 871.2L1248.0 869.1L1242.0 867.1L1236.0 865.1L1230.0 863.3L1224.0 861.4L1218.0 859.7L1212.0 858.0L1206.0 856.4L1200.0 854.8L1194.0 853.4L1188.0 852.0L1182.0 850.7L1176.0 849.4L1170.0 848.2L1164.0 847.1L1158.0 846.0L1152.0 844.9L1146.0 843.9L1140.0 842.9L1134.0 841.9L1128.0 841.0L1122.0 840.1L1116.0 839.3L1110.0 838.4L1104.0 837.6L1098.0 836.7L1092.0 835.9L1086.0 835.2L1080.0 834.4L1074.0 833.6L1068.0 832.9L1062.0 832.1L1056.0 831.4L1050.0 830.6L1044.0 829.9L1038.0 829.2L1032.0 828.4L1026.0 827.7L1028.0 821.3L1030.0 817.9L1032.0 814.8L1034.0 811.9L1036.0 809.1L1038.0 806.6L1040.0 804.4L1042.0 802.5L1044.0 800.7L1046.0 799.0L1048.0 797.4L1050.0 795.9L1052.0 794.5L1054.0 793.1L1056.0 791.8L1058.0 790.6L1060.0 789.4L1062.0 788.3L1064.0 787.2L1066.0 786.1L1068.0 785.1L1074.0 782.0L1080.0 779.0L1086.0 776.2L1092.0 773.5L1098.0 770.8L1104.0 768.2L1110.0 765.8L1116.0 763.7L1122.0 761.8L1128.0 759.8L1134.0 757.8L1140.0 755.7L1146.0 753.7L1152.0 751.6L1158.0 749.6L1164.0 747.6L1170.0 745.6L1176.0 743.7L1182.0 741.7L1188.0 739.8L1194.0 737.8L1198.0 736.5" stroke="#ec008c" stroke-width="8.0"/>
<path d="M1116.0 719.1L1122.0 717.2L1128.0 715.2L1134.0 713.3L1140.0 711.5L1146.0 709.7L1152.0 708.0L1158.0 706.4L1164.0 704.7L1170.0 703.1L1176.0 701.6L1182.0 700.2L1188.0 698.9L1194.0 697.9L1200.0 697.0L1206.0 696.1L1212.0 695.3L1218.0 694.6L1224.0 694.0L1230.0 693.4L1236.0 692.7L1242.0 692.0L1248.0 691.2L1254.0 690.2L1260.0 689.2L1266.0 688.1L1272.0 686.9L1278.0 685.7L1284.0 684.5L1290.0 683.4L1296.0 682.2L1302.0 681.0L1308.0 679.8L1314.0 678.6L1320.0 677.4L1326.0 676.2L1332.0 675.1L1338.0 673.9L1344.0 672.8L1350.0 671.7L1356.0 670.5L1362.0 669.4L1368.0 668.4L1374.0 667.3L1380.0 666.2L1386.0 665.1L1392.0 664.1L1398.0 663.0L1404.0 661.9L1410.0 660.9L1416.0 659.9L1422.0 659.0L1428.0 658.1L1434.0 657.2L1440.0 656.3L1446.0 655.5L1452.0 654.7L1458.0 654.0L1464.0 653.3L1470.0 652.6L1476.0 652.0L1482.0 651.3L1488.0 650.7L1494.0 650.3L1500.0 650.0L1506.0 649.8L1512.0 649.6L1518.0 649.2L1524.0 648.8L1530.0 648.5L1536.0 648.1L1540.0 647.6L1542.0 647.3L1544.0 647.0L1546.0 646.6L1548.0 646.2L1550.0 645.8L1552.0 645.3L1554.0 644.8L1556.0 644.3L1558.0 643.7L1560.0 643.1L1562.0 642.4L1564.0 641.6L1566.0 640.8L1568.0 639.9L1570.0 638.9L1572.0 637.8L1574.0 636.6L1576.0 635.4L1578.0 634.0L1580.0 632.6L1582.0 631.2L1584.0 629.5L1586.0 627.8L1588.0 625.8L1590.0 623.8L1592.0 621.6L1594.0 619.4L1596.0 617.0L1598.0 614.6L1600.0 612.1L1602.0 609.3L1604.0 606.4L1606.0 603.3L1608.0 600.1L1610.0 596.6L1612.0 593.0L1614.0 588.9L1616.0 584.6L1618.0 580.2L1620.0 575.9L1622.0 571.9L1624.0 568.0L1626.0 563.8L1628.0 558.7L1630.0 552.1L1632.0 544.4L1634.0 536.2L1636.0 528.2L1638.0 520.8L1640.0 513.3L1642.0 505.8L1644.0 498.0L1646.0 489.8L1648.0 481.4L1650.0 472.8L1652.0 464.0L1654.0 454.9L1656.0 445.8L1658.0 436.9L1660.0 428.3L1662.0 419.9L1664.0 411.6L1666.0 403.0L1668.0 394.5L1670.0 385.0L1672.0 374.3L1674.0 362.7L1676.0 350.7L1678.0 338.8L1680.0 327.0L1682.0 314.5L1684.0 302.2L1686.0 291.1L1688.0 281.9L1690.0 274.4L1692.0 267.7L1694.0 260.8L1696.0 253.7L1698.0 246.7L1700.0 239.8L1702.0 233.2L1704.0 229.6L1710.5 217.7L1716.0 224.6L1718.0 227.1L1720.0 230.8L1722.0 235.9L1724.0 241.2L1726.0 246.1L1728.0 251.0L1730.0 255.8L1732.0 260.8L1734.0 265.9L1736.0 271.1L1738.0 276.3L1740.0 281.5L1742.0 286.7L1744.0 291.7L1746.0 296.7L1748.0 301.8L1750.0 307.2L1752.0 312.6L1754.0 317.9L1756.0 322.8L1758.0 327.3L1760.0 331.6L1762.0 335.6L1764.0 339.5L1766.0 343.3L1768.0 347.0L1770.0 350.6L1772.0 354.0L1774.0 357.2L1776.0 360.5L1778.0 363.7L1780.0 366.8L1782.0 369.9L1784.0 373.0L1786.0 376.0L1788.0 378.9L1790.0 381.8L1792.0 384.6L1794.0 387.3L1796.0 389.9L1798.0 392.4L1800.0 394.8L1806.0 401.3L1812.0 407.2L1818.0 412.5L1824.0 417.4L1830.0 422.1L1836.0 426.6L1842.0 430.8L1848.0 434.8L1854.0 438.6L1860.0 442.4L1866.0 446.0L1872.0 449.7L1878.0 453.5L1884.0 457.2L1890.0 460.7L1896.0 463.9L1902.0 466.8L1908.0 469.4L1914.0 471.8L1920.0 474.1L1926.0 476.3L1932.0 478.5L1938.0 480.7L1944.0 482.9L1950.0 485.0L1956.0 487.0L1962.0 488.7L1968.0 490.2L1974.0 491.5L1980.0 492.7L1986.0 493.9L1992.0 495.1L1998.0 496.3L2004.0 497.6L2010.0 498.9L2016.0 500.2L2022.0 501.5L2028.0 502.8L2034.0 504.0L2040.0 505.2L2046.0 506.4L2052.0 507.5L2058.0 508.5L2064.0 509.5L2070.0 510.4L2076.0 511.4L2082.0 512.3L2088.0 513.1L2094.0 514.0L2100.0 514.7L2106.0 515.5L2112.0 516.1L2118.0 516.7L2124.0 517.2L2130.0 517.7L2136.0 518.2L2142.0 518.6L2148.0 519.0L2154.0 519.4L2160.0 519.8L2166.0 520.1L2172.0 520.5L2178.0 520.8L2184.0 521.2L2190.0 521.6L2196.0 521.9L2202.0 522.1L2208.0 522.3L2209.0 522.3L2211.0 520.6L2209.0 523.1L2208.0 524.3L2206.0 526.5L2203.0 529.6L2202.0 530.5L2200.0 532.3L2197.0 534.8L2196.0 535.5L2194.0 537.0L2191.0 539.2L2190.0 539.9L2188.0 541.2L2185.0 543.1L2184.0 543.7L2182.0 544.9L2179.0 546.6L2178.0 547.2L2176.0 548.3L2173.0 549.9L2172.0 550.4L2170.0 551.4L2166.0 553.3L2160.0 556.2L2154.0 558.9L2148.0 561.2L2142.0 563.2L2136.0 564.8L2130.0 566.2L2124.0 567.5L2118.0 568.9L2112.0 570.3L2106.0 571.9L2100.0 573.4L2094.0 575.0L2088.0 576.5L2082.0 578.0L2076.0 579.4L2070.0 580.8L2064.0 582.1L2058.0 583.6L2052.0 585.1L2046.0 586.6L2040.0 588.2L2034.0 589.7L2028.0 591.1L2022.0 592.3L2016.0 593.5L2010.0 594.6L2004.0 595.6L1998.0 596.6L1992.0 597.6L1986.0 598.5L1980.0 599.5L1974.0 600.4L1968.0 601.3L1962.0 602.2L1956.0 602.9L1950.0 603.6L1944.0 604.2L1938.0 604.7L1932.0 605.1L1926.0 605.6L1920.0 606.0L1914.0 606.5L1908.0 607.0L1902.0 607.6L1896.0 608.3L1890.0 609.1L1884.0 610.0L1878.0 611.0L1872.0 612.0L1866.0 613.0L1860.0 613.8L1854.0 614.6L1848.0 615.5L1842.0 616.2L1836.0 617.0L1830.0 617.7L1824.0 618.4L1818.0 619.0L1812.0 619.5L1806.0 620.0L1800.0 620.6L1794.0 621.2L1788.0 621.8L1782.0 622.5L1776.0 623.2L1770.0 624.0L1764.0 624.8L1758.0 625.6L1752.0 626.5L1746.0 627.4L1740.0 628.3L1734.0 629.4L1728.0 630.5L1722.0 631.9L1716.0 633.5L1710.0 635.3L1704.0 637.3L1698.0 639.5L1692.0 642.0L1686.0 644.7L1680.0 647.4L1674.0 650.4L1668.0 653.6L1662.0 656.9L1656.0 660.3L1650.0 664.0L1644.0 667.9L1638.0 672.0L1632.0 676.4L1626.0 680.9L1620.0 685.6L1614.0 690.3L1608.0 695.2L1602.0 700.0L1596.0 704.7L1590.0 709.5L1584.0 714.4L1578.0 719.2L1572.0 724.0L1566.0 728.4L1560.0 732.7L1559.0 733.5L1556.0 735.6L1554.0 737.2L1553.0 737.9L1550.0 740.1L1548.0 741.5L1547.0 742.2L1544.0 744.4L1542.0 746.0L1541.0 746.9L1538.0 749.8L1536.0 752.1L1535.0 753.5L1532.0 758.4L1530.0 762.2L1529.0 764.2L1526.0 770.1L1524.0 773.8L1523.0 775.5L1520.0 780.2L1518.0 783.1L1517.0 784.5L1514.0 788.6L1512.0 791.4L1511.0 792.8L1508.0 797.2L1506.0 800.4L1505.0 802.1L1502.0 807.5L1500.0 811.3L1499.0 813.3L1496.0 819.4L1494.0 823.5L1493.0 825.6L1490.0 831.8L1488.0 835.9L1487.0 837.9L1484.0 844.1L1482.0 848.3L1481.0 850.4L1478.0 856.6L1476.0 860.8L1475.0 862.8L1472.0 868.8L1470.0 872.7L1469.0 874.7L1466.0 880.4L1464.0 884.1L1463.0 886.0L1460.0 891.5L1458.0 895.1L1457.0 896.9L1454.0 902.2L1452.0 905.6L1451.0 907.3L1448.0 912.5L1446.0 915.9L1445.0 917.5L1442.0 922.4L1440.0 925.5L1439.0 926.9L1436.0 931.1L1434.0 933.8L1433.0 935.0L1430.0 938.7L1428.0 941.0L1427.0 942.1L1424.0 945.4L1422.0 947.5L1421.0 948.6L1418.0 951.7L1416.0 953.9L1415.0 955.0L1412.0 958.2L1410.0 960.0L1409.0 960.7L1406.0 962.2L1404.0 963.0L1403.0 963.4L1400.0 964.4L1398.0 965.0L1397.0 965.3L1394.0 965.8L1392.0 966.1L1391.0 966.1L1388.0 965.8L1386.0 965.4L1385.0 965.1L1382.0 964.2L1380.0 963.5L1379.0 963.2L1376.0 961.9L1374.0 961.1L1373.0 960.5L1370.0 958.7L1368.0 957.3L1367.0 956.6L1364.0 954.2L1362.0 952.6L1361.0 951.8L1358.0 949.4L1356.0 947.9L1355.0 947.2L1352.0 944.9L1350.0 943.3L1349.0 942.5L1346.0 940.2L1344.0 938.6L1343.0 937.8L1340.0 935.5L1338.0 934.0L1332.0 929.5L1326.0 925.0L1320.0 920.6L1314.0 916.3L1308.0 912.2L1302.0 908.5L1296.0 905.0L1290.0 901.8L1284.0 898.6L1278.0 895.7L1272.0 892.9L1266.0 890.3L1260.0 887.8L1254.0 885.5L1248.0 883.2L1242.0 881.1L1236.0 879.1L1230.0 877.1L1224.0 875.2L1218.0 873.4L1212.0 871.6L1206.0 869.9L1200.0 868.3L1194.0 866.7L1188.0 865.3L1182.0 863.9L1176.0 862.6L1170.0 861.3L1164.0 860.1L1158.0 859.0L1152.0 857.8L1146.0 856.8L1140.0 855.7L1134.0 854.8L1128.0 853.8L1122.0 852.9L1116.0 852.0L1110.0 851.1L1104.0 850.2L1098.0 849.4L1092.0 848.5L1086.0 847.7L1080.0 846.9L1074.0 846.2L1068.0 845.4L1062.0 844.6L1056.0 843.8L1050.0 843.0L1044.0 842.3L1038.0 841.5L1032.0 840.8L1026.0 840.0L1028.0 832.5L1030.0 828.5L1032.0 824.9L1034.0 821.5L1036.0 818.4L1038.0 815.5L1040.0 813.0L1042.0 810.8L1044.0 808.7L1046.0 806.8L1048.0 805.0L1050.0 803.3L1052.0 801.7L1054.0 800.2L1056.0 798.8L1058.0 797.4L1060.0 796.1L1062.0 794.8L1064.0 793.6L1066.0 792.4L1068.0 791.3L1074.0 787.9L1080.0 784.7L1086.0 781.6L1092.0 778.6L1098.0 775.7L1104.0 772.9L1110.0 770.3L1116.0 768.1L1122.0 766.1L1128.0 764.0L1134.0 761.9L1140.0 759.8L1146.0 757.6L1152.0 755.4L1158.0 753.3L1164.0 751.2L1170.0 749.1L1176.0 747.1L1182.0 745.0L1188.0 743.0L1194.0 741.0L1198.0 739.6" stroke="#ffffff" stroke-width="8.0"/>
<path d="M1116.0 718.8L1122.0 716.6L1128.0 714.4L1134.0 712.2L1140.0 710.1L1146.0 708.1L1152.0 706.3L1158.0 704.4L1164.0 702.6L1170.0 700.8L1176.0 699.1L1182.0 697.5L1188.0 696.1L1194.0 694.9L1200.0 693.9L1206.0 693.0L1212.0 692.2L1218.0 691.5L1224.0 690.8L1230.0 690.2L1236.0 689.5L1242.0 688.7L1248.0 687.9L1254.0 686.9L1260.0 685.8L1266.0 684.7L1272.0 683.5L1278.0 682.3L1284.0 681.0L1290.0 679.8L1296.0 678.6L1302.0 677.4L1308.0 676.2L1314.0 674.9L1320.0 673.7L1326.0 672.5L1332.0 671.3L1338.0 670.1L1344.0 668.9L1350.0 667.7L1356.0 666.6L1362.0 665.5L1368.0 664.3L1374.0 663.2L1380.0 662.1L1386.0 661.0L1392.0 659.9L1398.0 658.8L1404.0 657.7L1410.0 656.7L1416.0 655.7L1422.0 654.7L1428.0 653.8L1434.0 652.8L1440.0 651.9L1446.0 651.1L1452.0 650.3L1458.0 649.5L1464.0 648.8L1470.0 648.1L1476.0 647.4L1482.0 646.7L1488.0 646.0L1494.0 645.3L1500.0 644.7L1506.0 644.2L1512.0 643.6L1518.0 642.9L1524.0 641.8L1530.0 640.5L1536.0 639.1L1540.0 637.9L1542.0 637.3L1544.0 636.6L1546.0 635.9L1548.0 635.0L1550.0 634.1L1552.0 633.2L1554.0 632.2L1556.0 631.1L1558.0 629.9L1560.0 628.7L1562.0 627.5L1564.0 626.1L1566.0 624.7L1568.0 623.2L1570.0 621.5L1572.0 619.8L1574.0 617.9L1576.0 615.9L1578.0 613.9L1580.0 611.7L1582.0 609.5L1584.0 607.3L1586.0 605.0L1588.0 602.5L1590.0 599.8L1592.0 597.0L1594.0 594.0L1596.0 591.0L1598.0 587.8L1600.0 584.4L1602.0 580.6L1604.0 576.6L1606.0 572.6L1608.0 568.5L1610.0 564.7L1612.0 561.1L1614.0 557.5L1616.0 553.6L1618.0 548.9L1620.0 543.1L1622.0 536.3L1624.0 528.9L1626.0 521.3L1628.0 514.1L1630.0 507.3L1632.0 500.4L1634.0 493.5L1636.0 486.4L1638.0 479.0L1640.0 471.4L1642.0 463.5L1644.0 455.5L1646.0 447.4L1648.0 439.1L1650.0 430.7L1652.0 422.4L1654.0 414.3L1656.0 406.6L1658.0 398.9L1660.0 391.1L1662.0 383.3L1664.0 375.4L1666.0 367.0L1668.0 357.6L1670.0 347.3L1672.0 336.4L1674.0 325.4L1676.0 314.4L1678.0 303.5L1680.0 292.1L1682.0 280.6L1684.0 269.8L1686.0 260.2L1688.0 252.3L1690.0 245.5L1692.0 239.3L1694.0 233.1L1696.0 226.5L1698.0 220.0L1700.0 213.6L1702.0 207.3L1704.0 201.7L1706.0 198.4L1708.0 195.0L1713.5 185.8L1720.0 194.3L1722.0 196.9L1724.0 201.7L1726.0 207.2L1728.0 212.6L1730.0 217.6L1732.0 222.7L1734.0 227.8L1736.0 233.0L1738.0 238.3L1740.0 243.8L1742.0 249.3L1744.0 254.7L1746.0 260.0L1748.0 265.2L1750.0 270.5L1752.0 275.9L1754.0 281.5L1756.0 287.2L1758.0 292.7L1760.0 297.8L1762.0 302.5L1764.0 306.9L1766.0 311.2L1768.0 315.2L1770.0 319.2L1772.0 323.1L1774.0 326.9L1776.0 330.5L1778.0 333.9L1780.0 337.3L1782.0 340.7L1784.0 344.0L1786.0 347.3L1788.0 350.5L1790.0 353.7L1792.0 356.8L1794.0 359.8L1796.0 362.8L1798.0 365.7L1800.0 368.4L1806.0 376.1L1812.0 382.8L1818.0 388.9L1824.0 394.4L1830.0 399.6L1836.0 404.5L1842.0 409.3L1848.0 413.8L1854.0 418.0L1860.0 422.1L1866.0 426.1L1872.0 430.1L1878.0 434.1L1884.0 438.2L1890.0 442.1L1896.0 445.8L1902.0 449.1L1908.0 452.1L1914.0 454.8L1920.0 457.4L1926.0 459.8L1932.0 462.2L1938.0 464.5L1944.0 466.9L1950.0 469.2L1956.0 471.4L1962.0 473.4L1968.0 475.1L1974.0 476.6L1980.0 477.9L1986.0 479.2L1992.0 480.5L1998.0 481.8L2004.0 483.1L2010.0 484.5L2016.0 485.9L2022.0 487.3L2028.0 488.7L2034.0 490.1L2040.0 491.4L2046.0 492.7L2052.0 493.9L2058.0 495.0L2064.0 496.1L2070.0 497.1L2076.0 498.1L2082.0 499.1L2088.0 500.1L2094.0 501.0L2100.0 501.9L2106.0 502.7L2112.0 503.4L2118.0 504.1L2124.0 504.7L2130.0 505.3L2136.0 505.8L2142.0 506.3L2148.0 506.7L2154.0 507.1L2160.0 507.5L2166.0 507.9L2172.0 508.3L2178.0 508.7L2184.0 509.1L2190.0 509.5L2196.0 509.9L2206.0 510.0L2210.5 507.7L2211.8 504.6L2212.0 510.8L2210.5 515.4L2206.0 517.0L2203.0 520.1L2202.0 521.1L2200.0 522.9L2197.0 525.3L2196.0 526.1L2194.0 527.6L2191.0 529.7L2190.0 530.4L2188.0 531.7L2185.0 533.7L2184.0 534.3L2182.0 535.6L2179.0 537.4L2178.0 538.0L2176.0 539.1L2173.0 540.8L2172.0 541.3L2170.0 542.3L2166.0 544.4L2160.0 547.4L2154.0 550.2L2148.0 552.6L2142.0 554.7L2136.0 556.3L2130.0 557.7L2124.0 559.0L2118.0 560.4L2112.0 561.9L2106.0 563.5L2100.0 565.1L2094.0 566.7L2088.0 568.3L2082.0 569.9L2076.0 571.4L2070.0 572.9L2064.0 574.3L2058.0 575.9L2052.0 577.5L2046.0 579.3L2040.0 581.0L2034.0 582.6L2028.0 584.1L2022.0 585.5L2016.0 586.7L2010.0 587.9L2004.0 589.1L1998.0 590.1L1992.0 591.2L1986.0 592.2L1980.0 593.3L1974.0 594.3L1968.0 595.3L1962.0 596.2L1956.0 597.1L1950.0 597.8L1944.0 598.4L1938.0 599.0L1932.0 599.5L1926.0 600.0L1920.0 600.5L1914.0 601.0L1908.0 601.5L1902.0 602.2L1896.0 602.9L1890.0 603.7L1884.0 604.7L1878.0 605.8L1872.0 606.8L1866.0 607.8L1860.0 608.7L1854.0 609.6L1848.0 610.5L1842.0 611.3L1836.0 612.1L1830.0 612.8L1824.0 613.5L1818.0 614.1L1812.0 614.7L1806.0 615.2L1800.0 615.8L1794.0 616.4L1788.0 617.0L1782.0 617.8L1776.0 618.5L1770.0 619.3L1764.0 620.2L1758.0 621.1L1752.0 622.0L1746.0 623.0L1740.0 624.0L1734.0 625.1L1728.0 626.3L1722.0 627.8L1716.0 629.5L1710.0 631.5L1704.0 633.7L1698.0 636.0L1692.0 638.7L1686.0 641.6L1680.0 644.8L1674.0 648.2L1668.0 651.9L1662.0 655.7L1656.0 659.7L1650.0 663.9L1644.0 668.3L1638.0 672.9L1632.0 677.6L1626.0 682.4L1620.0 687.3L1614.0 692.2L1608.0 697.1L1602.0 702.0L1596.0 706.9L1590.0 711.8L1584.0 716.8L1578.0 721.8L1572.0 726.6L1566.0 731.1L1560.0 735.5L1559.0 736.2L1556.0 738.4L1554.0 740.0L1553.0 740.8L1550.0 743.0L1548.0 744.4L1547.0 745.1L1544.0 747.4L1542.0 749.0L1541.0 749.9L1538.0 752.8L1536.0 755.1L1535.0 756.4L1532.0 761.3L1530.0 765.1L1529.0 767.1L1526.0 773.1L1524.0 777.0L1523.0 778.8L1520.0 783.8L1518.0 786.8L1517.0 788.3L1514.0 792.5L1512.0 795.3L1511.0 796.8L1508.0 801.2L1506.0 804.3L1505.0 805.9L1502.0 811.2L1500.0 815.0L1499.0 816.9L1496.0 823.0L1494.0 827.2L1493.0 829.3L1490.0 835.7L1488.0 839.9L1487.0 842.0L1484.0 848.2L1482.0 852.4L1481.0 854.6L1478.0 861.0L1476.0 865.2L1475.0 867.4L1472.0 873.6L1470.0 877.7L1469.0 879.7L1466.0 885.7L1464.0 889.6L1463.0 891.5L1460.0 897.2L1458.0 901.0L1457.0 902.8L1454.0 908.3L1452.0 911.9L1451.0 913.7L1448.0 919.0L1446.0 922.5L1445.0 924.3L1442.0 929.4L1440.0 932.8L1439.0 934.4L1436.0 939.1L1434.0 942.0L1433.0 943.4L1430.0 947.5L1428.0 950.0L1427.0 951.2L1424.0 954.8L1422.0 957.1L1421.0 958.2L1418.0 961.5L1416.0 963.6L1415.0 964.7L1412.0 968.0L1410.0 970.3L1409.0 971.4L1406.0 974.3L1404.0 975.8L1403.0 976.3L1400.0 977.6L1398.0 978.3L1397.0 978.7L1394.0 979.7L1392.0 980.2L1391.0 980.4L1388.0 980.9L1386.0 981.1L1385.0 981.1L1382.0 980.5L1380.0 980.0L1379.0 979.7L1376.0 978.7L1374.0 978.0L1373.0 977.6L1370.0 976.3L1368.0 975.3L1367.0 974.7L1364.0 972.6L1362.0 971.1L1361.0 970.3L1358.0 967.9L1356.0 966.2L1355.0 965.4L1352.0 963.1L1350.0 961.5L1349.0 960.7L1346.0 958.3L1344.0 956.7L1343.0 955.9L1340.0 953.5L1338.0 951.9L1332.0 947.3L1326.0 942.6L1320.0 938.0L1314.0 933.5L1308.0 929.2L1302.0 925.1L1296.0 921.4L1290.0 917.9L1284.0 914.7L1278.0 911.5L1272.0 908.6L1266.0 905.8L1260.0 903.2L1254.0 900.7L1248.0 898.3L1242.0 896.1L1236.0 894.0L1230.0 891.9L1224.0 890.0L1218.0 888.0L1212.0 886.2L1206.0 884.4L1200.0 882.7L1194.0 881.1L1188.0 879.6L1182.0 878.1L1176.0 876.8L1170.0 875.5L1164.0 874.2L1158.0 873.0L1152.0 871.8L1146.0 870.7L1140.0 869.7L1134.0 868.6L1128.0 867.7L1122.0 866.7L1116.0 865.8L1110.0 864.9L1104.0 864.0L1098.0 863.1L1092.0 862.2L1086.0 861.4L1080.0 860.6L1074.0 859.8L1068.0 859.0L1062.0 858.2L1056.0 857.4L1050.0 856.6L1044.0 855.8L1038.0 855.0L1032.0 854.2L1026.0 853.5L1028.0 844.7L1030.0 840.1L1032.0 836.0L1034.0 832.1L1036.0 828.4L1038.0 825.1L1040.0 822.3L1042.0 819.8L1044.0 817.4L1046.0 815.3L1048.0 813.2L1050.0 811.4L1052.0 809.6L1054.0 807.9L1056.0 806.3L1058.0 804.7L1060.0 803.3L1062.0 801.9L1064.0 800.5L1066.0 799.2L1068.0 797.9L1074.0 794.3L1080.0 790.7L1086.0 787.4L1092.0 784.2L1098.0 781.0L1104.0 778.0L1110.0 775.2L1116.0 772.9L1122.0 770.7L1128.0 768.6L1134.0 766.4L1140.0 764.1L1146.0 761.9L1152.0 759.6L1158.0 757.4L1164.0 755.2L1170.0 753.0L1176.0 750.8L1182.0 748.7L1188.0 746.6L1194.0 744.5L1198.0 743.1" stroke="#c0c0c0" stroke-width="8.0"/>
<path d="M1112.0 720.4L1118.0 717.8L1124.0 715.2L1130.0 712.8L1136.0 710.4L1142.0 708.2L1148.0 706.1L1154.0 704.0L1160.0 702.0L1166.0 700.0L1172.0 698.1L1178.0 696.3L1184.0 694.7L1190.0 693.2L1196.0 691.9L1202.0 690.9L1208.0 690.0L1214.0 689.2L1220.0 688.5L1226.0 687.9L1232.0 687.2L1238.0 686.5L1244.0 685.7L1250.0 684.8L1256.0 683.8L1262.0 682.7L1268.0 681.5L1274.0 680.3L1280.0 679.1L1286.0 677.8L1292.0 676.6L1298.0 675.4L1304.0 674.2L1310.0 672.9L1316.0 671.7L1322.0 670.4L1328.0 669.2L1334.0 668.0L1340.0 666.8L1346.0 665.6L1352.0 664.5L1358.0 663.3L1364.0 662.2L1370.0 661.0L1376.0 659.9L1382.0 658.8L1388.0 657.7L1394.0 656.6L1400.0 655.5L1406.0 654.4L1412.0 653.3L1418.0 652.3L1424.0 651.4L1430.0 650.4L1436.0 649.5L1442.0 648.6L1448.0 647.8L1454.0 646.9L1460.0 646.2L1466.0 645.5L1472.0 644.8L1478.0 644.1L1484.0 643.4L1490.0 642.9L1496.0 642.5L1502.0 642.2L1508.0 642.0L1514.0 641.6L1520.0 641.2L1526.0 640.8L1532.0 640.4L1538.0 639.8L1540.0 639.4L1542.0 639.1L1544.0 638.7L1546.0 638.2L1548.0 637.8L1550.0 637.3L1552.0 636.8L1554.0 636.2L1556.0 635.6L1558.0 635.0L1560.0 634.3L1562.0 633.5L1564.0 632.6L1566.0 631.7L1568.0 630.7L1570.0 629.6L1572.0 628.4L1574.0 627.1L1576.0 625.7L1578.0 624.2L1580.0 622.7L1582.0 621.1L1584.0 619.3L1586.0 617.4L1588.0 615.3L1590.0 613.1L1592.0 610.8L1594.0 608.3L1596.0 605.8L1598.0 603.1L1600.0 600.4L1602.0 597.5L1604.0 594.4L1606.0 591.0L1608.0 587.5L1610.0 583.9L1612.0 580.0L1614.0 575.8L1616.0 571.2L1618.0 566.4L1620.0 561.6L1622.0 557.0L1624.0 552.8L1626.0 548.4L1628.0 543.6L1630.0 537.6L1632.0 530.0L1634.0 521.4L1636.0 512.5L1638.0 503.8L1640.0 495.7L1642.0 487.6L1644.0 479.3L1646.0 470.8L1648.0 461.9L1650.0 452.6L1652.0 443.2L1654.0 433.6L1656.0 423.8L1658.0 413.8L1660.0 403.9L1662.0 394.5L1664.0 385.3L1666.0 376.2L1668.0 366.9L1670.0 357.6L1672.0 347.7L1674.0 336.5L1676.0 324.2L1678.0 311.2L1680.0 298.1L1682.0 285.3L1684.0 271.9L1686.0 258.2L1688.0 245.2L1690.0 233.8L1692.0 224.5L1694.0 216.7L1696.0 209.4L1698.0 201.7L1700.0 194.0L1702.0 186.3L1704.0 178.8L1706.0 172.1L1708.0 168.1L1714.5 155.2L1720.0 162.3L1722.0 165.0L1724.0 168.0L1726.0 173.0L1728.0 178.4L1730.0 183.8L1732.0 188.9L1734.0 193.9L1736.0 199.0L1738.0 204.2L1740.0 209.5L1742.0 214.9L1744.0 220.4L1746.0 225.9L1748.0 231.3L1750.0 236.6L1752.0 241.9L1754.0 247.2L1756.0 252.7L1758.0 258.5L1760.0 264.2L1762.0 269.7L1764.0 274.8L1766.0 279.5L1768.0 284.0L1770.0 288.3L1772.0 292.5L1774.0 296.5L1776.0 300.5L1778.0 304.4L1780.0 308.1L1782.0 311.7L1784.0 315.2L1786.0 318.6L1788.0 322.1L1790.0 325.5L1792.0 328.9L1794.0 332.2L1796.0 335.5L1798.0 338.7L1802.0 344.8L1808.0 353.3L1814.0 360.9L1820.0 367.6L1826.0 373.7L1832.0 379.4L1838.0 384.9L1844.0 390.1L1850.0 395.1L1856.0 399.8L1862.0 404.3L1868.0 408.7L1874.0 413.1L1880.0 417.5L1886.0 422.0L1892.0 426.3L1898.0 430.4L1904.0 434.0L1910.0 437.3L1916.0 440.3L1922.0 443.0L1928.0 445.6L1934.0 448.2L1940.0 450.7L1946.0 453.2L1952.0 455.6L1958.0 457.8L1964.0 459.9L1970.0 461.6L1976.0 463.1L1982.0 464.5L1988.0 465.8L1994.0 467.2L2000.0 468.5L2006.0 470.0L2012.0 471.4L2018.0 472.9L2024.0 474.3L2030.0 475.8L2036.0 477.2L2042.0 478.6L2048.0 479.9L2054.0 481.1L2060.0 482.3L2066.0 483.4L2072.0 484.5L2078.0 485.6L2084.0 486.6L2090.0 487.6L2096.0 488.5L2102.0 489.4L2108.0 490.3L2114.0 491.0L2120.0 491.7L2126.0 492.3L2132.0 492.9L2138.0 493.4L2144.0 493.9L2150.0 494.4L2156.0 494.8L2162.0 495.2L2168.0 495.6L2174.0 496.0L2180.0 496.4L2186.0 496.8L2192.0 497.2L2198.0 497.6L2204.0 497.9L2207.5 498.6L2209.3 500.4L2209.6 503.1L2208.5 506.2L2205.5 510.0L2200.0 514.4L2197.0 516.9L2194.5 518.9L2194.0 519.2L2191.0 521.4L2188.5 523.1L2188.0 523.4L2185.0 525.4L2182.5 527.0L2182.0 527.4L2179.0 529.2L2176.5 530.7L2176.0 531.0L2173.0 532.7L2170.5 534.0L2170.0 534.3L2164.5 537.2L2158.5 540.2L2152.5 543.0L2146.5 545.4L2140.5 547.3L2134.5 548.9L2128.5 550.3L2122.5 551.6L2116.5 553.0L2110.5 554.5L2104.5 556.1L2098.5 557.7L2092.5 559.3L2086.5 560.9L2080.5 562.5L2074.5 564.0L2068.5 565.4L2062.5 566.9L2056.5 568.5L2050.5 570.2L2044.5 571.9L2038.5 573.6L2032.5 575.2L2026.5 576.7L2020.5 578.1L2014.5 579.3L2008.5 580.5L2002.5 581.6L1996.5 582.6L1990.5 583.7L1984.5 584.7L1978.5 585.7L1972.5 586.7L1966.5 587.7L1960.5 588.5L1954.5 589.3L1948.5 590.0L1942.5 590.5L1936.5 591.0L1930.5 591.5L1924.5 591.9L1918.5 592.3L1912.5 592.8L1906.5 593.4L1900.5 594.0L1894.5 594.8L1888.5 595.9L1882.5 597.0L1876.5 598.2L1870.5 599.5L1864.5 600.6L1858.5 601.6L1852.5 602.6L1846.5 603.6L1840.5 604.5L1834.5 605.4L1828.5 606.2L1822.5 607.0L1816.5 607.7L1810.5 608.3L1804.5 609.0L1798.5 609.6L1792.5 610.3L1786.5 611.1L1780.5 611.9L1774.5 612.8L1768.5 613.8L1762.5 614.7L1756.5 615.8L1750.5 616.8L1744.5 617.9L1738.5 619.1L1732.5 620.3L1726.5 621.8L1720.5 623.5L1714.5 625.5L1708.5 627.7L1702.5 630.2L1696.5 632.8L1690.5 635.8L1684.5 639.2L1678.5 642.8L1672.5 646.8L1666.5 651.1L1660.5 655.5L1654.5 660.0L1648.5 664.8L1642.5 669.6L1636.5 674.7L1630.5 679.8L1624.5 684.9L1618.5 690.0L1612.5 695.1L1606.5 700.2L1600.5 705.2L1594.5 710.2L1588.5 715.3L1582.5 720.4L1576.5 725.5L1570.5 730.4L1564.5 735.0L1559.0 739.2L1558.5 739.5L1556.0 741.5L1553.0 743.9L1552.5 744.3L1550.0 746.1L1547.0 748.4L1546.5 748.7L1544.0 750.7L1541.0 753.3L1540.5 753.7L1538.0 756.2L1535.0 759.8L1534.5 760.5L1532.0 764.7L1529.0 770.5L1528.5 771.5L1526.0 776.7L1523.0 782.8L1522.5 783.7L1520.0 788.0L1517.0 792.8L1516.5 793.5L1514.0 797.2L1511.0 801.6L1510.5 802.3L1508.0 806.0L1505.0 810.8L1504.5 811.6L1502.0 816.0L1499.0 821.8L1498.5 822.8L1496.0 828.0L1493.0 834.4L1492.5 835.5L1490.0 840.9L1487.0 847.5L1486.5 848.6L1484.0 853.9L1481.0 860.4L1480.5 861.5L1478.0 867.0L1475.0 873.6L1474.5 874.7L1472.0 880.2L1469.0 886.6L1468.5 887.7L1466.0 892.8L1463.0 898.9L1462.5 899.9L1460.0 904.9L1457.0 910.8L1456.5 911.7L1454.0 916.5L1451.0 922.2L1450.5 923.1L1448.0 927.6L1445.0 933.1L1444.5 934.0L1442.0 938.5L1439.0 943.8L1438.5 944.7L1436.0 948.9L1433.0 953.7L1432.5 954.5L1430.0 958.1L1427.0 962.2L1426.5 962.9L1424.0 966.1L1421.0 969.7L1420.5 970.3L1418.0 973.3L1415.0 976.6L1414.5 977.2L1412.0 979.9L1409.0 983.4L1408.5 983.9L1406.0 986.8L1403.0 989.9L1402.5 990.3L1400.0 992.0L1397.0 993.3L1396.5 993.5L1394.0 994.5L1391.0 995.5L1390.5 995.6L1388.0 996.3L1385.0 996.8L1384.5 996.9L1382.0 997.1L1379.0 996.9L1378.5 996.8L1376.0 996.1L1373.0 995.0L1372.5 994.8L1370.0 993.6L1367.0 992.2L1366.5 992.0L1364.0 990.6L1361.0 988.5L1360.5 988.1L1358.0 986.0L1355.0 983.5L1354.5 983.0L1352.0 980.8L1349.0 978.3L1348.5 977.9L1346.0 975.8L1343.0 973.3L1342.5 972.9L1340.0 970.7L1336.5 967.7L1330.5 962.8L1324.5 957.9L1318.5 952.9L1312.5 948.1L1306.5 943.5L1300.5 939.1L1294.5 935.0L1288.5 931.3L1282.5 927.7L1276.5 924.4L1270.5 921.2L1264.5 918.2L1258.5 915.4L1252.5 912.7L1246.5 910.2L1240.5 907.8L1234.5 905.5L1228.5 903.3L1222.5 901.2L1216.5 899.2L1210.5 897.2L1204.5 895.3L1198.5 893.5L1192.5 891.8L1186.5 890.1L1180.5 888.6L1174.5 887.1L1168.5 885.7L1162.5 884.4L1156.5 883.1L1150.5 881.9L1144.5 880.7L1138.5 879.5L1132.5 878.4L1126.5 877.4L1120.5 876.4L1114.5 875.4L1108.5 874.4L1102.5 873.5L1096.5 872.5L1090.5 871.6L1084.5 870.7L1078.5 869.9L1072.5 869.0L1066.5 868.2L1060.5 867.3L1054.5 866.5L1048.5 865.6L1042.5 864.8L1036.5 864.0L1030.5 863.1L1024.5 862.3L1026.0 858.0L1028.0 852.6L1030.0 847.6L1030.5 846.4L1032.0 843.1L1034.0 838.8L1036.0 834.8L1036.5 833.9L1038.0 831.3L1040.0 828.2L1042.0 825.5L1042.5 824.8L1044.0 822.9L1046.0 820.6L1048.0 818.5L1048.5 817.9L1050.0 816.4L1052.0 814.5L1054.0 812.7L1054.5 812.3L1056.0 811.0L1058.0 809.4L1060.0 807.9L1060.5 807.5L1062.0 806.4L1064.0 805.0L1066.0 803.6L1066.5 803.3L1068.0 802.3L1072.5 799.4L1078.5 795.7L1084.5 792.2L1090.5 788.8L1096.5 785.6L1102.5 782.4L1108.5 779.5L1114.5 777.1L1120.5 774.9L1126.5 772.8L1132.5 770.6L1138.5 768.4L1144.5 766.1L1150.5 763.9L1156.5 761.6L1162.5 759.4L1168.5 757.3L1174.5 755.1L1180.5 753.0L1186.5 750.9L1192.5 748.8L1198.0 746.9" stroke="#808080" stroke-width="8.0"/>
</g>
</g>
<g stroke="#050505" stroke-width="9" fill="none">
<path d="M366 1426.5V22M361.5 26.5H2300.5M2296 22V1423.5M2295.5 1422H361.5"/>
<path d="M366 255.5H402M366 572.3H402M366 891.5H402M366 1209.5H402M366 99.7H385.5M366 412.5H385.5M366 732H385.5M366 1051.8H385.5M366 1369.2H385.5M440.2 1422V1382.5M777.3 1422V1382.5M1114.3 1422V1382.5M1451.3 1422V1382.5M1788.4 1422V1382.5M2125.4 1422V1382.5M608.7 1422V1400M945.8 1422V1400M1282.8 1422V1400M1619.9 1422V1400M1956.9 1422V1400"/>
</g>
<text transform="matrix(0.9309 0 0 1 160.34 288.14)" font-size="96.25" fill="#050505">300</text>
<text transform="matrix(0.9100 0 0 1 160.73 605.92)" font-size="97.67" fill="#050505">150</text>
<text transform="matrix(0.9476 0 0 1 275.51 927.83)" font-size="97.24" fill="#050505">0</text>
<text transform="matrix(0.9323 0 0 1 120.31 1242.33)" font-size="97.39" fill="#050505">-150</text>
<text transform="matrix(0.9826 0 0 1 343.11 1551.23)" font-size="97.10" fill="#050505">-0.8</text>
<text transform="matrix(0.9662 0 0 1 683.48 1551.23)" font-size="97.10" fill="#050505">-0.4</text>
<text transform="matrix(0.9761 0 0 1 1052.41 1551.23)" font-size="97.10" fill="#050505">0.0</text>
<text transform="matrix(0.9633 0 0 1 1390.86 1551.23)" font-size="97.10" fill="#050505">0.4</text>
<text transform="matrix(0.9924 0 0 1 1726.75 1551.23)" font-size="97.10" fill="#050505">0.8</text>
<text transform="matrix(0.9554 0 0 1 2065.05 1551.20)" font-size="97.06" fill="#050505">1.2</text>
<text transform="matrix(0.9636 0 0 1 1000.14 1725.20)" font-size="99.05" font-style="italic" fill="#231f20">E</text>
<text transform="matrix(0.9927 0 0 1 1087.00 1722.93)" font-size="94.80" fill="#231f20">/ V vs Ag/AgCl</text>
<text transform="matrix(0 -1.0178 1 0 88.70 880.99)" font-size="98.04" font-style="italic" fill="#231f20">I</text>
<text transform="matrix(0 -0.9497 1 0 88.25 828.60)" font-size="95.24" fill="#231f20">/</text>
<text transform="matrix(0 -1.2479 1 0 89.07 780.82)" font-size="90.37" style="font-family:'Liberation Serif','DejaVu Serif',serif" fill="#231f20">μ</text>
<text transform="matrix(0 -0.9500 1 0 88.70 722.83)" font-size="98.04" fill="#231f20">A</text>
<g stroke="#050505" fill="none">
<path stroke-width="10" d="M654 641V68.5"/>
<path stroke-width="9" d="M649 73.2H1458.5M1454 69V640.7M1458.5 636.3H649"/>
<path stroke-width="8" d="M654 188.1H669.5M654 299H669.5M654 410H669.5M654 521.5H669.5M816.4 636V602.6M1028.4 636V602.6M1241.8 636V602.6M708.5 636V619.8M762.6 636V619.8M867.4 636V619.8M922 636V619.8M975.3 636V619.8M1082.3 636V619.8M1136.1 636V619.8M1187.1 636V619.8M1294.5 636V619.8M1348.8 636V619.8M1402.4 636V619.8"/>
<path stroke-width="6" d="M654 132.2H661.5M654 243.4H661.5M654 354.6H661.5M654 465.7H661.5M654 577.5H661.5"/>
</g>
<path d="M709.7 365.5L754.1 344.3L786.7 335.1L816.0 322.0L840.9 310.7L863.4 298.2L885.1 295.0L905.5 288.2L923.1 281.4L939.4 270.5L971.9 258.3L1000.4 246.1L1028.7 235.3L1055.2 227.0L1080.3 216.9L1136.1 193.0L1186.7 172.8L1232.7 151.1L1276.0 138.1L1317.3 118.6L1356.8 101.2" stroke="#050505" stroke-width="4.6" fill="none" stroke-linejoin="round"/>
<path d="M709.6 439.0L754.1 453.4L786.5 460.7L815.7 470.7L840.3 475.5L863.0 482.0L884.8 485.2L904.3 491.8L922.7 495.0L940.1 498.3L972.0 505.9L1001.5 514.5L1028.7 520.3L1055.2 525.3L1080.3 532.2L1136.1 540.9L1186.7 551.8L1232.7 562.6L1276.0 570.2L1317.3 574.5L1356.8 586.5" stroke="#050505" stroke-width="4.6" fill="none" stroke-linejoin="round"/>
<g fill="#050505">
<circle cx="709.7" cy="365.5" r="15.3"/>
<circle cx="754.1" cy="344.3" r="15.3"/>
<circle cx="786.7" cy="335.1" r="15.3"/>
<circle cx="816.0" cy="322.0" r="15.3"/>
<circle cx="840.9" cy="310.7" r="15.3"/>
<circle cx="863.4" cy="298.2" r="15.3"/>
<circle cx="885.1" cy="295.0" r="15.3"/>
<circle cx="905.5" cy="288.2" r="15.3"/>
<circle cx="923.1" cy="281.4" r="15.3"/>
<circle cx="939.4" cy="270.5" r="15.3"/>
<circle cx="971.9" cy="258.3" r="15.3"/>
<circle cx="1000.4" cy="246.1" r="15.3"/>
<circle cx="1028.7" cy="235.3" r="15.3"/>
<circle cx="1055.2" cy="227.0" r="15.3"/>
<circle cx="1080.3" cy="216.9" r="15.3"/>
<circle cx="1136.1" cy="193.0" r="15.3"/>
<circle cx="1186.7" cy="172.8" r="15.3"/>
<circle cx="1232.7" cy="151.1" r="15.3"/>
<circle cx="1276.0" cy="138.1" r="15.3"/>
<circle cx="1317.3" cy="118.6" r="15.3"/>
<circle cx="1356.8" cy="101.2" r="15.3"/>
<circle cx="709.6" cy="439.0" r="15.3"/>
<circle cx="754.1" cy="453.4" r="15.3"/>
<circle cx="786.5" cy="460.7" r="15.3"/>
<circle cx="815.7" cy="470.7" r="15.3"/>
<circle cx="840.3" cy="475.5" r="15.3"/>
<circle cx="863.0" cy="482.0" r="15.3"/>
<circle cx="884.8" cy="485.2" r="15.3"/>
<circle cx="904.3" cy="491.8" r="15.3"/>
<circle cx="922.7" cy="495.0" r="15.3"/>
<circle cx="940.1" cy="498.3" r="15.3"/>
<circle cx="972.0" cy="505.9" r="15.3"/>
<circle cx="1001.5" cy="514.5" r="15.3"/>
<circle cx="1028.7" cy="520.3" r="15.3"/>
<circle cx="1055.2" cy="525.3" r="15.3"/>
<circle cx="1080.3" cy="532.2" r="15.3"/>
<circle cx="1136.1" cy="540.9" r="15.3"/>
<circle cx="1186.7" cy="551.8" r="15.3"/>
<circle cx="1232.7" cy="562.6" r="15.3"/>
<circle cx="1276.0" cy="570.2" r="15.3"/>
<circle cx="1317.3" cy="574.5" r="15.3"/>
<circle cx="1356.8" cy="586.5" r="15.3"/>
</g>
<text transform="matrix(0.9446 0 0 1 520.67 204.92)" font-size="68.41" fill="#050505">200</text>
<text transform="matrix(0.9836 0 0 1 591.79 433.04)" font-size="66.43" fill="#050505">0</text>
<text transform="matrix(0.9555 0 0 1 498.78 648.12)" font-size="67.84" fill="#050505">-200</text>
<text transform="matrix(0.9173 0 0 1 772.91 707.15)" font-size="65.16" fill="#050505">0.2</text>
<text transform="matrix(0.9226 0 0 1 984.90 707.15)" font-size="65.16" fill="#050505">0.4</text>
<text transform="matrix(0.9355 0 0 1 1196.86 707.15)" font-size="65.16" fill="#050505">0.6</text>
<text transform="matrix(0.9155 0 0 1 1412.61 707.15)" font-size="65.16" fill="#050505">0.8</text>
<text transform="matrix(0.8653 0 0 1 875.45 820.10)" font-size="78.10" font-style="italic" font-weight="bold" fill="#231f20">v</text>
<text transform="matrix(1.0659 0 0 1 912.01 780.84)" font-size="36.19" fill="#231f20">1/2</text>
<text transform="matrix(0.9944 0 0 1 987.60 820.01)" font-size="78.64" fill="#231f20">/</text>
<text transform="matrix(0.9643 0 0 1 1030.61 820.10)" font-size="80.44" fill="#231f20">V</text>
<text transform="matrix(1.0659 0 0 1 1083.41 780.84)" font-size="36.19" fill="#231f20">1/2</text>
<text transform="matrix(0.9688 0 0 1 1159.09 820.41)" font-size="79.27" fill="#231f20">s</text>
<text transform="matrix(1.0866 0 0 1 1197.43 780.84)" font-size="36.19" fill="#231f20">-1/2</text>
<text transform="matrix(0 -0.9405 1 0 506.70 464.90)" font-size="82.76" fill="#231f20">I</text>
<text transform="matrix(0 -0.9615 1 0 506.69 421.00)" font-size="80.95" fill="#231f20">/</text>
<text transform="matrix(0 -1.0404 1 0 506.12 378.73)" font-size="78.52" style="font-family:'Liberation Serif','DejaVu Serif',serif" fill="#231f20">μ</text>
<text transform="matrix(0 -0.9139 1 0 506.80 331.79)" font-size="82.91" fill="#231f20">A</text>
<text transform="matrix(0.9636 0 0 1 1894.29 189.67)" font-size="72.79" fill="#231f20">500 mV s</text>
<text transform="matrix(0.8319 0 0 1 2190.37 155.20)" font-size="38.25" fill="#231f20">-1</text>
<text transform="matrix(1.0114 0 0 1 1933.86 475.18)" font-size="71.94" fill="#231f20">20</text>
<path d="M1972.9 262V398.4" stroke="#9c9c9c" stroke-width="4"/>
<path d="M1973 213.9L1995.8 267.6Q1973 256.5 1950.2 267.6Z" fill="#231f20"/>
</svg></body></html>
